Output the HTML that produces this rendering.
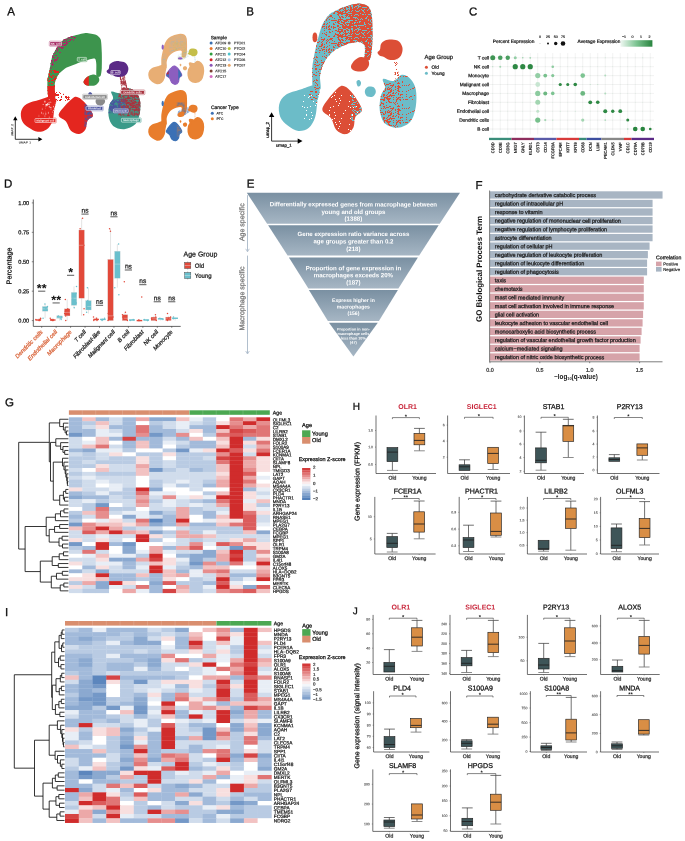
<!DOCTYPE html><html><head><meta charset="utf-8"><title>Figure</title><style>html,body{margin:0;padding:0;background:#fff;width:685px;height:841px;overflow:hidden}svg{display:block}text{font-family:"Liberation Sans",sans-serif}</style></head><body><svg width="685" height="841" viewBox="0 0 685 841" font-family='"Liberation Sans", sans-serif' style="will-change:transform"><defs><path id="u_arch" d="M34.00 86.00 C33.04 84.60 33.36 76.75 33.30 74.00 C33.24 71.25 33.07 65.94 33.50 62.40 C33.93 58.87 35.90 48.33 37.00 43.70 C38.10 39.07 41.27 26.52 42.90 22.70 C44.53 18.88 48.42 13.18 51.00 11.00 C53.58 8.82 61.73 5.22 65.00 4.00 C68.27 2.78 76.26 0.64 79.00 0.50 C81.74 0.36 86.90 1.57 88.50 2.80 C90.10 4.02 92.10 7.59 92.70 11.00 C93.29 14.41 93.60 27.64 93.60 32.00 C93.60 36.36 93.06 45.48 92.70 48.40 C92.34 51.32 91.34 56.00 90.50 57.00 C89.66 58.00 86.03 58.17 85.50 57.00 C84.97 55.83 86.06 48.82 86.00 47.00 C85.94 45.18 85.80 42.33 85.00 41.40 C84.20 40.47 81.15 39.00 79.10 39.00 C77.05 39.00 70.13 40.44 67.40 41.40 C64.67 42.36 58.01 45.57 55.70 47.20 C53.39 48.83 49.09 53.36 47.60 55.40 C46.11 57.44 43.67 62.53 42.90 64.70 C42.13 66.87 41.16 71.52 41.00 74.00 C40.84 76.48 42.32 84.60 41.50 86.00 C40.68 87.40 34.96 87.40 34.00 86.00 Z"/>
<path id="u_left" d="M21.40 86.60 C16.83 88.20 10.13 89.52 6.60 92.00 C3.07 94.48 1.08 97.83 0.20 101.50 C-0.68 105.17 -0.12 110.48 1.30 114.00 C2.72 117.52 5.70 120.27 8.70 122.60 C11.70 124.93 15.77 127.65 19.30 128.00 C22.83 128.35 27.08 127.03 29.90 124.70 C32.72 122.37 34.80 118.23 36.20 114.00 C37.60 109.77 37.58 103.87 38.30 99.30 C39.02 94.73 41.22 89.42 40.50 86.60 C39.78 83.78 37.18 82.40 34.00 82.40 C30.82 82.40 25.97 85.00 21.40 86.60 Z"/>
<path id="u_center" d="M59.50 84.50 C56.32 87.13 49.45 95.42 46.80 99.30 C44.15 103.18 42.73 105.15 43.60 107.80 C44.47 110.45 49.70 112.02 52.00 115.20 C54.30 118.38 54.92 124.25 57.40 126.90 C59.88 129.55 64.08 131.47 66.90 131.10 C69.72 130.73 72.72 127.55 74.30 124.70 C75.88 121.85 74.98 116.82 76.40 114.00 C77.82 111.18 82.27 110.25 82.80 107.80 C83.33 105.35 81.37 102.47 79.60 99.30 C77.83 96.12 74.48 91.38 72.20 88.75 C69.92 86.12 68.02 84.21 65.90 83.50 C63.78 82.79 62.68 81.87 59.50 84.50 Z"/>
<path id="u_right" d="M104.00 76.00 C105.42 74.92 111.33 78.70 114.50 78.00 C117.67 77.30 120.17 72.13 123.00 71.80 C125.83 71.47 129.20 73.53 131.50 76.00 C133.80 78.47 135.92 82.00 136.80 86.60 C137.68 91.20 137.68 98.30 136.80 103.60 C135.92 108.90 134.50 114.88 131.50 118.40 C128.50 121.92 123.05 124.35 118.80 124.70 C114.55 125.05 109.00 123.32 106.00 120.50 C103.00 117.68 101.50 112.38 100.80 107.80 C100.10 103.22 100.93 96.88 101.80 93.00 C102.67 89.12 105.63 87.33 106.00 84.50 C106.37 81.67 102.58 77.08 104.00 76.00 Z"/>
<path id="u_topr" d="M102.00 41.00 C102.83 39.50 104.17 38.25 106.00 37.50 C107.83 36.75 110.67 36.33 113.00 36.50 C115.33 36.67 118.25 37.08 120.00 38.50 C121.75 39.92 123.17 42.67 123.50 45.00 C123.83 47.33 123.08 50.58 122.00 52.50 C120.92 54.42 119.00 55.78 117.00 56.50 C115.00 57.22 112.00 57.22 110.00 56.80 C108.00 56.38 106.58 54.72 105.00 54.00 C103.42 53.28 101.58 53.25 100.50 52.50 C99.42 51.75 98.42 50.50 98.50 49.50 C98.58 48.50 100.42 47.92 101.00 46.50 C101.58 45.08 101.17 42.50 102.00 41.00 Z"/>
<path id="u_archend" d="M72.00 63.00 C72.33 61.33 74.33 58.50 76.00 57.00 C77.67 55.50 79.92 54.17 82.00 54.00 C84.08 53.83 87.17 54.67 88.50 56.00 C89.83 57.33 90.42 60.08 90.00 62.00 C89.58 63.92 87.83 66.42 86.00 67.50 C84.17 68.58 81.00 68.58 79.00 68.50 C77.00 68.42 75.17 67.92 74.00 67.00 C72.83 66.08 71.67 64.67 72.00 63.00 Z"/>
<path id="u_small1" d="M86.50 86.00 C87.17 84.92 88.58 83.75 90.00 83.50 C91.42 83.25 93.87 83.58 95.00 84.50 C96.13 85.42 96.97 87.50 96.80 89.00 C96.63 90.50 95.38 92.75 94.00 93.50 C92.62 94.25 89.83 94.08 88.50 93.50 C87.17 92.92 86.33 91.25 86.00 90.00 C85.67 88.75 85.83 87.08 86.50 86.00 Z"/>
<path id="u_small2" d="M77.50 78.50 C77.75 77.50 79.25 76.83 80.00 77.00 C80.75 77.17 81.83 78.50 82.00 79.50 C82.17 80.50 81.58 82.42 81.00 83.00 C80.42 83.58 79.08 83.75 78.50 83.00 C77.92 82.25 77.25 79.50 77.50 78.50 Z"/>
<path id="u_conn" d="M115.00 56.00 C115.42 54.50 117.33 54.17 118.00 56.00 C118.67 57.83 118.67 63.83 119.00 67.00 C119.33 70.17 120.50 73.67 120.00 75.00 C119.50 76.33 116.75 76.67 116.00 75.00 C115.25 73.33 115.67 68.17 115.50 65.00 C115.33 61.83 114.58 57.50 115.00 56.00 Z"/>
<pattern id="spR55" width="23" height="23" patternUnits="userSpaceOnUse"><path fill="#DC4E36" d="M0 0h3v1h-3zM4 0h2v1h-2zM6 0h2v1h-2zM8 0h1v1h-1zM9 0h1v1h-1zM10 0h1v1h-1zM12 0h1v1h-1zM14 0h1v1h-1zM16 0h2v1h-2zM18 0h1v1h-1zM22 0h1v1h-1zM1 1h1v1h-1zM3 1h3v1h-3zM6 1h1v1h-1zM7 1h3v1h-3zM18 1h1v1h-1zM0 2h1v1h-1zM2 2h2v1h-2zM5 2h1v1h-1zM6 2h3v1h-3zM10 2h1v1h-1zM11 2h1v1h-1zM12 2h1v1h-1zM14 2h1v1h-1zM15 2h2v1h-2zM17 2h3v1h-3zM20 2h2v1h-2zM22 2h1v1h-1zM2 3h3v1h-3zM9 3h2v1h-2zM11 3h2v1h-2zM13 3h3v1h-3zM17 3h1v1h-1zM19 3h1v1h-1zM20 3h1v1h-1zM21 3h1v1h-1zM0 4h2v1h-2zM3 4h2v1h-2zM5 4h3v1h-3zM9 4h2v1h-2zM11 4h1v1h-1zM13 4h2v1h-2zM15 4h3v1h-3zM18 4h3v1h-3zM21 4h1v1h-1zM22 4h1v1h-1zM0 5h1v1h-1zM2 5h3v1h-3zM5 5h1v1h-1zM7 5h2v1h-2zM11 5h3v1h-3zM14 5h3v1h-3zM17 5h1v1h-1zM18 5h2v1h-2zM22 5h1v1h-1zM2 6h1v1h-1zM5 6h3v1h-3zM8 6h1v1h-1zM9 6h1v1h-1zM10 6h1v1h-1zM16 6h1v1h-1zM17 6h2v1h-2zM19 6h2v1h-2zM22 6h1v1h-1zM0 7h1v1h-1zM1 7h1v1h-1zM2 7h3v1h-3zM5 7h1v1h-1zM9 7h1v1h-1zM11 7h3v1h-3zM14 7h2v1h-2zM16 7h3v1h-3zM19 7h1v1h-1zM21 7h2v1h-2zM0 8h3v1h-3zM4 8h3v1h-3zM9 8h3v1h-3zM14 8h1v1h-1zM16 8h3v1h-3zM19 8h1v1h-1zM20 8h3v1h-3zM1 9h3v1h-3zM5 9h1v1h-1zM7 9h3v1h-3zM16 9h1v1h-1zM17 9h2v1h-2zM19 9h3v1h-3zM22 9h1v1h-1zM0 10h1v1h-1zM1 10h1v1h-1zM7 10h1v1h-1zM8 10h1v1h-1zM9 10h1v1h-1zM11 10h2v1h-2zM14 10h3v1h-3zM18 10h3v1h-3zM21 10h2v1h-2zM0 11h1v1h-1zM1 11h1v1h-1zM2 11h1v1h-1zM5 11h2v1h-2zM8 11h2v1h-2zM11 11h2v1h-2zM13 11h3v1h-3zM16 11h2v1h-2zM19 11h1v1h-1zM20 11h1v1h-1zM22 11h1v1h-1zM0 12h3v1h-3zM3 12h3v1h-3zM6 12h1v1h-1zM7 12h1v1h-1zM8 12h1v1h-1zM11 12h1v1h-1zM13 12h1v1h-1zM15 12h3v1h-3zM21 12h2v1h-2zM0 13h2v1h-2zM4 13h1v1h-1zM5 13h2v1h-2zM7 13h2v1h-2zM9 13h2v1h-2zM12 13h3v1h-3zM15 13h1v1h-1zM17 13h3v1h-3zM21 13h1v1h-1zM0 14h1v1h-1zM1 14h1v1h-1zM3 14h1v1h-1zM6 14h1v1h-1zM9 14h3v1h-3zM15 14h1v1h-1zM17 14h1v1h-1zM19 14h1v1h-1zM20 14h2v1h-2zM2 15h3v1h-3zM7 15h1v1h-1zM8 15h3v1h-3zM11 15h3v1h-3zM14 15h3v1h-3zM18 15h1v1h-1zM19 15h3v1h-3zM1 16h3v1h-3zM7 16h3v1h-3zM11 16h2v1h-2zM13 16h1v1h-1zM16 16h1v1h-1zM21 16h1v1h-1zM22 16h1v1h-1zM2 17h1v1h-1zM4 17h3v1h-3zM7 17h3v1h-3zM10 17h1v1h-1zM13 17h1v1h-1zM15 17h3v1h-3zM18 17h1v1h-1zM19 17h1v1h-1zM21 17h1v1h-1zM3 18h1v1h-1zM6 18h1v1h-1zM7 18h3v1h-3zM10 18h3v1h-3zM13 18h2v1h-2zM15 18h2v1h-2zM17 18h2v1h-2zM20 18h3v1h-3zM1 19h3v1h-3zM4 19h3v1h-3zM7 19h3v1h-3zM10 19h3v1h-3zM13 19h3v1h-3zM16 19h3v1h-3zM20 19h3v1h-3zM0 20h1v1h-1zM1 20h3v1h-3zM4 20h1v1h-1zM5 20h1v1h-1zM6 20h3v1h-3zM10 20h2v1h-2zM14 20h3v1h-3zM17 20h2v1h-2zM20 20h1v1h-1zM21 20h1v1h-1zM1 21h2v1h-2zM4 21h2v1h-2zM6 21h3v1h-3zM10 21h1v1h-1zM15 21h3v1h-3zM18 21h3v1h-3zM0 22h3v1h-3zM3 22h2v1h-2zM6 22h2v1h-2zM11 22h1v1h-1zM13 22h3v1h-3zM17 22h1v1h-1zM18 22h2v1h-2zM20 22h3v1h-3z"/></pattern>
<pattern id="spR25" width="23" height="23" patternUnits="userSpaceOnUse"><path fill="#DC4E36" d="M0 0h2v1h-2zM3 0h2v1h-2zM6 0h1v1h-1zM8 0h1v1h-1zM12 0h2v1h-2zM15 0h1v1h-1zM18 0h2v1h-2zM1 1h1v1h-1zM3 1h1v1h-1zM6 1h1v1h-1zM8 1h1v1h-1zM9 1h2v1h-2zM20 1h1v1h-1zM0 2h2v1h-2zM4 2h1v1h-1zM8 2h1v1h-1zM13 2h2v1h-2zM15 2h2v1h-2zM3 3h3v1h-3zM13 3h1v1h-1zM15 3h3v1h-3zM18 3h1v1h-1zM19 3h2v1h-2zM22 3h1v1h-1zM10 4h2v1h-2zM16 4h1v1h-1zM17 4h1v1h-1zM18 4h1v1h-1zM4 5h1v1h-1zM7 5h1v1h-1zM12 5h2v1h-2zM17 5h1v1h-1zM0 6h2v1h-2zM4 6h2v1h-2zM17 6h1v1h-1zM18 6h1v1h-1zM10 7h1v1h-1zM15 7h1v1h-1zM18 7h2v1h-2zM20 7h1v1h-1zM0 8h2v1h-2zM10 8h2v1h-2zM12 8h1v1h-1zM20 8h1v1h-1zM9 9h1v1h-1zM12 9h1v1h-1zM22 9h1v1h-1zM3 10h1v1h-1zM4 10h1v1h-1zM8 10h2v1h-2zM15 10h1v1h-1zM20 10h1v1h-1zM12 11h1v1h-1zM13 11h1v1h-1zM18 11h1v1h-1zM19 11h1v1h-1zM20 11h1v1h-1zM5 12h2v1h-2zM7 12h1v1h-1zM13 12h1v1h-1zM16 12h2v1h-2zM20 12h2v1h-2zM0 13h1v1h-1zM2 13h1v1h-1zM4 13h3v1h-3zM20 13h1v1h-1zM21 13h1v1h-1zM1 14h1v1h-1zM3 14h1v1h-1zM7 14h1v1h-1zM20 14h1v1h-1zM2 15h1v1h-1zM9 15h1v1h-1zM17 15h1v1h-1zM21 15h1v1h-1zM1 16h1v1h-1zM4 16h1v1h-1zM14 16h1v1h-1zM19 16h1v1h-1zM20 16h1v1h-1zM6 17h1v1h-1zM7 17h2v1h-2zM9 17h3v1h-3zM14 17h1v1h-1zM17 17h2v1h-2zM12 18h1v1h-1zM19 18h1v1h-1zM4 19h1v1h-1zM10 19h1v1h-1zM12 19h1v1h-1zM13 19h1v1h-1zM19 19h1v1h-1zM20 19h1v1h-1zM2 20h1v1h-1zM8 20h1v1h-1zM20 20h1v1h-1zM22 20h1v1h-1zM8 21h2v1h-2zM17 21h1v1h-1zM20 21h3v1h-3zM4 22h1v1h-1zM12 22h2v1h-2zM22 22h1v1h-1z"/></pattern>
<pattern id="spR45" width="23" height="23" patternUnits="userSpaceOnUse"><path fill="#DC4E36" d="M0 0h3v1h-3zM5 0h1v1h-1zM10 0h2v1h-2zM12 0h2v1h-2zM17 0h3v1h-3zM20 0h3v1h-3zM0 1h3v1h-3zM3 1h1v1h-1zM4 1h1v1h-1zM10 1h3v1h-3zM14 1h2v1h-2zM17 1h1v1h-1zM18 1h2v1h-2zM20 1h3v1h-3zM0 2h3v1h-3zM11 2h2v1h-2zM13 2h1v1h-1zM18 2h3v1h-3zM2 3h1v1h-1zM5 3h3v1h-3zM8 3h1v1h-1zM10 3h1v1h-1zM14 3h1v1h-1zM15 3h1v1h-1zM16 3h2v1h-2zM21 3h2v1h-2zM0 4h1v1h-1zM2 4h2v1h-2zM5 4h1v1h-1zM6 4h1v1h-1zM7 4h2v1h-2zM13 4h1v1h-1zM16 4h2v1h-2zM19 4h2v1h-2zM22 4h1v1h-1zM2 5h2v1h-2zM5 5h2v1h-2zM8 5h1v1h-1zM11 5h3v1h-3zM14 5h3v1h-3zM17 5h1v1h-1zM19 5h2v1h-2zM0 6h1v1h-1zM2 6h2v1h-2zM4 6h1v1h-1zM6 6h3v1h-3zM9 6h2v1h-2zM14 6h1v1h-1zM15 6h1v1h-1zM18 6h1v1h-1zM20 6h1v1h-1zM1 7h3v1h-3zM10 7h1v1h-1zM11 7h2v1h-2zM14 7h1v1h-1zM19 7h1v1h-1zM20 7h2v1h-2zM22 7h1v1h-1zM2 8h1v1h-1zM4 8h1v1h-1zM5 8h2v1h-2zM8 8h3v1h-3zM12 8h1v1h-1zM13 8h1v1h-1zM15 8h1v1h-1zM17 8h2v1h-2zM20 8h2v1h-2zM0 9h3v1h-3zM3 9h1v1h-1zM4 9h2v1h-2zM6 9h2v1h-2zM8 9h1v1h-1zM9 9h1v1h-1zM11 9h3v1h-3zM14 9h3v1h-3zM17 9h1v1h-1zM20 9h1v1h-1zM4 10h2v1h-2zM7 10h3v1h-3zM10 10h1v1h-1zM11 10h3v1h-3zM14 10h3v1h-3zM17 10h1v1h-1zM18 10h3v1h-3zM21 10h2v1h-2zM0 11h2v1h-2zM2 11h3v1h-3zM8 11h3v1h-3zM11 11h1v1h-1zM12 11h1v1h-1zM16 11h2v1h-2zM21 11h2v1h-2zM1 12h1v1h-1zM2 12h1v1h-1zM4 12h2v1h-2zM7 12h1v1h-1zM10 12h2v1h-2zM13 12h1v1h-1zM20 12h1v1h-1zM21 12h2v1h-2zM0 13h3v1h-3zM3 13h2v1h-2zM5 13h1v1h-1zM6 13h1v1h-1zM11 13h2v1h-2zM13 13h2v1h-2zM16 13h2v1h-2zM21 13h1v1h-1zM2 14h3v1h-3zM7 14h2v1h-2zM9 14h1v1h-1zM14 14h2v1h-2zM17 14h2v1h-2zM20 14h1v1h-1zM2 15h3v1h-3zM5 15h2v1h-2zM7 15h1v1h-1zM10 15h1v1h-1zM15 15h1v1h-1zM0 16h2v1h-2zM2 16h1v1h-1zM3 16h3v1h-3zM7 16h2v1h-2zM10 16h3v1h-3zM13 16h3v1h-3zM16 16h2v1h-2zM21 16h1v1h-1zM22 16h1v1h-1zM12 17h1v1h-1zM13 17h1v1h-1zM15 17h1v1h-1zM18 17h1v1h-1zM19 17h3v1h-3zM22 17h1v1h-1zM0 18h1v1h-1zM2 18h2v1h-2zM4 18h2v1h-2zM8 18h1v1h-1zM9 18h1v1h-1zM11 18h1v1h-1zM13 18h2v1h-2zM16 18h1v1h-1zM19 18h3v1h-3zM2 19h3v1h-3zM7 19h1v1h-1zM9 19h1v1h-1zM11 19h1v1h-1zM16 19h3v1h-3zM19 19h1v1h-1zM0 20h3v1h-3zM3 20h1v1h-1zM7 20h2v1h-2zM11 20h3v1h-3zM14 20h1v1h-1zM18 20h1v1h-1zM19 20h1v1h-1zM21 20h2v1h-2zM1 21h3v1h-3zM4 21h3v1h-3zM7 21h3v1h-3zM15 21h1v1h-1zM16 21h2v1h-2zM19 21h2v1h-2zM22 21h1v1h-1zM1 22h2v1h-2zM3 22h2v1h-2zM6 22h3v1h-3zM9 22h1v1h-1zM12 22h1v1h-1zM13 22h1v1h-1zM17 22h2v1h-2zM20 22h2v1h-2z"/></pattern>
<pattern id="spR65" width="23" height="23" patternUnits="userSpaceOnUse"><path fill="#DC4E36" d="M0 0h2v1h-2zM2 0h2v1h-2zM5 0h3v1h-3zM9 0h2v1h-2zM11 0h3v1h-3zM14 0h2v1h-2zM16 0h1v1h-1zM18 0h1v1h-1zM19 0h2v1h-2zM21 0h2v1h-2zM2 1h3v1h-3zM5 1h3v1h-3zM8 1h3v1h-3zM12 1h3v1h-3zM15 1h3v1h-3zM18 1h3v1h-3zM21 1h2v1h-2zM1 2h3v1h-3zM5 2h1v1h-1zM6 2h3v1h-3zM11 2h3v1h-3zM14 2h2v1h-2zM16 2h3v1h-3zM21 2h2v1h-2zM0 3h1v1h-1zM1 3h3v1h-3zM4 3h3v1h-3zM9 3h1v1h-1zM13 3h2v1h-2zM15 3h1v1h-1zM16 3h3v1h-3zM19 3h3v1h-3zM22 3h1v1h-1zM2 4h1v1h-1zM3 4h2v1h-2zM5 4h1v1h-1zM7 4h3v1h-3zM11 4h3v1h-3zM19 4h2v1h-2zM21 4h2v1h-2zM0 5h3v1h-3zM3 5h3v1h-3zM6 5h3v1h-3zM10 5h3v1h-3zM13 5h3v1h-3zM16 5h2v1h-2zM18 5h3v1h-3zM22 5h1v1h-1zM0 6h2v1h-2zM2 6h2v1h-2zM4 6h1v1h-1zM5 6h1v1h-1zM6 6h2v1h-2zM8 6h1v1h-1zM9 6h1v1h-1zM10 6h3v1h-3zM14 6h1v1h-1zM15 6h1v1h-1zM17 6h3v1h-3zM21 6h2v1h-2zM0 7h1v1h-1zM1 7h3v1h-3zM4 7h3v1h-3zM8 7h3v1h-3zM12 7h2v1h-2zM16 7h3v1h-3zM20 7h3v1h-3zM0 8h3v1h-3zM4 8h3v1h-3zM7 8h1v1h-1zM11 8h2v1h-2zM13 8h2v1h-2zM16 8h3v1h-3zM19 8h2v1h-2zM21 8h2v1h-2zM1 9h3v1h-3zM4 9h1v1h-1zM6 9h1v1h-1zM7 9h3v1h-3zM10 9h3v1h-3zM13 9h3v1h-3zM17 9h2v1h-2zM19 9h3v1h-3zM1 10h2v1h-2zM3 10h3v1h-3zM6 10h3v1h-3zM9 10h3v1h-3zM13 10h3v1h-3zM16 10h3v1h-3zM19 10h1v1h-1zM20 10h3v1h-3zM0 11h1v1h-1zM2 11h1v1h-1zM3 11h1v1h-1zM4 11h3v1h-3zM10 11h3v1h-3zM13 11h1v1h-1zM16 11h1v1h-1zM18 11h1v1h-1zM19 11h1v1h-1zM1 12h3v1h-3zM4 12h2v1h-2zM7 12h3v1h-3zM11 12h1v1h-1zM12 12h3v1h-3zM15 12h1v1h-1zM16 12h3v1h-3zM19 12h3v1h-3zM22 12h1v1h-1zM1 13h2v1h-2zM5 13h3v1h-3zM8 13h3v1h-3zM11 13h3v1h-3zM14 13h1v1h-1zM15 13h3v1h-3zM18 13h1v1h-1zM20 13h1v1h-1zM21 13h2v1h-2zM0 14h1v1h-1zM4 14h1v1h-1zM9 14h3v1h-3zM12 14h3v1h-3zM15 14h3v1h-3zM19 14h1v1h-1zM20 14h3v1h-3zM0 15h2v1h-2zM2 15h1v1h-1zM4 15h3v1h-3zM8 15h1v1h-1zM10 15h3v1h-3zM14 15h3v1h-3zM19 15h2v1h-2zM21 15h2v1h-2zM1 16h2v1h-2zM5 16h2v1h-2zM7 16h2v1h-2zM9 16h1v1h-1zM11 16h1v1h-1zM13 16h1v1h-1zM15 16h2v1h-2zM17 16h1v1h-1zM18 16h2v1h-2zM21 16h2v1h-2zM0 17h2v1h-2zM3 17h3v1h-3zM6 17h1v1h-1zM9 17h2v1h-2zM11 17h1v1h-1zM12 17h2v1h-2zM14 17h3v1h-3zM17 17h3v1h-3zM21 17h1v1h-1zM0 18h3v1h-3zM3 18h1v1h-1zM4 18h3v1h-3zM7 18h1v1h-1zM8 18h1v1h-1zM9 18h2v1h-2zM13 18h2v1h-2zM15 18h3v1h-3zM18 18h2v1h-2zM20 18h1v1h-1zM21 18h1v1h-1zM1 19h1v1h-1zM3 19h2v1h-2zM5 19h1v1h-1zM8 19h1v1h-1zM10 19h1v1h-1zM12 19h3v1h-3zM15 19h1v1h-1zM17 19h1v1h-1zM18 19h2v1h-2zM20 19h3v1h-3zM0 20h3v1h-3zM3 20h3v1h-3zM7 20h2v1h-2zM9 20h2v1h-2zM11 20h3v1h-3zM14 20h2v1h-2zM17 20h3v1h-3zM21 20h2v1h-2zM0 21h1v1h-1zM1 21h1v1h-1zM2 21h1v1h-1zM3 21h1v1h-1zM4 21h1v1h-1zM5 21h2v1h-2zM7 21h3v1h-3zM10 21h2v1h-2zM12 21h1v1h-1zM13 21h1v1h-1zM14 21h2v1h-2zM18 21h1v1h-1zM19 21h2v1h-2zM0 22h1v1h-1zM1 22h1v1h-1zM3 22h3v1h-3zM9 22h1v1h-1zM16 22h1v1h-1zM17 22h3v1h-3zM20 22h3v1h-3z"/></pattern>
<pattern id="spR30" width="23" height="23" patternUnits="userSpaceOnUse"><path fill="#DC4E36" d="M0 0h2v1h-2zM2 0h2v1h-2zM7 0h1v1h-1zM8 0h3v1h-3zM15 0h1v1h-1zM20 0h1v1h-1zM0 1h1v1h-1zM1 1h1v1h-1zM13 1h1v1h-1zM15 1h2v1h-2zM17 1h1v1h-1zM21 1h1v1h-1zM22 1h1v1h-1zM1 2h1v1h-1zM6 2h3v1h-3zM10 2h1v1h-1zM11 2h1v1h-1zM12 2h1v1h-1zM17 2h2v1h-2zM1 3h2v1h-2zM3 3h1v1h-1zM6 3h3v1h-3zM10 3h2v1h-2zM13 3h3v1h-3zM17 3h2v1h-2zM19 3h1v1h-1zM20 3h1v1h-1zM2 4h1v1h-1zM3 4h1v1h-1zM4 4h1v1h-1zM7 4h3v1h-3zM10 4h1v1h-1zM11 4h2v1h-2zM21 4h2v1h-2zM11 5h1v1h-1zM13 5h1v1h-1zM16 5h1v1h-1zM17 5h1v1h-1zM19 5h2v1h-2zM1 6h2v1h-2zM3 6h1v1h-1zM4 6h1v1h-1zM9 6h1v1h-1zM15 6h2v1h-2zM20 6h1v1h-1zM0 7h1v1h-1zM2 7h1v1h-1zM6 7h1v1h-1zM8 7h2v1h-2zM15 7h1v1h-1zM16 7h1v1h-1zM20 7h1v1h-1zM21 7h2v1h-2zM5 8h1v1h-1zM10 8h2v1h-2zM4 9h1v1h-1zM7 9h3v1h-3zM10 9h1v1h-1zM15 9h1v1h-1zM17 9h1v1h-1zM20 9h2v1h-2zM3 10h1v1h-1zM9 10h1v1h-1zM21 10h1v1h-1zM5 11h1v1h-1zM6 11h2v1h-2zM13 11h2v1h-2zM19 11h3v1h-3zM1 12h3v1h-3zM4 12h1v1h-1zM8 12h1v1h-1zM9 12h3v1h-3zM12 12h2v1h-2zM14 12h1v1h-1zM3 13h1v1h-1zM5 13h2v1h-2zM7 13h1v1h-1zM13 13h1v1h-1zM14 13h1v1h-1zM15 13h2v1h-2zM18 13h1v1h-1zM21 13h1v1h-1zM7 14h1v1h-1zM13 14h1v1h-1zM14 14h1v1h-1zM7 15h1v1h-1zM11 15h3v1h-3zM16 15h1v1h-1zM19 15h1v1h-1zM22 15h1v1h-1zM1 16h1v1h-1zM2 16h1v1h-1zM6 16h1v1h-1zM8 16h1v1h-1zM12 16h1v1h-1zM16 16h2v1h-2zM19 16h1v1h-1zM2 17h1v1h-1zM3 17h3v1h-3zM6 17h1v1h-1zM7 17h1v1h-1zM8 17h3v1h-3zM14 17h1v1h-1zM17 17h2v1h-2zM19 17h1v1h-1zM20 17h1v1h-1zM0 18h1v1h-1zM1 18h1v1h-1zM2 18h1v1h-1zM3 18h3v1h-3zM11 18h2v1h-2zM16 18h1v1h-1zM20 18h3v1h-3zM7 19h3v1h-3zM11 19h1v1h-1zM16 19h1v1h-1zM18 19h3v1h-3zM1 20h1v1h-1zM4 20h1v1h-1zM8 20h2v1h-2zM12 20h2v1h-2zM18 20h1v1h-1zM22 20h1v1h-1zM2 21h3v1h-3zM8 21h1v1h-1zM13 21h1v1h-1zM18 21h1v1h-1zM19 21h1v1h-1zM22 21h1v1h-1zM2 22h1v1h-1zM4 22h1v1h-1zM8 22h2v1h-2zM11 22h1v1h-1zM12 22h1v1h-1zM15 22h1v1h-1zM16 22h1v1h-1zM19 22h1v1h-1zM20 22h1v1h-1zM22 22h1v1h-1z"/></pattern>
<pattern id="spR15" width="23" height="23" patternUnits="userSpaceOnUse"><path fill="#DC4E36" d="M6 0h1v1h-1zM10 0h1v1h-1zM14 0h1v1h-1zM20 0h1v1h-1zM21 0h2v1h-2zM17 1h2v1h-2zM20 1h1v1h-1zM5 2h1v1h-1zM6 2h1v1h-1zM8 2h1v1h-1zM11 2h2v1h-2zM22 2h1v1h-1zM3 3h1v1h-1zM4 3h1v1h-1zM13 3h2v1h-2zM17 3h1v1h-1zM2 4h1v1h-1zM3 4h1v1h-1zM5 4h1v1h-1zM9 4h1v1h-1zM10 4h1v1h-1zM22 4h1v1h-1zM6 5h1v1h-1zM2 6h1v1h-1zM14 7h1v1h-1zM20 7h1v1h-1zM22 7h1v1h-1zM0 8h1v1h-1zM3 8h1v1h-1zM9 8h1v1h-1zM12 8h1v1h-1zM14 8h1v1h-1zM15 8h1v1h-1zM1 9h1v1h-1zM8 9h2v1h-2zM11 9h1v1h-1zM8 10h1v1h-1zM13 10h1v1h-1zM4 11h1v1h-1zM14 11h1v1h-1zM19 11h1v1h-1zM9 12h1v1h-1zM15 12h1v1h-1zM22 12h1v1h-1zM4 13h1v1h-1zM8 13h1v1h-1zM13 13h1v1h-1zM15 13h1v1h-1zM19 13h2v1h-2zM21 13h2v1h-2zM3 14h1v1h-1zM9 14h1v1h-1zM21 14h1v1h-1zM4 15h1v1h-1zM5 15h2v1h-2zM12 15h1v1h-1zM13 15h1v1h-1zM17 15h1v1h-1zM20 15h1v1h-1zM4 16h1v1h-1zM14 16h2v1h-2zM16 16h1v1h-1zM19 16h1v1h-1zM1 17h1v1h-1zM13 17h1v1h-1zM20 17h1v1h-1zM3 18h1v1h-1zM4 18h1v1h-1zM19 18h2v1h-2zM22 18h1v1h-1zM4 19h2v1h-2zM8 19h1v1h-1zM9 19h1v1h-1zM10 19h1v1h-1zM13 19h2v1h-2zM19 19h1v1h-1zM20 19h1v1h-1zM2 20h1v1h-1zM13 20h1v1h-1zM14 20h1v1h-1zM17 20h2v1h-2zM19 20h1v1h-1zM22 20h1v1h-1zM1 21h1v1h-1zM4 21h1v1h-1zM21 21h2v1h-2zM4 22h1v1h-1zM6 22h3v1h-3zM16 22h1v1h-1zM19 22h1v1h-1z"/></pattern>
<pattern id="spC20" width="23" height="23" patternUnits="userSpaceOnUse"><path fill="#6CBCC8" d="M4 0h1v1h-1zM15 0h1v1h-1zM22 0h1v1h-1zM3 1h2v1h-2zM18 1h1v1h-1zM22 1h1v1h-1zM2 2h1v1h-1zM4 2h1v1h-1zM5 2h1v1h-1zM8 2h1v1h-1zM9 2h1v1h-1zM15 2h1v1h-1zM16 2h1v1h-1zM9 3h1v1h-1zM13 3h3v1h-3zM4 4h1v1h-1zM19 4h1v1h-1zM20 4h2v1h-2zM22 4h1v1h-1zM4 5h2v1h-2zM12 5h1v1h-1zM13 5h1v1h-1zM15 5h1v1h-1zM16 5h2v1h-2zM22 5h1v1h-1zM1 6h1v1h-1zM8 6h1v1h-1zM15 6h1v1h-1zM19 6h1v1h-1zM1 7h2v1h-2zM5 7h2v1h-2zM7 7h1v1h-1zM12 7h1v1h-1zM13 7h1v1h-1zM16 7h2v1h-2zM18 7h1v1h-1zM19 7h1v1h-1zM20 7h1v1h-1zM4 8h1v1h-1zM9 8h1v1h-1zM22 8h1v1h-1zM2 9h2v1h-2zM4 9h1v1h-1zM5 9h1v1h-1zM6 9h1v1h-1zM15 9h1v1h-1zM16 9h2v1h-2zM18 9h1v1h-1zM15 10h1v1h-1zM16 10h1v1h-1zM17 10h1v1h-1zM18 10h1v1h-1zM22 10h1v1h-1zM0 11h3v1h-3zM4 11h1v1h-1zM6 11h1v1h-1zM7 11h1v1h-1zM14 11h1v1h-1zM15 11h1v1h-1zM21 11h1v1h-1zM7 12h1v1h-1zM12 12h1v1h-1zM15 12h1v1h-1zM16 12h1v1h-1zM19 12h1v1h-1zM20 12h1v1h-1zM11 13h3v1h-3zM15 13h1v1h-1zM16 13h1v1h-1zM18 13h1v1h-1zM20 13h1v1h-1zM21 13h1v1h-1zM0 14h2v1h-2zM5 14h1v1h-1zM14 14h1v1h-1zM15 14h1v1h-1zM17 14h1v1h-1zM21 14h1v1h-1zM1 15h1v1h-1zM4 15h1v1h-1zM6 15h1v1h-1zM7 15h1v1h-1zM11 15h2v1h-2zM2 16h1v1h-1zM5 16h1v1h-1zM8 16h3v1h-3zM12 16h2v1h-2zM19 16h1v1h-1zM21 16h2v1h-2zM6 17h1v1h-1zM2 18h1v1h-1zM7 18h2v1h-2zM10 18h1v1h-1zM11 18h1v1h-1zM0 19h2v1h-2zM3 19h1v1h-1zM7 19h1v1h-1zM8 19h2v1h-2zM11 19h1v1h-1zM12 19h3v1h-3zM0 20h3v1h-3zM3 20h1v1h-1zM9 20h1v1h-1zM14 20h1v1h-1zM7 21h1v1h-1zM8 21h1v1h-1zM14 21h1v1h-1zM3 22h1v1h-1zM4 22h1v1h-1zM18 22h1v1h-1zM20 22h1v1h-1zM21 22h2v1h-2z"/></pattern>
<pattern id="spW10" width="23" height="23" patternUnits="userSpaceOnUse"><path fill="#ffffff" d="M3 0h1v1h-1zM5 0h1v1h-1zM6 0h1v1h-1zM7 0h2v1h-2zM17 0h1v1h-1zM5 1h2v1h-2zM4 2h1v1h-1zM17 2h1v1h-1zM1 3h1v1h-1zM4 3h1v1h-1zM9 3h1v1h-1zM3 4h1v1h-1zM11 4h1v1h-1zM19 4h2v1h-2zM0 5h2v1h-2zM4 5h1v1h-1zM15 5h1v1h-1zM20 5h1v1h-1zM1 6h1v1h-1zM22 6h1v1h-1zM0 7h1v1h-1zM19 7h1v1h-1zM22 8h1v1h-1zM2 10h1v1h-1zM4 10h1v1h-1zM18 11h1v1h-1zM19 11h1v1h-1zM18 12h1v1h-1zM20 12h1v1h-1zM0 13h1v1h-1zM5 13h1v1h-1zM16 13h2v1h-2zM19 13h1v1h-1zM22 13h1v1h-1zM1 14h1v1h-1zM12 14h1v1h-1zM20 14h1v1h-1zM21 14h1v1h-1zM18 15h1v1h-1zM19 15h1v1h-1zM22 15h1v1h-1zM17 16h1v1h-1zM22 16h1v1h-1zM1 17h1v1h-1zM2 17h2v1h-2zM17 17h1v1h-1zM10 18h1v1h-1zM19 18h1v1h-1zM1 19h1v1h-1zM3 19h1v1h-1zM15 19h1v1h-1zM20 19h2v1h-2zM11 20h1v1h-1zM8 21h2v1h-2zM16 21h1v1h-1zM7 22h1v1h-1z"/></pattern>
<pattern id="spW05" width="23" height="23" patternUnits="userSpaceOnUse"><path fill="#ffffff" d="M2 0h1v1h-1zM9 0h1v1h-1zM16 0h1v1h-1zM7 1h1v1h-1zM6 2h1v1h-1zM14 3h1v1h-1zM10 4h1v1h-1zM15 5h1v1h-1zM1 6h1v1h-1zM11 6h1v1h-1zM14 8h1v1h-1zM13 10h1v1h-1zM0 11h1v1h-1zM8 11h1v1h-1zM2 12h1v1h-1zM5 12h1v1h-1zM4 15h1v1h-1zM20 15h1v1h-1zM9 17h1v1h-1zM18 18h1v1h-1zM4 19h1v1h-1zM4 20h1v1h-1zM10 20h1v1h-1z"/></pattern>
<pattern id="spR08" width="23" height="23" patternUnits="userSpaceOnUse"><path fill="#DC4E36" d="M0 0h1v1h-1zM20 0h1v1h-1zM12 1h1v1h-1zM16 1h1v1h-1zM17 1h1v1h-1zM2 2h1v1h-1zM4 2h1v1h-1zM15 2h1v1h-1zM6 4h1v1h-1zM9 4h1v1h-1zM11 4h1v1h-1zM12 4h2v1h-2zM18 4h1v1h-1zM2 5h1v1h-1zM1 7h1v1h-1zM4 10h1v1h-1zM3 11h1v1h-1zM4 11h2v1h-2zM15 12h1v1h-1zM10 13h1v1h-1zM12 13h1v1h-1zM14 13h1v1h-1zM1 14h1v1h-1zM4 14h1v1h-1zM5 14h1v1h-1zM1 15h1v1h-1zM20 15h1v1h-1zM3 16h1v1h-1zM18 16h1v1h-1zM19 16h1v1h-1zM4 17h1v1h-1zM16 17h1v1h-1zM4 18h1v1h-1zM14 18h1v1h-1zM12 19h1v1h-1zM12 22h1v1h-1z"/></pattern>
<pattern id="spG20" width="23" height="23" patternUnits="userSpaceOnUse"><path fill="#3D944D" d="M0 0h1v1h-1zM1 0h1v1h-1zM2 0h2v1h-2zM4 0h1v1h-1zM8 0h1v1h-1zM9 0h3v1h-3zM15 0h1v1h-1zM17 0h1v1h-1zM3 1h2v1h-2zM6 1h1v1h-1zM13 1h1v1h-1zM14 1h1v1h-1zM19 1h2v1h-2zM22 1h1v1h-1zM3 2h3v1h-3zM11 2h1v1h-1zM12 2h1v1h-1zM14 2h1v1h-1zM16 2h1v1h-1zM18 2h1v1h-1zM19 2h1v1h-1zM1 3h3v1h-3zM9 3h3v1h-3zM16 3h1v1h-1zM17 3h1v1h-1zM18 3h1v1h-1zM22 3h1v1h-1zM2 4h1v1h-1zM5 4h2v1h-2zM8 4h1v1h-1zM14 4h2v1h-2zM16 4h1v1h-1zM19 4h1v1h-1zM21 4h1v1h-1zM2 5h2v1h-2zM6 5h1v1h-1zM11 5h1v1h-1zM0 6h1v1h-1zM18 6h1v1h-1zM21 6h1v1h-1zM10 7h1v1h-1zM22 7h1v1h-1zM2 8h1v1h-1zM6 8h1v1h-1zM10 8h1v1h-1zM0 9h1v1h-1zM2 9h1v1h-1zM6 9h2v1h-2zM8 9h1v1h-1zM9 9h2v1h-2zM22 9h1v1h-1zM2 10h1v1h-1zM3 10h1v1h-1zM20 10h1v1h-1zM3 11h1v1h-1zM7 11h1v1h-1zM8 11h1v1h-1zM13 11h1v1h-1zM14 11h2v1h-2zM16 11h1v1h-1zM20 11h1v1h-1zM21 11h1v1h-1zM5 12h2v1h-2zM12 12h2v1h-2zM16 12h2v1h-2zM21 13h2v1h-2zM1 14h1v1h-1zM3 14h1v1h-1zM6 14h3v1h-3zM9 14h1v1h-1zM15 14h1v1h-1zM20 14h1v1h-1zM21 14h1v1h-1zM5 15h2v1h-2zM14 15h3v1h-3zM18 15h1v1h-1zM1 16h1v1h-1zM3 16h1v1h-1zM11 16h1v1h-1zM21 16h1v1h-1zM0 17h3v1h-3zM4 17h1v1h-1zM9 17h2v1h-2zM15 17h1v1h-1zM1 18h1v1h-1zM9 18h1v1h-1zM12 18h1v1h-1zM13 18h1v1h-1zM17 18h1v1h-1zM12 19h2v1h-2zM22 19h1v1h-1zM0 20h1v1h-1zM13 20h1v1h-1zM17 20h3v1h-3zM2 21h1v1h-1zM3 21h1v1h-1zM9 21h2v1h-2zM12 21h1v1h-1zM13 21h2v1h-2zM0 22h3v1h-3zM7 22h1v1h-1zM8 22h1v1h-1zM17 22h1v1h-1zM20 22h1v1h-1zM21 22h2v1h-2z"/></pattern>
<pattern id="spM30" width="23" height="23" patternUnits="userSpaceOnUse"><path fill="#A52A63" d="M2 0h1v1h-1zM3 0h1v1h-1zM5 0h1v1h-1zM7 0h1v1h-1zM11 0h3v1h-3zM19 0h2v1h-2zM0 1h3v1h-3zM4 1h1v1h-1zM6 1h1v1h-1zM8 1h1v1h-1zM10 1h1v1h-1zM11 1h1v1h-1zM13 1h3v1h-3zM16 1h2v1h-2zM22 1h1v1h-1zM1 2h1v1h-1zM3 2h1v1h-1zM5 2h2v1h-2zM8 2h1v1h-1zM10 2h1v1h-1zM11 2h1v1h-1zM15 2h2v1h-2zM22 2h1v1h-1zM1 3h1v1h-1zM2 3h1v1h-1zM3 3h2v1h-2zM5 3h1v1h-1zM6 3h1v1h-1zM10 3h1v1h-1zM12 3h1v1h-1zM18 3h1v1h-1zM19 3h2v1h-2zM21 3h1v1h-1zM1 4h3v1h-3zM7 4h1v1h-1zM8 4h2v1h-2zM11 4h1v1h-1zM16 4h1v1h-1zM20 4h2v1h-2zM22 4h1v1h-1zM1 5h1v1h-1zM2 5h3v1h-3zM7 5h1v1h-1zM11 5h1v1h-1zM17 5h1v1h-1zM19 5h1v1h-1zM21 5h1v1h-1zM2 6h1v1h-1zM5 6h1v1h-1zM9 6h1v1h-1zM13 6h2v1h-2zM15 6h2v1h-2zM19 6h1v1h-1zM20 6h1v1h-1zM21 6h1v1h-1zM3 7h3v1h-3zM6 7h3v1h-3zM17 7h2v1h-2zM19 7h1v1h-1zM21 7h2v1h-2zM1 8h2v1h-2zM4 8h3v1h-3zM15 8h3v1h-3zM19 8h1v1h-1zM21 8h2v1h-2zM4 9h1v1h-1zM5 9h2v1h-2zM7 9h1v1h-1zM9 9h1v1h-1zM10 9h1v1h-1zM15 9h1v1h-1zM16 9h2v1h-2zM20 9h1v1h-1zM22 9h1v1h-1zM1 10h1v1h-1zM2 10h2v1h-2zM4 10h3v1h-3zM13 10h1v1h-1zM15 10h2v1h-2zM17 10h1v1h-1zM20 10h1v1h-1zM21 10h1v1h-1zM3 11h2v1h-2zM6 11h2v1h-2zM8 11h1v1h-1zM11 11h2v1h-2zM14 11h3v1h-3zM18 11h2v1h-2zM3 12h1v1h-1zM11 12h1v1h-1zM15 12h1v1h-1zM20 12h2v1h-2zM0 13h1v1h-1zM1 13h3v1h-3zM8 13h3v1h-3zM11 13h1v1h-1zM17 13h1v1h-1zM20 13h1v1h-1zM21 13h1v1h-1zM0 14h1v1h-1zM2 14h1v1h-1zM4 14h3v1h-3zM8 14h1v1h-1zM9 14h2v1h-2zM11 14h3v1h-3zM18 14h1v1h-1zM20 14h1v1h-1zM21 14h2v1h-2zM0 15h1v1h-1zM5 15h1v1h-1zM8 15h1v1h-1zM14 15h1v1h-1zM16 15h1v1h-1zM17 15h1v1h-1zM18 15h1v1h-1zM21 15h1v1h-1zM1 16h2v1h-2zM3 16h1v1h-1zM6 16h1v1h-1zM10 16h1v1h-1zM16 16h3v1h-3zM19 16h1v1h-1zM20 16h1v1h-1zM22 16h1v1h-1zM1 17h1v1h-1zM4 17h1v1h-1zM6 17h1v1h-1zM11 17h1v1h-1zM17 17h1v1h-1zM20 17h1v1h-1zM0 18h1v1h-1zM5 18h2v1h-2zM7 18h1v1h-1zM10 18h2v1h-2zM18 18h1v1h-1zM20 18h1v1h-1zM22 18h1v1h-1zM3 19h1v1h-1zM6 19h1v1h-1zM10 19h2v1h-2zM14 19h1v1h-1zM16 19h1v1h-1zM17 19h2v1h-2zM19 19h2v1h-2zM21 19h1v1h-1zM0 20h1v1h-1zM1 20h1v1h-1zM8 20h2v1h-2zM10 20h1v1h-1zM12 20h2v1h-2zM14 20h1v1h-1zM20 20h2v1h-2zM1 21h2v1h-2zM5 21h1v1h-1zM9 21h1v1h-1zM10 21h2v1h-2zM12 21h2v1h-2zM14 21h3v1h-3zM18 21h2v1h-2zM20 21h1v1h-1zM2 22h1v1h-1zM3 22h1v1h-1zM4 22h1v1h-1zM9 22h1v1h-1zM15 22h3v1h-3zM18 22h3v1h-3zM21 22h1v1h-1z"/></pattern>
<pattern id="spRa30" width="23" height="23" patternUnits="userSpaceOnUse"><path fill="#E4261F" d="M3 0h1v1h-1zM6 0h1v1h-1zM7 0h2v1h-2zM10 0h1v1h-1zM13 0h1v1h-1zM17 0h1v1h-1zM21 0h2v1h-2zM0 1h1v1h-1zM1 1h1v1h-1zM3 1h1v1h-1zM5 1h1v1h-1zM7 1h2v1h-2zM9 1h1v1h-1zM14 1h1v1h-1zM17 1h1v1h-1zM18 1h2v1h-2zM0 2h2v1h-2zM2 2h2v1h-2zM4 2h1v1h-1zM8 2h1v1h-1zM9 2h1v1h-1zM10 2h3v1h-3zM17 2h1v1h-1zM21 2h1v1h-1zM5 3h1v1h-1zM8 3h2v1h-2zM10 3h3v1h-3zM2 4h2v1h-2zM15 4h1v1h-1zM19 4h1v1h-1zM20 4h1v1h-1zM22 4h1v1h-1zM0 5h3v1h-3zM3 5h1v1h-1zM12 5h1v1h-1zM15 5h1v1h-1zM19 5h1v1h-1zM20 5h3v1h-3zM3 6h1v1h-1zM6 6h1v1h-1zM7 6h1v1h-1zM20 6h1v1h-1zM22 6h1v1h-1zM0 7h2v1h-2zM3 7h3v1h-3zM8 7h1v1h-1zM10 7h1v1h-1zM14 7h2v1h-2zM21 7h2v1h-2zM1 8h1v1h-1zM5 8h2v1h-2zM9 8h1v1h-1zM11 8h1v1h-1zM13 8h2v1h-2zM19 8h1v1h-1zM21 8h1v1h-1zM0 9h1v1h-1zM1 9h1v1h-1zM2 9h1v1h-1zM8 9h3v1h-3zM11 9h2v1h-2zM14 9h1v1h-1zM15 9h1v1h-1zM17 9h3v1h-3zM1 10h1v1h-1zM7 10h1v1h-1zM8 10h2v1h-2zM10 10h2v1h-2zM13 10h1v1h-1zM17 10h2v1h-2zM20 10h1v1h-1zM1 11h1v1h-1zM3 11h1v1h-1zM5 11h1v1h-1zM6 11h1v1h-1zM7 11h1v1h-1zM12 11h3v1h-3zM15 11h2v1h-2zM20 11h3v1h-3zM0 12h1v1h-1zM2 12h1v1h-1zM3 12h1v1h-1zM8 12h1v1h-1zM10 12h2v1h-2zM15 12h3v1h-3zM18 12h2v1h-2zM20 12h3v1h-3zM13 13h2v1h-2zM19 13h2v1h-2zM21 13h1v1h-1zM22 13h1v1h-1zM5 14h1v1h-1zM6 14h1v1h-1zM9 14h2v1h-2zM15 14h1v1h-1zM16 14h1v1h-1zM17 14h1v1h-1zM3 15h1v1h-1zM10 15h2v1h-2zM13 15h1v1h-1zM17 15h1v1h-1zM18 15h2v1h-2zM8 16h1v1h-1zM11 16h3v1h-3zM15 16h2v1h-2zM17 16h1v1h-1zM19 16h1v1h-1zM0 17h1v1h-1zM3 17h1v1h-1zM5 17h1v1h-1zM7 17h1v1h-1zM8 17h2v1h-2zM13 17h1v1h-1zM18 17h1v1h-1zM22 17h1v1h-1zM2 18h1v1h-1zM4 18h1v1h-1zM7 18h1v1h-1zM10 18h2v1h-2zM12 18h1v1h-1zM13 18h1v1h-1zM15 18h2v1h-2zM17 18h1v1h-1zM18 18h1v1h-1zM19 18h3v1h-3zM3 19h3v1h-3zM7 19h1v1h-1zM16 19h2v1h-2zM22 19h1v1h-1zM2 20h2v1h-2zM6 20h1v1h-1zM7 20h1v1h-1zM11 20h1v1h-1zM0 21h1v1h-1zM1 21h1v1h-1zM3 21h1v1h-1zM4 21h1v1h-1zM5 21h1v1h-1zM17 21h1v1h-1zM3 22h1v1h-1zM7 22h1v1h-1zM8 22h1v1h-1zM12 22h2v1h-2zM14 22h2v1h-2z"/></pattern>
<pattern id="spDR40" width="23" height="23" patternUnits="userSpaceOnUse"><path fill="#A8323E" d="M6 0h1v1h-1zM9 0h3v1h-3zM13 0h1v1h-1zM17 0h2v1h-2zM19 0h3v1h-3zM0 1h1v1h-1zM6 1h1v1h-1zM10 1h3v1h-3zM14 1h1v1h-1zM15 1h1v1h-1zM17 1h2v1h-2zM21 1h2v1h-2zM2 2h3v1h-3zM6 2h3v1h-3zM10 2h1v1h-1zM11 2h2v1h-2zM13 2h1v1h-1zM14 2h3v1h-3zM19 2h1v1h-1zM20 2h2v1h-2zM0 3h1v1h-1zM1 3h2v1h-2zM3 3h3v1h-3zM7 3h1v1h-1zM8 3h1v1h-1zM13 3h2v1h-2zM16 3h2v1h-2zM19 3h1v1h-1zM22 3h1v1h-1zM0 4h2v1h-2zM2 4h1v1h-1zM3 4h1v1h-1zM5 4h2v1h-2zM7 4h2v1h-2zM11 4h1v1h-1zM12 4h3v1h-3zM15 4h3v1h-3zM18 4h2v1h-2zM1 5h3v1h-3zM6 5h1v1h-1zM9 5h1v1h-1zM10 5h1v1h-1zM17 5h1v1h-1zM20 5h1v1h-1zM1 6h1v1h-1zM3 6h1v1h-1zM7 6h1v1h-1zM9 6h1v1h-1zM10 6h1v1h-1zM11 6h1v1h-1zM13 6h1v1h-1zM17 6h3v1h-3zM20 6h2v1h-2zM0 7h1v1h-1zM1 7h1v1h-1zM2 7h2v1h-2zM6 7h1v1h-1zM7 7h2v1h-2zM13 7h2v1h-2zM15 7h3v1h-3zM19 7h1v1h-1zM22 7h1v1h-1zM0 8h1v1h-1zM1 8h1v1h-1zM3 8h1v1h-1zM4 8h2v1h-2zM6 8h1v1h-1zM7 8h3v1h-3zM10 8h1v1h-1zM15 8h1v1h-1zM16 8h2v1h-2zM19 8h3v1h-3zM2 9h1v1h-1zM4 9h1v1h-1zM6 9h1v1h-1zM9 9h1v1h-1zM15 9h1v1h-1zM19 9h1v1h-1zM1 10h1v1h-1zM3 10h3v1h-3zM8 10h1v1h-1zM9 10h1v1h-1zM10 10h2v1h-2zM12 10h2v1h-2zM20 10h2v1h-2zM22 10h1v1h-1zM5 11h2v1h-2zM8 11h1v1h-1zM12 11h1v1h-1zM15 11h1v1h-1zM17 11h1v1h-1zM21 11h1v1h-1zM22 11h1v1h-1zM2 12h1v1h-1zM3 12h2v1h-2zM7 12h2v1h-2zM10 12h1v1h-1zM11 12h3v1h-3zM14 12h2v1h-2zM16 12h1v1h-1zM17 12h1v1h-1zM18 12h2v1h-2zM20 12h3v1h-3zM1 13h2v1h-2zM8 13h1v1h-1zM11 13h2v1h-2zM13 13h1v1h-1zM15 13h2v1h-2zM17 13h2v1h-2zM19 13h1v1h-1zM20 13h2v1h-2zM22 13h1v1h-1zM0 14h1v1h-1zM3 14h1v1h-1zM7 14h3v1h-3zM13 14h3v1h-3zM18 14h2v1h-2zM22 14h1v1h-1zM2 15h1v1h-1zM3 15h1v1h-1zM5 15h1v1h-1zM7 15h3v1h-3zM10 15h1v1h-1zM15 15h1v1h-1zM19 15h1v1h-1zM0 16h1v1h-1zM5 16h1v1h-1zM6 16h2v1h-2zM8 16h2v1h-2zM11 16h1v1h-1zM13 16h1v1h-1zM16 16h1v1h-1zM21 16h1v1h-1zM0 17h3v1h-3zM3 17h3v1h-3zM13 17h1v1h-1zM15 17h1v1h-1zM16 17h1v1h-1zM17 17h1v1h-1zM19 17h1v1h-1zM20 17h1v1h-1zM22 17h1v1h-1zM0 18h1v1h-1zM2 18h1v1h-1zM3 18h3v1h-3zM6 18h1v1h-1zM7 18h1v1h-1zM9 18h1v1h-1zM11 18h1v1h-1zM12 18h1v1h-1zM14 18h1v1h-1zM21 18h1v1h-1zM0 19h2v1h-2zM2 19h2v1h-2zM5 19h1v1h-1zM6 19h1v1h-1zM11 19h2v1h-2zM15 19h2v1h-2zM21 19h2v1h-2zM3 20h3v1h-3zM7 20h1v1h-1zM8 20h2v1h-2zM12 20h1v1h-1zM13 20h2v1h-2zM16 20h2v1h-2zM20 20h3v1h-3zM1 21h1v1h-1zM3 21h1v1h-1zM6 21h3v1h-3zM9 21h2v1h-2zM13 21h1v1h-1zM14 21h2v1h-2zM16 21h2v1h-2zM19 21h3v1h-3zM22 21h1v1h-1zM0 22h1v1h-1zM5 22h1v1h-1zM6 22h3v1h-3zM10 22h3v1h-3zM13 22h3v1h-3zM20 22h1v1h-1zM22 22h1v1h-1z"/></pattern>
<pattern id="spT30" width="23" height="23" patternUnits="userSpaceOnUse"><path fill="#3A9A89" d="M3 0h2v1h-2zM5 0h1v1h-1zM10 0h1v1h-1zM11 0h1v1h-1zM12 0h1v1h-1zM13 0h1v1h-1zM17 0h2v1h-2zM20 0h1v1h-1zM22 0h1v1h-1zM1 1h1v1h-1zM3 1h1v1h-1zM4 1h2v1h-2zM11 1h1v1h-1zM19 1h2v1h-2zM1 2h1v1h-1zM4 2h1v1h-1zM7 2h1v1h-1zM8 2h1v1h-1zM9 2h2v1h-2zM12 2h1v1h-1zM13 2h2v1h-2zM18 2h1v1h-1zM20 2h1v1h-1zM22 2h1v1h-1zM0 3h1v1h-1zM2 3h3v1h-3zM8 3h1v1h-1zM12 3h1v1h-1zM15 3h1v1h-1zM17 3h2v1h-2zM19 3h1v1h-1zM0 4h3v1h-3zM4 4h1v1h-1zM6 4h1v1h-1zM22 4h1v1h-1zM8 5h1v1h-1zM14 5h1v1h-1zM17 5h1v1h-1zM20 5h2v1h-2zM4 6h1v1h-1zM6 6h1v1h-1zM8 6h1v1h-1zM10 6h1v1h-1zM11 6h2v1h-2zM13 6h1v1h-1zM16 6h1v1h-1zM19 6h1v1h-1zM22 6h1v1h-1zM14 7h2v1h-2zM16 7h2v1h-2zM18 7h1v1h-1zM1 8h1v1h-1zM7 8h1v1h-1zM12 8h3v1h-3zM16 8h1v1h-1zM22 8h1v1h-1zM2 9h1v1h-1zM3 9h1v1h-1zM4 9h3v1h-3zM7 9h3v1h-3zM12 9h1v1h-1zM3 10h1v1h-1zM14 10h3v1h-3zM17 10h3v1h-3zM3 11h2v1h-2zM6 11h1v1h-1zM10 11h2v1h-2zM17 11h1v1h-1zM20 11h2v1h-2zM7 12h1v1h-1zM10 12h1v1h-1zM12 12h1v1h-1zM15 12h1v1h-1zM16 12h1v1h-1zM18 12h1v1h-1zM5 13h1v1h-1zM6 13h1v1h-1zM10 13h1v1h-1zM15 13h1v1h-1zM16 13h2v1h-2zM20 13h1v1h-1zM21 13h1v1h-1zM22 13h1v1h-1zM0 14h1v1h-1zM12 14h1v1h-1zM20 14h1v1h-1zM2 15h1v1h-1zM5 15h1v1h-1zM6 15h3v1h-3zM9 15h2v1h-2zM15 15h2v1h-2zM21 15h1v1h-1zM2 16h1v1h-1zM4 16h1v1h-1zM5 16h1v1h-1zM9 16h1v1h-1zM12 16h1v1h-1zM22 16h1v1h-1zM4 17h1v1h-1zM13 17h3v1h-3zM17 17h1v1h-1zM18 17h1v1h-1zM20 17h1v1h-1zM0 18h1v1h-1zM2 18h1v1h-1zM7 18h1v1h-1zM9 18h2v1h-2zM12 18h1v1h-1zM20 18h1v1h-1zM0 19h1v1h-1zM4 19h2v1h-2zM6 19h2v1h-2zM15 19h1v1h-1zM19 19h3v1h-3zM11 20h1v1h-1zM13 20h2v1h-2zM15 20h1v1h-1zM22 20h1v1h-1zM4 21h1v1h-1zM5 21h1v1h-1zM7 21h2v1h-2zM11 21h2v1h-2zM16 21h1v1h-1zM19 21h2v1h-2zM21 21h1v1h-1zM22 21h1v1h-1zM0 22h3v1h-3zM6 22h1v1h-1zM7 22h2v1h-2zM10 22h2v1h-2zM12 22h1v1h-1zM13 22h3v1h-3zM19 22h3v1h-3z"/></pattern>
<pattern id="spB30" width="23" height="23" patternUnits="userSpaceOnUse"><path fill="#4A52A0" d="M0 0h1v1h-1zM3 0h3v1h-3zM7 0h1v1h-1zM8 0h2v1h-2zM12 0h3v1h-3zM21 0h1v1h-1zM5 1h2v1h-2zM12 1h1v1h-1zM14 1h2v1h-2zM16 1h1v1h-1zM19 1h1v1h-1zM20 1h3v1h-3zM1 2h1v1h-1zM6 2h2v1h-2zM10 2h1v1h-1zM14 2h1v1h-1zM17 2h1v1h-1zM20 2h1v1h-1zM2 3h3v1h-3zM5 3h3v1h-3zM10 3h1v1h-1zM11 3h3v1h-3zM14 3h3v1h-3zM17 3h1v1h-1zM20 3h2v1h-2zM3 4h2v1h-2zM7 4h1v1h-1zM9 4h1v1h-1zM11 4h3v1h-3zM14 4h1v1h-1zM15 4h1v1h-1zM17 4h1v1h-1zM18 4h1v1h-1zM20 4h2v1h-2zM22 4h1v1h-1zM1 5h1v1h-1zM2 5h2v1h-2zM4 5h2v1h-2zM9 5h1v1h-1zM10 5h1v1h-1zM11 5h1v1h-1zM13 5h3v1h-3zM16 5h1v1h-1zM18 5h1v1h-1zM19 5h1v1h-1zM6 6h2v1h-2zM10 6h1v1h-1zM11 6h3v1h-3zM15 6h1v1h-1zM0 7h1v1h-1zM1 7h2v1h-2zM4 7h1v1h-1zM6 7h3v1h-3zM10 7h1v1h-1zM16 7h1v1h-1zM19 7h1v1h-1zM21 7h1v1h-1zM22 7h1v1h-1zM1 8h2v1h-2zM3 8h1v1h-1zM7 8h1v1h-1zM11 8h1v1h-1zM12 8h1v1h-1zM13 8h2v1h-2zM16 8h1v1h-1zM18 8h1v1h-1zM19 8h1v1h-1zM21 8h2v1h-2zM0 9h1v1h-1zM4 9h1v1h-1zM12 9h2v1h-2zM15 9h1v1h-1zM5 10h1v1h-1zM9 10h1v1h-1zM18 10h3v1h-3zM21 10h1v1h-1zM22 10h1v1h-1zM1 11h2v1h-2zM3 11h3v1h-3zM7 11h3v1h-3zM10 11h2v1h-2zM18 11h2v1h-2zM0 12h1v1h-1zM3 12h2v1h-2zM7 12h1v1h-1zM8 12h1v1h-1zM9 12h1v1h-1zM11 12h1v1h-1zM12 12h3v1h-3zM15 12h1v1h-1zM19 12h2v1h-2zM21 12h1v1h-1zM22 12h1v1h-1zM0 13h1v1h-1zM4 13h2v1h-2zM6 13h2v1h-2zM8 13h1v1h-1zM11 13h1v1h-1zM0 14h1v1h-1zM1 14h1v1h-1zM2 14h1v1h-1zM16 14h2v1h-2zM20 14h2v1h-2zM1 15h1v1h-1zM4 15h1v1h-1zM9 15h1v1h-1zM15 15h1v1h-1zM16 15h1v1h-1zM22 15h1v1h-1zM2 16h2v1h-2zM7 16h1v1h-1zM8 16h1v1h-1zM11 16h1v1h-1zM13 16h1v1h-1zM14 16h1v1h-1zM19 16h1v1h-1zM20 16h1v1h-1zM21 16h1v1h-1zM22 16h1v1h-1zM1 17h2v1h-2zM7 17h1v1h-1zM9 17h3v1h-3zM15 17h1v1h-1zM17 17h1v1h-1zM18 17h2v1h-2zM21 17h1v1h-1zM22 17h1v1h-1zM2 18h1v1h-1zM4 18h2v1h-2zM8 18h1v1h-1zM11 18h1v1h-1zM13 18h2v1h-2zM16 18h1v1h-1zM17 18h1v1h-1zM21 18h1v1h-1zM5 19h1v1h-1zM6 19h1v1h-1zM12 19h1v1h-1zM13 19h1v1h-1zM15 19h1v1h-1zM17 19h2v1h-2zM20 19h2v1h-2zM2 20h1v1h-1zM3 20h2v1h-2zM6 20h1v1h-1zM7 20h3v1h-3zM14 20h1v1h-1zM15 20h2v1h-2zM19 20h1v1h-1zM21 20h2v1h-2zM1 21h2v1h-2zM7 21h1v1h-1zM8 21h1v1h-1zM10 21h1v1h-1zM11 21h2v1h-2zM14 21h1v1h-1zM15 21h1v1h-1zM18 21h1v1h-1zM19 21h3v1h-3zM22 21h1v1h-1zM2 22h1v1h-1zM3 22h1v1h-1zM10 22h2v1h-2zM13 22h2v1h-2z"/></pattern>
<pattern id="spMix" width="23" height="23" patternUnits="userSpaceOnUse"><path fill="#7FB8D8" d="M0 0h1v1h-1zM11 0h1v1h-1zM1 1h1v1h-1zM9 1h1v1h-1zM12 1h1v1h-1zM19 1h1v1h-1zM20 1h1v1h-1zM21 1h1v1h-1zM22 1h1v1h-1zM1 2h1v1h-1zM8 2h1v1h-1zM12 2h1v1h-1zM15 2h1v1h-1zM5 3h1v1h-1zM12 3h1v1h-1zM19 4h1v1h-1zM20 5h1v1h-1zM2 6h1v1h-1zM5 6h1v1h-1zM11 6h1v1h-1zM16 6h1v1h-1zM2 7h1v1h-1zM12 7h1v1h-1zM21 7h1v1h-1zM6 8h1v1h-1zM16 8h1v1h-1zM18 8h1v1h-1zM8 10h1v1h-1zM9 10h1v1h-1zM1 11h1v1h-1zM6 11h1v1h-1zM10 11h1v1h-1zM14 11h1v1h-1zM4 12h1v1h-1zM5 12h1v1h-1zM8 12h1v1h-1zM11 12h1v1h-1zM21 12h1v1h-1zM22 12h1v1h-1zM0 13h1v1h-1zM2 13h1v1h-1zM2 14h1v1h-1zM8 14h1v1h-1zM18 14h1v1h-1zM1 15h1v1h-1zM13 15h1v1h-1zM20 15h1v1h-1zM2 17h1v1h-1zM11 17h1v1h-1zM17 17h1v1h-1zM19 17h1v1h-1zM0 18h2v1h-2zM2 18h1v1h-1zM10 18h1v1h-1zM11 18h1v1h-1zM12 18h2v1h-2zM15 18h1v1h-1zM16 18h1v1h-1zM17 18h1v1h-1zM11 19h1v1h-1zM21 19h1v1h-1zM2 20h3v1h-3zM9 21h1v1h-1zM13 21h1v1h-1zM17 21h1v1h-1zM7 22h1v1h-1zM9 22h1v1h-1z"/></pattern>
<pattern id="spMix2" width="23" height="23" patternUnits="userSpaceOnUse"><path fill="#B7C23A" d="M1 0h1v1h-1zM4 0h1v1h-1zM0 1h1v1h-1zM10 1h1v1h-1zM18 1h1v1h-1zM19 1h1v1h-1zM11 2h1v1h-1zM21 2h1v1h-1zM4 3h2v1h-2zM12 3h2v1h-2zM2 4h1v1h-1zM17 4h1v1h-1zM3 5h1v1h-1zM10 5h1v1h-1zM14 6h1v1h-1zM17 6h1v1h-1zM4 7h1v1h-1zM20 7h1v1h-1zM4 8h1v1h-1zM16 10h1v1h-1zM21 10h1v1h-1zM19 11h1v1h-1zM8 12h1v1h-1zM13 12h1v1h-1zM17 12h1v1h-1zM1 13h1v1h-1zM6 13h1v1h-1zM21 15h1v1h-1zM17 16h1v1h-1zM21 16h1v1h-1zM0 17h1v1h-1zM1 17h1v1h-1zM5 17h1v1h-1zM22 17h1v1h-1zM7 18h1v1h-1zM22 18h1v1h-1zM1 19h1v1h-1zM2 19h1v1h-1zM7 19h1v1h-1zM17 19h1v1h-1zM3 20h1v1h-1zM18 20h1v1h-1zM20 20h1v1h-1zM4 21h1v1h-1zM15 21h1v1h-1zM22 21h1v1h-1z"/></pattern>
<pattern id="spO20" width="23" height="23" patternUnits="userSpaceOnUse"><path fill="#E87D2C" d="M8 0h1v1h-1zM10 0h1v1h-1zM18 0h1v1h-1zM7 1h1v1h-1zM12 1h1v1h-1zM14 1h1v1h-1zM16 1h1v1h-1zM1 2h2v1h-2zM15 2h3v1h-3zM20 2h1v1h-1zM0 3h1v1h-1zM2 3h2v1h-2zM5 3h2v1h-2zM7 3h1v1h-1zM10 3h3v1h-3zM15 3h1v1h-1zM17 3h2v1h-2zM2 4h1v1h-1zM7 4h1v1h-1zM9 4h2v1h-2zM18 4h1v1h-1zM2 5h1v1h-1zM3 5h1v1h-1zM13 5h1v1h-1zM14 5h1v1h-1zM15 5h1v1h-1zM12 6h2v1h-2zM18 6h2v1h-2zM21 6h1v1h-1zM2 7h3v1h-3zM5 7h1v1h-1zM10 7h1v1h-1zM12 7h1v1h-1zM13 7h1v1h-1zM15 7h3v1h-3zM1 8h1v1h-1zM6 8h3v1h-3zM12 8h1v1h-1zM13 8h1v1h-1zM14 8h1v1h-1zM19 8h1v1h-1zM4 9h1v1h-1zM8 9h1v1h-1zM16 9h1v1h-1zM0 10h2v1h-2zM9 10h3v1h-3zM0 11h1v1h-1zM3 11h1v1h-1zM5 11h3v1h-3zM8 11h1v1h-1zM10 11h1v1h-1zM12 11h2v1h-2zM15 11h1v1h-1zM21 11h1v1h-1zM1 12h1v1h-1zM6 12h1v1h-1zM17 12h2v1h-2zM2 13h2v1h-2zM7 13h1v1h-1zM14 13h1v1h-1zM20 13h1v1h-1zM1 14h1v1h-1zM13 14h1v1h-1zM14 14h1v1h-1zM16 14h3v1h-3zM1 15h1v1h-1zM2 15h1v1h-1zM13 15h2v1h-2zM19 15h2v1h-2zM4 16h1v1h-1zM13 16h3v1h-3zM16 16h3v1h-3zM21 16h1v1h-1zM8 17h1v1h-1zM10 17h1v1h-1zM16 17h1v1h-1zM17 17h1v1h-1zM19 17h1v1h-1zM1 18h1v1h-1zM5 18h1v1h-1zM9 19h1v1h-1zM16 19h1v1h-1zM21 19h1v1h-1zM2 20h1v1h-1zM6 20h1v1h-1zM8 20h1v1h-1zM19 20h1v1h-1zM1 21h1v1h-1zM2 21h2v1h-2zM19 21h1v1h-1zM1 22h1v1h-1zM15 22h2v1h-2zM17 22h1v1h-1zM20 22h1v1h-1zM21 22h1v1h-1z"/></pattern>
<pattern id="spBl30" width="23" height="23" patternUnits="userSpaceOnUse"><path fill="#3B70B5" d="M3 0h1v1h-1zM6 0h2v1h-2zM9 0h1v1h-1zM15 0h1v1h-1zM17 0h1v1h-1zM20 0h1v1h-1zM1 1h1v1h-1zM4 1h1v1h-1zM7 1h1v1h-1zM8 1h1v1h-1zM14 1h1v1h-1zM18 1h1v1h-1zM19 1h1v1h-1zM22 1h1v1h-1zM6 2h2v1h-2zM10 2h1v1h-1zM13 2h1v1h-1zM15 2h1v1h-1zM22 2h1v1h-1zM0 3h3v1h-3zM8 3h1v1h-1zM9 3h1v1h-1zM13 3h2v1h-2zM15 3h1v1h-1zM16 3h3v1h-3zM4 4h1v1h-1zM5 4h1v1h-1zM6 4h1v1h-1zM0 5h1v1h-1zM8 5h2v1h-2zM13 5h2v1h-2zM16 5h1v1h-1zM20 5h1v1h-1zM22 5h1v1h-1zM2 6h1v1h-1zM6 6h1v1h-1zM7 6h1v1h-1zM8 6h1v1h-1zM13 6h1v1h-1zM17 6h1v1h-1zM18 6h1v1h-1zM21 6h1v1h-1zM22 6h1v1h-1zM0 7h2v1h-2zM3 7h1v1h-1zM4 7h1v1h-1zM6 7h2v1h-2zM12 7h1v1h-1zM13 7h1v1h-1zM20 7h1v1h-1zM4 8h3v1h-3zM7 8h2v1h-2zM12 8h1v1h-1zM13 8h1v1h-1zM22 8h1v1h-1zM0 9h1v1h-1zM5 9h2v1h-2zM9 9h2v1h-2zM12 9h1v1h-1zM13 9h1v1h-1zM14 9h1v1h-1zM17 9h1v1h-1zM21 9h2v1h-2zM3 10h1v1h-1zM6 10h1v1h-1zM12 10h1v1h-1zM14 10h1v1h-1zM18 10h1v1h-1zM4 11h2v1h-2zM6 11h3v1h-3zM10 11h2v1h-2zM12 11h1v1h-1zM14 11h1v1h-1zM16 11h1v1h-1zM20 11h1v1h-1zM1 12h1v1h-1zM7 12h1v1h-1zM8 12h1v1h-1zM9 12h1v1h-1zM12 12h1v1h-1zM13 12h1v1h-1zM14 12h2v1h-2zM16 12h1v1h-1zM17 12h1v1h-1zM18 12h2v1h-2zM1 13h3v1h-3zM10 13h1v1h-1zM11 13h1v1h-1zM16 13h1v1h-1zM17 13h2v1h-2zM20 13h2v1h-2zM22 13h1v1h-1zM2 14h1v1h-1zM5 14h2v1h-2zM8 14h1v1h-1zM14 14h3v1h-3zM17 14h1v1h-1zM20 14h3v1h-3zM0 15h2v1h-2zM4 15h1v1h-1zM6 15h1v1h-1zM12 15h1v1h-1zM19 15h3v1h-3zM1 16h2v1h-2zM5 16h2v1h-2zM13 16h1v1h-1zM15 16h2v1h-2zM18 16h1v1h-1zM19 16h1v1h-1zM21 16h1v1h-1zM22 16h1v1h-1zM0 17h1v1h-1zM1 17h3v1h-3zM6 17h2v1h-2zM10 17h1v1h-1zM11 17h1v1h-1zM18 17h2v1h-2zM20 17h1v1h-1zM22 17h1v1h-1zM1 18h1v1h-1zM7 18h1v1h-1zM12 18h1v1h-1zM21 18h1v1h-1zM22 18h1v1h-1zM2 19h1v1h-1zM3 19h2v1h-2zM10 19h1v1h-1zM19 19h1v1h-1zM20 19h1v1h-1zM2 20h1v1h-1zM4 20h1v1h-1zM6 20h1v1h-1zM8 20h1v1h-1zM11 20h1v1h-1zM12 20h2v1h-2zM16 20h1v1h-1zM18 20h2v1h-2zM8 21h1v1h-1zM11 21h2v1h-2zM17 21h1v1h-1zM20 21h1v1h-1zM22 21h1v1h-1zM3 22h2v1h-2zM5 22h1v1h-1zM9 22h1v1h-1zM13 22h3v1h-3zM16 22h1v1h-1zM20 22h2v1h-2z"/></pattern>
<clipPath id="cArch"><use href="#u_arch"/></clipPath>
<clipPath id="cRight"><use href="#u_right"/></clipPath>
<clipPath id="cCenter"><use href="#u_center"/></clipPath>
<clipPath id="cLeft"><use href="#u_left"/></clipPath>
<clipPath id="cAE"><use href="#u_archend"/></clipPath></defs><rect width="685" height="841" fill="#fff"/><text x="7.30" y="15.30" font-size="11.5" fill="#111" transform="rotate(0.04 7.30 15.30)" stroke="#111" stroke-width="0.3">A</text>
<text x="246.30" y="15.30" font-size="11.5" fill="#111" transform="rotate(0.04 246.30 15.30)" stroke="#111" stroke-width="0.3">B</text>
<text x="469.00" y="15.50" font-size="11.5" fill="#111" transform="rotate(0.04 469.00 15.50)" stroke="#111" stroke-width="0.3">C</text>
<text x="4.00" y="187.50" font-size="11.5" fill="#111" transform="rotate(0.04 4.00 187.50)" stroke="#111" stroke-width="0.3">D</text>
<text x="246.80" y="187.50" font-size="11.5" fill="#111" transform="rotate(0.04 246.80 187.50)" stroke="#111" stroke-width="0.3">E</text>
<text x="475.60" y="189.00" font-size="11.5" fill="#111" transform="rotate(0.04 475.60 189.00)" stroke="#111" stroke-width="0.3">F</text>
<text x="5.00" y="406.20" font-size="11.5" fill="#111" transform="rotate(0.04 5.00 406.20)" stroke="#111" stroke-width="0.3">G</text>
<text x="352.80" y="409.80" font-size="10.0" fill="#111" transform="rotate(0.04 352.80 409.80)" stroke="#111" stroke-width="0.3">H</text>
<text x="5.00" y="616.00" font-size="11.5" fill="#111" transform="rotate(0.04 5.00 616.00)" stroke="#111" stroke-width="0.3">I</text>
<text x="352.80" y="614.20" font-size="10.0" fill="#111" transform="rotate(0.04 352.80 614.20)" stroke="#111" stroke-width="0.3">J</text>
<clipPath id="cArchA"><path d="M48.60 98.00 C47.71 96.06 47.26 84.84 47.40 81.40 C47.54 77.96 49.25 71.36 49.80 68.50 C50.35 65.64 51.35 59.21 52.10 56.90 C52.85 54.59 54.91 50.67 56.20 48.70 C57.50 46.73 61.16 41.51 63.20 40.00 C65.24 38.49 71.11 36.63 73.70 35.80 C76.29 34.97 82.81 33.03 85.40 32.90 C87.99 32.77 94.12 33.93 95.90 34.70 C97.69 35.47 100.01 37.39 100.70 39.50 C101.39 41.61 101.67 49.47 101.80 52.80 C101.93 56.12 101.95 65.29 101.80 68.00 C101.65 70.71 101.12 75.07 100.50 76.00 C99.88 76.93 96.99 77.40 96.50 76.00 C96.01 74.60 96.51 66.04 96.30 64.00 C96.09 61.96 95.97 58.90 94.70 58.50 C93.43 58.10 87.58 59.97 85.40 60.60 C83.22 61.23 78.18 63.08 76.00 63.90 C73.82 64.72 68.74 66.38 66.70 67.60 C64.66 68.82 59.87 72.65 58.50 74.40 C57.13 76.15 55.43 80.55 55.00 82.60 C54.57 84.65 54.80 90.20 54.80 92.00 C54.80 93.80 55.72 97.30 55.00 98.00 C54.28 98.70 49.49 99.94 48.60 98.00 Z"/></clipPath>
<path d="M48.60 98.00 C47.71 96.06 47.26 84.84 47.40 81.40 C47.54 77.96 49.25 71.36 49.80 68.50 C50.35 65.64 51.35 59.21 52.10 56.90 C52.85 54.59 54.91 50.67 56.20 48.70 C57.50 46.73 61.16 41.51 63.20 40.00 C65.24 38.49 71.11 36.63 73.70 35.80 C76.29 34.97 82.81 33.03 85.40 32.90 C87.99 32.77 94.12 33.93 95.90 34.70 C97.69 35.47 100.01 37.39 100.70 39.50 C101.39 41.61 101.67 49.47 101.80 52.80 C101.93 56.12 101.95 65.29 101.80 68.00 C101.65 70.71 101.12 75.07 100.50 76.00 C99.88 76.93 96.99 77.40 96.50 76.00 C96.01 74.60 96.51 66.04 96.30 64.00 C96.09 61.96 95.97 58.90 94.70 58.50 C93.43 58.10 87.58 59.97 85.40 60.60 C83.22 61.23 78.18 63.08 76.00 63.90 C73.82 64.72 68.74 66.38 66.70 67.60 C64.66 68.82 59.87 72.65 58.50 74.40 C57.13 76.15 55.43 80.55 55.00 82.60 C54.57 84.65 54.80 90.20 54.80 92.00 C54.80 93.80 55.72 97.30 55.00 98.00 C54.28 98.70 49.49 99.94 48.60 98.00 Z" fill="#3D944D"/>
<g clip-path="url(#cArchA)">
<path d="M47.50 66.00 C47.08 64.17 48.67 60.50 49.50 58.00 C50.33 55.50 51.33 53.17 52.50 51.00 C53.67 48.83 54.83 46.92 56.50 45.00 C58.17 43.08 60.25 41.03 62.50 39.50 C64.75 37.97 67.75 36.55 70.00 35.80 C72.25 35.05 75.33 34.30 76.00 35.00 C76.67 35.70 75.50 38.42 74.00 40.00 C72.50 41.58 69.00 42.83 67.00 44.50 C65.00 46.17 63.42 47.92 62.00 50.00 C60.58 52.08 59.58 54.67 58.50 57.00 C57.42 59.33 56.58 62.00 55.50 64.00 C54.42 66.00 53.33 68.67 52.00 69.00 C50.67 69.33 47.92 67.83 47.50 66.00 Z" fill="url(#spM30)"/>
<path d="M47.50 66.00 C47.08 64.17 48.67 60.50 49.50 58.00 C50.33 55.50 51.33 53.17 52.50 51.00 C53.67 48.83 54.83 46.92 56.50 45.00 C58.17 43.08 60.25 41.03 62.50 39.50 C64.75 37.97 67.75 36.55 70.00 35.80 C72.25 35.05 75.33 34.30 76.00 35.00 C76.67 35.70 75.50 38.42 74.00 40.00 C72.50 41.58 69.00 42.83 67.00 44.50 C65.00 46.17 63.42 47.92 62.00 50.00 C60.58 52.08 59.58 54.67 58.50 57.00 C57.42 59.33 56.58 62.00 55.50 64.00 C54.42 66.00 53.33 68.67 52.00 69.00 C50.67 69.33 47.92 67.83 47.50 66.00 Z" fill="url(#spM30)"/>
<rect x="44" y="70" width="16" height="30" fill="url(#spRa30)"/>
<rect x="44" y="78" width="16" height="25" fill="url(#spRa30)"/>
<rect x="44" y="86" width="16" height="20" fill="#E4261F"/>
</g>
<path d="M53.00 91.00 C54.33 89.92 57.67 91.75 60.00 92.50 C62.33 93.25 65.33 94.42 67.00 95.50 C68.67 96.58 70.50 98.08 70.00 99.00 C69.50 99.92 66.17 100.75 64.00 101.00 C61.83 101.25 59.00 100.83 57.00 100.50 C55.00 100.17 52.67 100.58 52.00 99.00 C51.33 97.42 51.67 92.08 53.00 91.00 Z" fill="url(#spRa30)"/>
<path d="M53.00 91.00 C54.33 89.92 57.67 91.75 60.00 92.50 C62.33 93.25 65.33 94.42 67.00 95.50 C68.67 96.58 70.50 98.08 70.00 99.00 C69.50 99.92 66.17 100.75 64.00 101.00 C61.83 101.25 59.00 100.83 57.00 100.50 C55.00 100.17 52.67 100.58 52.00 99.00 C51.33 97.42 51.67 92.08 53.00 91.00 Z" fill="url(#spRa30)"/>
<g transform="translate(21 33) scale(0.869 0.771)">
<use href="#u_left" fill="#E4261F"/>
<g clip-path="url(#cLeft)"><rect x="20" y="86" width="22" height="28" fill="url(#spW05)"/><rect x="28" y="90" width="12" height="16" fill="url(#spW10)"/></g>
<use href="#u_center" fill="#E4261F"/>
<g clip-path="url(#cCenter)"><rect x="73" y="92" width="14" height="30" fill="url(#spB30)"/><rect x="77" y="96" width="10" height="22" fill="url(#spB30)"/></g>
<use href="#u_right" fill="#3A9A89"/>
<g clip-path="url(#cRight)"><rect x="112" y="66" width="30" height="42" fill="url(#spDR40)"/><rect x="116" y="70" width="26" height="32" fill="url(#spDR40)"/><rect x="98" y="86" width="22" height="18" fill="url(#spB30)"/><rect x="100" y="88" width="16" height="14" fill="url(#spB30)"/></g>
<path d="M114.00 55.00 C114.67 53.00 117.83 53.33 119.00 55.00 C120.17 56.67 120.42 61.67 121.00 65.00 C121.58 68.33 123.17 73.00 122.50 75.00 C121.83 77.00 118.25 78.33 117.00 77.00 C115.75 75.67 115.50 70.67 115.00 67.00 C114.50 63.33 113.33 57.00 114.00 55.00 Z" fill="url(#spDR40)"/>
<path d="M114.00 55.00 C114.67 53.00 117.83 53.33 119.00 55.00 C120.17 56.67 120.42 61.67 121.00 65.00 C121.58 68.33 123.17 73.00 122.50 75.00 C121.83 77.00 118.25 78.33 117.00 77.00 C115.75 75.67 115.50 70.67 115.00 67.00 C114.50 63.33 113.33 57.00 114.00 55.00 Z" fill="url(#spDR40)"/>
<use href="#u_topr" fill="#5B2A86"/>
<use href="#u_archend" fill="#3D944D"/>
<g clip-path="url(#cAE)"><rect x="68" y="55" width="10" height="20" fill="#E4261F"/></g>
<use href="#u_small1" fill="#8A8A8A"/>
<use href="#u_small2" fill="#4A52A0"/>
</g>
<g transform="translate(149.5 34.6) scale(0.389 0.379)">
<use href="#u_arch" fill="#E8AE74" stroke="#E8AE74" stroke-width="6" stroke-linejoin="round"/>
<g clip-path="url(#cArch)"><rect x="50" y="0" width="45" height="70" fill="url(#spMix)"/><rect x="60" y="20" width="40" height="50" fill="url(#spMix2)"/><rect x="28" y="50" width="15" height="40" fill="url(#spMix)"/></g>
<ellipse cx="34" cy="33" rx="3" ry="7" fill="#8C5EBF"/>
<path d="M73.00 55.00 C74.33 52.33 77.67 50.83 81.00 49.00 C84.33 47.17 89.33 45.17 93.00 44.00 C96.67 42.83 100.67 41.17 103.00 42.00 C105.33 42.83 107.33 46.50 107.00 49.00 C106.67 51.50 103.67 54.67 101.00 57.00 C98.33 59.33 94.33 61.33 91.00 63.00 C87.67 64.67 84.00 66.67 81.00 67.00 C78.00 67.33 74.33 67.00 73.00 65.00 C71.67 63.00 71.67 57.67 73.00 55.00 Z" fill="url(#spMix2)"/>
<path d="M73.00 55.00 C74.33 52.33 77.67 50.83 81.00 49.00 C84.33 47.17 89.33 45.17 93.00 44.00 C96.67 42.83 100.67 41.17 103.00 42.00 C105.33 42.83 107.33 46.50 107.00 49.00 C106.67 51.50 103.67 54.67 101.00 57.00 C98.33 59.33 94.33 61.33 91.00 63.00 C87.67 64.67 84.00 66.67 81.00 67.00 C78.00 67.33 74.33 67.00 73.00 65.00 C71.67 63.00 71.67 57.67 73.00 55.00 Z" fill="url(#spMix)"/>
<use href="#u_left" fill="#E8AE74" stroke="#E8AE74" stroke-width="6" stroke-linejoin="round"/>
<use href="#u_center" fill="#8C5EBF" stroke="#8C5EBF" stroke-width="3"/>
<g clip-path="url(#cCenter)"><rect x="40" y="84" width="10" height="30" fill="#3B70B5"/><rect x="74" y="90" width="12" height="30" fill="#3B70B5"/><rect x="44" y="95" width="5" height="10" fill="#D2242A"/></g>
<use href="#u_right" fill="#E8AE74" stroke="#E8AE74" stroke-width="6" stroke-linejoin="round"/>
<use href="#u_conn" fill="url(#spMix)"/>
<use href="#u_topr" fill="#C4BE4A"/>
<use href="#u_archend" fill="url(#spMix2)"/>
<ellipse cx="79" cy="63" rx="6" ry="3" fill="#8C5EBF"/>
<use href="#u_small1" fill="#E8AE74"/>
<use href="#u_small2" fill="#E8AE74"/>
</g>
<g transform="translate(149.5 91.0) scale(0.389 0.379)">
<use href="#u_arch" fill="#E87D2C" stroke="#E87D2C" stroke-width="6" stroke-linejoin="round"/>
<ellipse cx="34" cy="33" rx="3" ry="7" fill="#3B70B5"/>
<g clip-path="url(#cArch)"><rect x="70" y="30" width="20" height="40" fill="url(#spBl30)"/></g>
<path d="M73.00 55.00 C74.33 52.33 77.67 50.83 81.00 49.00 C84.33 47.17 89.33 45.17 93.00 44.00 C96.67 42.83 100.67 41.17 103.00 42.00 C105.33 42.83 107.33 46.50 107.00 49.00 C106.67 51.50 103.67 54.67 101.00 57.00 C98.33 59.33 94.33 61.33 91.00 63.00 C87.67 64.67 84.00 66.67 81.00 67.00 C78.00 67.33 74.33 67.00 73.00 65.00 C71.67 63.00 71.67 57.67 73.00 55.00 Z" fill="url(#spBl30)"/>
<use href="#u_left" fill="#E87D2C" stroke="#E87D2C" stroke-width="6" stroke-linejoin="round"/>
<use href="#u_center" fill="#3B70B5" stroke="#3B70B5" stroke-width="3"/>
<g clip-path="url(#cCenter)"><rect x="70" y="90" width="20" height="30" fill="url(#spO20)"/></g>
<use href="#u_right" fill="#E87D2C" stroke="#E87D2C" stroke-width="6" stroke-linejoin="round"/>
<use href="#u_conn" fill="url(#spO20)"/>
<use href="#u_topr" fill="#E87D2C"/>
<use href="#u_archend" fill="#E87D2C"/>
<use href="#u_small1" fill="#E87D2C"/>
<use href="#u_small2" fill="#E87D2C"/>
</g>
<g transform="translate(279 3)">
<use href="#u_arch" fill="#6CBCC8"/>
<g clip-path="url(#cArch)">
<rect x="0" y="-5" width="48" height="100" fill="url(#spR15)"/>
<rect x="47" y="-5" width="13" height="100" fill="url(#spR25)"/>
<rect x="59" y="-5" width="16" height="100" fill="url(#spR45)"/>
<rect x="74" y="-5" width="30" height="100" fill="url(#spR65)"/>
<rect x="25" y="45" width="20" height="50" fill="url(#spR15)"/>
<rect x="40" y="-5" width="20" height="20" fill="url(#spC20)"/>
</g>
<ellipse cx="35.9" cy="34.4" rx="2.4" ry="4.8" fill="#DC4E36"/>
<use href="#u_left" fill="#6CBCC8"/>
<g clip-path="url(#cLeft)"><rect x="22" y="92" width="18" height="25" fill="url(#spW05)"/><rect x="30" y="84" width="12" height="16" fill="url(#spR15)"/></g>
<use href="#u_center" fill="#DC4E36"/>
<g clip-path="url(#cCenter)"><rect x="50" y="88" width="30" height="40" fill="url(#spW05)"/><rect x="72" y="92" width="12" height="26" fill="url(#spC20)"/></g>
<use href="#u_right" fill="#6CBCC8"/>
<g clip-path="url(#cRight)"><rect x="95" y="70" width="45" height="60" fill="url(#spR08)"/><rect x="98" y="80" width="14" height="45" fill="url(#spR25)"/><rect x="108" y="76" width="16" height="50" fill="url(#spR15)"/></g>
<use href="#u_conn" fill="url(#spR25)"/>
<use href="#u_topr" fill="#DC4E36"/>
<use href="#u_archend" fill="#DC4E36"/>
<use href="#u_small1" fill="#6CBCC8"/>
<use href="#u_small2" fill="#6CBCC8"/>
</g>
<rect x="49.30" y="41.20" width="12.70" height="5.10" rx="1" fill="none" stroke="#A52A63" stroke-width="0.45"/><rect x="49.8" y="41.7" width="11.7" height="4.1" rx="0.7" fill="#A52A63" stroke="#fff" stroke-width="0.55"/><text x="55.65" y="44.80" font-size="2.7" fill="#fff" text-anchor="middle" font-weight="bold" transform="rotate(0.04 55.65 44.80)">NK_cell</text>
<rect x="76.80" y="56.90" width="10.30" height="4.80" rx="1" fill="none" stroke="#3D944D" stroke-width="0.45"/><rect x="77.3" y="57.4" width="9.3" height="3.8" rx="0.7" fill="#3D944D" stroke="#fff" stroke-width="0.55"/><text x="81.95" y="60.20" font-size="2.7" fill="#fff" text-anchor="middle" font-weight="bold" transform="rotate(0.04 81.95 60.20)">T_cell</text>
<rect x="110.40" y="70.00" width="10.30" height="4.80" rx="1" fill="none" stroke="#5B2A86" stroke-width="0.45"/><rect x="110.9" y="70.5" width="9.3" height="3.8" rx="0.7" fill="#5B2A86" stroke="#fff" stroke-width="0.55"/><text x="115.55" y="73.30" font-size="2.7" fill="#fff" text-anchor="middle" font-weight="bold" transform="rotate(0.04 115.55 73.30)">B_cell</text>
<rect x="82.50" y="94.20" width="25.00" height="5.20" rx="1" fill="none" stroke="#8A8A8A" stroke-width="0.45"/><rect x="83" y="94.7" width="24" height="4.2" rx="0.7" fill="#8A8A8A" stroke="#fff" stroke-width="0.55"/><text x="95.00" y="97.90" font-size="2.7" fill="#fff" text-anchor="middle" font-weight="bold" transform="rotate(0.04 95.00 97.90)">Endothelial cell</text>
<rect x="85.50" y="106.00" width="17.80" height="4.80" rx="1" fill="none" stroke="#4A52A0" stroke-width="0.45"/><rect x="86" y="106.5" width="16.8" height="3.8" rx="0.7" fill="#4A52A0" stroke="#fff" stroke-width="0.55"/><text x="94.40" y="109.30" font-size="2.7" fill="#fff" text-anchor="middle" font-weight="bold" transform="rotate(0.04 94.40 109.30)">Fibroblast</text>
<rect x="120.30" y="89.90" width="24.60" height="4.80" rx="1" fill="none" stroke="#A8323E" stroke-width="0.45"/><rect x="120.8" y="90.4" width="23.6" height="3.8" rx="0.7" fill="#A8323E" stroke="#fff" stroke-width="0.55"/><text x="132.60" y="93.20" font-size="2.7" fill="#fff" text-anchor="middle" font-weight="bold" transform="rotate(0.04 132.60 93.20)">Dendritic cells</text>
<rect x="112.90" y="108.50" width="15.80" height="4.80" rx="1" fill="none" stroke="#4A52A0" stroke-width="0.45"/><rect x="113.4" y="109" width="14.8" height="3.8" rx="0.7" fill="#4A52A0" stroke="#fff" stroke-width="0.55"/><text x="120.80" y="111.80" font-size="2.7" fill="#fff" text-anchor="middle" font-weight="bold" transform="rotate(0.04 120.80 111.80)">Monocyte</text>
<rect x="120.90" y="117.80" width="20.30" height="4.80" rx="1" fill="none" stroke="#3A9A89" stroke-width="0.45"/><rect x="121.4" y="118.3" width="19.3" height="3.8" rx="0.7" fill="#3A9A89" stroke="#fff" stroke-width="0.55"/><text x="131.05" y="121.10" font-size="2.7" fill="#fff" text-anchor="middle" font-weight="bold" transform="rotate(0.04 131.05 121.10)">Macrophage</text>
<rect x="34.50" y="118.00" width="21.80" height="5.00" rx="1" fill="none" stroke="#E4261F" stroke-width="0.45"/><rect x="35" y="118.5" width="20.8" height="4.0" rx="0.7" fill="#E4261F" stroke="#fff" stroke-width="0.55"/><text x="45.40" y="121.50" font-size="2.7" fill="#fff" text-anchor="middle" font-weight="bold" transform="rotate(0.04 45.40 121.50)">Malignant cell</text>
<path d="M15.3 139.3 L38.8 139.3 M15.3 139.3 L15.3 119.80000000000001" stroke="#000" stroke-width="0.8" fill="none"/>
<path d="M42.4 139.3 L38.4 137.10000000000002 L38.4 141.5 Z" fill="#000"/>
<path d="M15.3 116.20000000000002 L13.100000000000001 120.20000000000002 L17.5 120.20000000000002 Z" fill="#000"/>
<text x="18.80" y="143.50" font-size="3.0" fill="#111" font-weight="bold" transform="rotate(0.04 18.80 143.50)">UMAP_1</text>
<text x="13.30" y="136.30" font-size="3.0" fill="#111" font-weight="bold" transform="rotate(-89.96 13.30 136.30)">UMAP_2</text>
<path d="M271.6 141.1 L298.1 141.1 M271.6 141.1 L271.6 116.69999999999999" stroke="#000" stroke-width="0.8" fill="none"/>
<path d="M302.5 141.1 L297.70000000000005 138.4 L297.70000000000005 143.79999999999998 Z" fill="#000"/>
<path d="M271.6 112.29999999999998 L268.90000000000003 117.1 L274.3 117.1 Z" fill="#000"/>
<text x="275.90" y="146.70" font-size="4.4" fill="#111" transform="rotate(0.04 275.90 146.70)" stroke="#111" stroke-width="0.220">umap_1</text>
<text x="269.00" y="137.80" font-size="4.4" fill="#111" transform="rotate(-89.96 269.00 137.80)" stroke="#111" stroke-width="0.220">umap_2</text>
<text x="210.70" y="39.20" font-size="4.75" fill="#222" transform="rotate(0.04 210.70 39.20)" stroke="#222" stroke-width="0.238">Sample</text>
<circle cx="211.1" cy="42.90" r="1.5" fill="#3A6FB0"/>
<text x="215.30" y="44.20" font-size="3.6" fill="#333" transform="rotate(0.04 215.30 44.20)" stroke="#333" stroke-width="0.180">ATC09</text>
<circle cx="211.1" cy="48.50" r="1.5" fill="#E8762C"/>
<text x="215.30" y="49.80" font-size="3.6" fill="#333" transform="rotate(0.04 215.30 49.80)" stroke="#333" stroke-width="0.180">ATC10</text>
<circle cx="211.1" cy="54.10" r="1.5" fill="#2E9E3E"/>
<text x="215.30" y="55.40" font-size="3.6" fill="#333" transform="rotate(0.04 215.30 55.40)" stroke="#333" stroke-width="0.180">ATC11</text>
<circle cx="211.1" cy="59.70" r="1.5" fill="#D2242A"/>
<text x="215.30" y="61.00" font-size="3.6" fill="#333" transform="rotate(0.04 215.30 61.00)" stroke="#333" stroke-width="0.180">ATC12</text>
<circle cx="211.1" cy="65.30" r="1.5" fill="#8A55B5"/>
<text x="215.30" y="66.60" font-size="3.6" fill="#333" transform="rotate(0.04 215.30 66.60)" stroke="#333" stroke-width="0.180">ATC13</text>
<circle cx="211.1" cy="70.90" r="1.5" fill="#7A3F32"/>
<text x="215.30" y="72.20" font-size="3.6" fill="#333" transform="rotate(0.04 215.30 72.20)" stroke="#333" stroke-width="0.180">ATC15</text>
<circle cx="211.1" cy="76.50" r="1.5" fill="#D46BC0"/>
<text x="215.30" y="77.80" font-size="3.6" fill="#333" transform="rotate(0.04 215.30 77.80)" stroke="#333" stroke-width="0.180">ATC17</text>
<circle cx="229.2" cy="42.90" r="1.5" fill="#777777"/>
<text x="234.00" y="44.20" font-size="3.6" fill="#333" transform="rotate(0.04 234.00 44.20)" stroke="#333" stroke-width="0.180">PTC01</text>
<circle cx="229.2" cy="48.50" r="1.5" fill="#B5C234"/>
<text x="234.00" y="49.80" font-size="3.6" fill="#333" transform="rotate(0.04 234.00 49.80)" stroke="#333" stroke-width="0.180">PTC02</text>
<circle cx="229.2" cy="54.10" r="1.5" fill="#4BC4CE"/>
<text x="234.00" y="55.40" font-size="3.6" fill="#333" transform="rotate(0.04 234.00 55.40)" stroke="#333" stroke-width="0.180">PTC04</text>
<circle cx="229.2" cy="59.70" r="1.5" fill="#A9C4E8"/>
<text x="234.00" y="61.00" font-size="3.6" fill="#333" transform="rotate(0.04 234.00 61.00)" stroke="#333" stroke-width="0.180">PTC06</text>
<circle cx="229.2" cy="65.30" r="1.5" fill="#E8A86A"/>
<text x="234.00" y="66.60" font-size="3.6" fill="#333" transform="rotate(0.04 234.00 66.60)" stroke="#333" stroke-width="0.180">PTC07</text>
<text x="210.90" y="109.00" font-size="4.95" fill="#222" transform="rotate(0.04 210.90 109.00)" stroke="#222" stroke-width="0.248">Cancer Type</text>
<circle cx="212.3" cy="113.3" r="1.5" fill="#3B70B5"/><text x="216.60" y="114.50" font-size="3.4" fill="#333" transform="rotate(0.04 216.60 114.50)" stroke="#333" stroke-width="0.170">ATC</text>
<circle cx="212.3" cy="118.7" r="1.5" fill="#E87D2C"/><text x="216.60" y="119.90" font-size="3.4" fill="#333" transform="rotate(0.04 216.60 119.90)" stroke="#333" stroke-width="0.170">PTC</text>
<text x="424.50" y="59.00" font-size="5.9" fill="#222" transform="rotate(0.04 424.50 59.00)" stroke="#222" stroke-width="0.250">Age Group</text>
<circle cx="426.4" cy="67.2" r="1.5" fill="#DC4E36"/><text x="431.60" y="68.80" font-size="4.7" fill="#222" transform="rotate(0.04 431.60 68.80)" stroke="#222" stroke-width="0.235">Old</text>
<circle cx="426.4" cy="73.2" r="1.5" fill="#6CBCC8"/><text x="431.60" y="74.90" font-size="4.7" fill="#222" transform="rotate(0.04 431.60 74.90)" stroke="#222" stroke-width="0.235">Young</text>
<path d="M492.75 53V134.5 M500.25 53V134.5 M507.75 53V134.5 M515.25 53V134.5 M522.75 53V134.5 M530.25 53V134.5 M537.75 53V134.5 M545.25 53V134.5 M552.75 53V134.5 M560.25 53V134.5 M567.75 53V134.5 M575.25 53V134.5 M582.75 53V134.5 M590.25 53V134.5 M597.75 53V134.5 M605.25 53V134.5 M612.75 53V134.5 M620.25 53V134.5 M627.75 53V134.5 M635.25 53V134.5 M642.75 53V134.5 M650.25 53V134.5 M489 57.80H654 M489 66.70H654 M489 75.60H654 M489 84.50H654 M489 93.40H654 M489 102.30H654 M489 111.20H654 M489 120.10H654 M489 129.00H654" stroke="#e3e3e3" stroke-width="0.45" fill="none"/>
<circle cx="492.75" cy="57.80" r="2.5" fill="#3f9554"/>
<circle cx="500.25" cy="57.80" r="2.3" fill="#4a9e60"/>
<circle cx="507.75" cy="57.80" r="2.2" fill="#4a9e60"/>
<circle cx="515.25" cy="57.80" r="1.5" fill="#93cea5"/>
<circle cx="522.75" cy="57.80" r="0.8" fill="#a2d5b1"/>
<circle cx="530.25" cy="57.80" r="0.9" fill="#a2d5b1"/>
<circle cx="537.75" cy="57.80" r="0.35" fill="#cee9d7"/>
<circle cx="545.25" cy="57.80" r="0.35" fill="#cee9d7"/>
<circle cx="552.75" cy="57.80" r="0.35" fill="#cee9d7"/>
<circle cx="560.25" cy="57.80" r="0.35" fill="#cee9d7"/>
<circle cx="567.75" cy="57.80" r="0.35" fill="#cee9d7"/>
<circle cx="575.25" cy="57.80" r="0.35" fill="#cee9d7"/>
<circle cx="582.75" cy="57.80" r="0.35" fill="#cee9d7"/>
<circle cx="590.25" cy="57.80" r="0.35" fill="#cee9d7"/>
<circle cx="597.75" cy="57.80" r="0.35" fill="#cee9d7"/>
<circle cx="605.25" cy="57.80" r="0.5" fill="#c7e5d1"/>
<circle cx="612.75" cy="57.80" r="0.35" fill="#cee9d7"/>
<circle cx="620.25" cy="57.80" r="0.35" fill="#cee9d7"/>
<circle cx="627.75" cy="57.80" r="0.35" fill="#cee9d7"/>
<circle cx="635.25" cy="57.80" r="0.35" fill="#cee9d7"/>
<circle cx="642.75" cy="57.80" r="0.5" fill="#c7e5d1"/>
<circle cx="650.25" cy="57.80" r="0.35" fill="#cee9d7"/>
<circle cx="492.75" cy="66.70" r="0.6" fill="#b8dfc4"/>
<circle cx="500.25" cy="66.70" r="1.0" fill="#a2d5b1"/>
<circle cx="507.75" cy="66.70" r="0.35" fill="#cee9d7"/>
<circle cx="515.25" cy="66.70" r="2.6" fill="#2e8844"/>
<circle cx="522.75" cy="66.70" r="2.6" fill="#2e8844"/>
<circle cx="530.25" cy="66.70" r="2.6" fill="#2e8844"/>
<circle cx="537.75" cy="66.70" r="0.35" fill="#cee9d7"/>
<circle cx="545.25" cy="66.70" r="0.35" fill="#cee9d7"/>
<circle cx="552.75" cy="66.70" r="1.3" fill="#8ccb9f"/>
<circle cx="560.25" cy="66.70" r="0.35" fill="#cee9d7"/>
<circle cx="567.75" cy="66.70" r="0.35" fill="#cee9d7"/>
<circle cx="575.25" cy="66.70" r="0.35" fill="#cee9d7"/>
<circle cx="582.75" cy="66.70" r="0.35" fill="#cee9d7"/>
<circle cx="590.25" cy="66.70" r="0.35" fill="#cee9d7"/>
<circle cx="597.75" cy="66.70" r="0.35" fill="#cee9d7"/>
<circle cx="605.25" cy="66.70" r="0.35" fill="#cee9d7"/>
<circle cx="612.75" cy="66.70" r="0.35" fill="#cee9d7"/>
<circle cx="620.25" cy="66.70" r="0.35" fill="#cee9d7"/>
<circle cx="627.75" cy="66.70" r="0.35" fill="#cee9d7"/>
<circle cx="635.25" cy="66.70" r="0.35" fill="#cee9d7"/>
<circle cx="642.75" cy="66.70" r="0.35" fill="#cee9d7"/>
<circle cx="650.25" cy="66.70" r="0.35" fill="#cee9d7"/>
<circle cx="492.75" cy="75.60" r="0.35" fill="#cee9d7"/>
<circle cx="500.25" cy="75.60" r="0.35" fill="#cee9d7"/>
<circle cx="507.75" cy="75.60" r="0.35" fill="#cee9d7"/>
<circle cx="515.25" cy="75.60" r="0.35" fill="#cee9d7"/>
<circle cx="522.75" cy="75.60" r="0.35" fill="#cee9d7"/>
<circle cx="530.25" cy="75.60" r="0.35" fill="#cee9d7"/>
<circle cx="537.75" cy="75.60" r="2.6" fill="#93cea5"/>
<circle cx="545.25" cy="75.60" r="1.9" fill="#77c08c"/>
<circle cx="552.75" cy="75.60" r="1.6" fill="#84c798"/>
<circle cx="560.25" cy="75.60" r="0.35" fill="#cee9d7"/>
<circle cx="567.75" cy="75.60" r="0.35" fill="#cee9d7"/>
<circle cx="575.25" cy="75.60" r="0.35" fill="#cee9d7"/>
<circle cx="582.75" cy="75.60" r="2.3" fill="#7dc492"/>
<circle cx="590.25" cy="75.60" r="0.35" fill="#cee9d7"/>
<circle cx="597.75" cy="75.60" r="0.35" fill="#cee9d7"/>
<circle cx="605.25" cy="75.60" r="1.0" fill="#b1dbbe"/>
<circle cx="612.75" cy="75.60" r="0.35" fill="#cee9d7"/>
<circle cx="620.25" cy="75.60" r="0.35" fill="#cee9d7"/>
<circle cx="627.75" cy="75.60" r="0.35" fill="#cee9d7"/>
<circle cx="635.25" cy="75.60" r="0.35" fill="#cee9d7"/>
<circle cx="642.75" cy="75.60" r="0.35" fill="#cee9d7"/>
<circle cx="650.25" cy="75.60" r="0.35" fill="#cee9d7"/>
<circle cx="492.75" cy="84.50" r="0.35" fill="#cee9d7"/>
<circle cx="500.25" cy="84.50" r="0.35" fill="#cee9d7"/>
<circle cx="507.75" cy="84.50" r="0.35" fill="#cee9d7"/>
<circle cx="515.25" cy="84.50" r="0.35" fill="#cee9d7"/>
<circle cx="522.75" cy="84.50" r="0.35" fill="#cee9d7"/>
<circle cx="530.25" cy="84.50" r="0.35" fill="#cee9d7"/>
<circle cx="537.75" cy="84.50" r="2.4" fill="#c7e5d1"/>
<circle cx="545.25" cy="84.50" r="0.35" fill="#cee9d7"/>
<circle cx="552.75" cy="84.50" r="0.35" fill="#cee9d7"/>
<circle cx="560.25" cy="84.50" r="1.6" fill="#2e8844"/>
<circle cx="567.75" cy="84.50" r="1.5" fill="#2e8844"/>
<circle cx="575.25" cy="84.50" r="1.8" fill="#2e8844"/>
<circle cx="582.75" cy="84.50" r="0.35" fill="#cee9d7"/>
<circle cx="590.25" cy="84.50" r="0.6" fill="#c0e2ca"/>
<circle cx="597.75" cy="84.50" r="0.6" fill="#c0e2ca"/>
<circle cx="605.25" cy="84.50" r="0.35" fill="#cee9d7"/>
<circle cx="612.75" cy="84.50" r="0.35" fill="#cee9d7"/>
<circle cx="620.25" cy="84.50" r="0.35" fill="#cee9d7"/>
<circle cx="627.75" cy="84.50" r="0.35" fill="#cee9d7"/>
<circle cx="635.25" cy="84.50" r="0.35" fill="#cee9d7"/>
<circle cx="642.75" cy="84.50" r="0.35" fill="#cee9d7"/>
<circle cx="650.25" cy="84.50" r="0.35" fill="#cee9d7"/>
<circle cx="492.75" cy="93.40" r="0.35" fill="#cee9d7"/>
<circle cx="500.25" cy="93.40" r="0.35" fill="#cee9d7"/>
<circle cx="507.75" cy="93.40" r="0.35" fill="#cee9d7"/>
<circle cx="515.25" cy="93.40" r="0.35" fill="#cee9d7"/>
<circle cx="522.75" cy="93.40" r="0.35" fill="#cee9d7"/>
<circle cx="530.25" cy="93.40" r="0.35" fill="#cee9d7"/>
<circle cx="537.75" cy="93.40" r="2.6" fill="#8ccb9f"/>
<circle cx="545.25" cy="93.40" r="2.0" fill="#6cb781"/>
<circle cx="552.75" cy="93.40" r="1.8" fill="#7dc492"/>
<circle cx="560.25" cy="93.40" r="0.35" fill="#cee9d7"/>
<circle cx="567.75" cy="93.40" r="0.35" fill="#cee9d7"/>
<circle cx="575.25" cy="93.40" r="0.35" fill="#cee9d7"/>
<circle cx="582.75" cy="93.40" r="2.4" fill="#6cb781"/>
<circle cx="590.25" cy="93.40" r="0.35" fill="#cee9d7"/>
<circle cx="597.75" cy="93.40" r="0.35" fill="#cee9d7"/>
<circle cx="605.25" cy="93.40" r="1.0" fill="#b1dbbe"/>
<circle cx="612.75" cy="93.40" r="0.35" fill="#cee9d7"/>
<circle cx="620.25" cy="93.40" r="0.35" fill="#cee9d7"/>
<circle cx="627.75" cy="93.40" r="0.35" fill="#cee9d7"/>
<circle cx="635.25" cy="93.40" r="0.35" fill="#cee9d7"/>
<circle cx="642.75" cy="93.40" r="0.35" fill="#cee9d7"/>
<circle cx="650.25" cy="93.40" r="0.35" fill="#cee9d7"/>
<circle cx="492.75" cy="102.30" r="0.35" fill="#cee9d7"/>
<circle cx="500.25" cy="102.30" r="0.35" fill="#cee9d7"/>
<circle cx="507.75" cy="102.30" r="0.35" fill="#cee9d7"/>
<circle cx="515.25" cy="102.30" r="0.35" fill="#cee9d7"/>
<circle cx="522.75" cy="102.30" r="0.35" fill="#cee9d7"/>
<circle cx="530.25" cy="102.30" r="0.35" fill="#cee9d7"/>
<circle cx="537.75" cy="102.30" r="2.5" fill="#a2d5b1"/>
<circle cx="545.25" cy="102.30" r="0.35" fill="#cee9d7"/>
<circle cx="552.75" cy="102.30" r="0.35" fill="#cee9d7"/>
<circle cx="560.25" cy="102.30" r="0.35" fill="#cee9d7"/>
<circle cx="567.75" cy="102.30" r="0.35" fill="#cee9d7"/>
<circle cx="575.25" cy="102.30" r="0.35" fill="#cee9d7"/>
<circle cx="582.75" cy="102.30" r="0.35" fill="#cee9d7"/>
<circle cx="590.25" cy="102.30" r="1.9" fill="#2e8844"/>
<circle cx="597.75" cy="102.30" r="1.8" fill="#2e8844"/>
<circle cx="605.25" cy="102.30" r="0.35" fill="#cee9d7"/>
<circle cx="612.75" cy="102.30" r="0.35" fill="#cee9d7"/>
<circle cx="620.25" cy="102.30" r="0.35" fill="#cee9d7"/>
<circle cx="627.75" cy="102.30" r="0.35" fill="#cee9d7"/>
<circle cx="635.25" cy="102.30" r="0.35" fill="#cee9d7"/>
<circle cx="642.75" cy="102.30" r="0.35" fill="#cee9d7"/>
<circle cx="650.25" cy="102.30" r="0.35" fill="#cee9d7"/>
<circle cx="492.75" cy="111.20" r="0.35" fill="#cee9d7"/>
<circle cx="500.25" cy="111.20" r="0.35" fill="#cee9d7"/>
<circle cx="507.75" cy="111.20" r="0.35" fill="#cee9d7"/>
<circle cx="515.25" cy="111.20" r="0.35" fill="#cee9d7"/>
<circle cx="522.75" cy="111.20" r="0.35" fill="#cee9d7"/>
<circle cx="530.25" cy="111.20" r="0.35" fill="#cee9d7"/>
<circle cx="537.75" cy="111.20" r="1.5" fill="#c0e2ca"/>
<circle cx="545.25" cy="111.20" r="0.35" fill="#cee9d7"/>
<circle cx="552.75" cy="111.20" r="0.35" fill="#cee9d7"/>
<circle cx="560.25" cy="111.20" r="0.5" fill="#c7e5d1"/>
<circle cx="567.75" cy="111.20" r="0.35" fill="#cee9d7"/>
<circle cx="575.25" cy="111.20" r="0.5" fill="#c7e5d1"/>
<circle cx="582.75" cy="111.20" r="0.35" fill="#cee9d7"/>
<circle cx="590.25" cy="111.20" r="0.35" fill="#cee9d7"/>
<circle cx="597.75" cy="111.20" r="0.35" fill="#cee9d7"/>
<circle cx="605.25" cy="111.20" r="2.0" fill="#2e8844"/>
<circle cx="612.75" cy="111.20" r="1.7" fill="#2e8844"/>
<circle cx="620.25" cy="111.20" r="1.9" fill="#2e8844"/>
<circle cx="627.75" cy="111.20" r="0.35" fill="#cee9d7"/>
<circle cx="635.25" cy="111.20" r="0.35" fill="#cee9d7"/>
<circle cx="642.75" cy="111.20" r="0.35" fill="#cee9d7"/>
<circle cx="650.25" cy="111.20" r="0.35" fill="#cee9d7"/>
<circle cx="492.75" cy="120.10" r="0.35" fill="#cee9d7"/>
<circle cx="500.25" cy="120.10" r="0.35" fill="#cee9d7"/>
<circle cx="507.75" cy="120.10" r="0.35" fill="#cee9d7"/>
<circle cx="515.25" cy="120.10" r="0.35" fill="#cee9d7"/>
<circle cx="522.75" cy="120.10" r="0.35" fill="#cee9d7"/>
<circle cx="530.25" cy="120.10" r="0.35" fill="#cee9d7"/>
<circle cx="537.75" cy="120.10" r="2.6" fill="#77c08c"/>
<circle cx="545.25" cy="120.10" r="1.1" fill="#a2d5b1"/>
<circle cx="552.75" cy="120.10" r="0.7" fill="#b8dfc4"/>
<circle cx="560.25" cy="120.10" r="0.35" fill="#cee9d7"/>
<circle cx="567.75" cy="120.10" r="0.35" fill="#cee9d7"/>
<circle cx="575.25" cy="120.10" r="0.35" fill="#cee9d7"/>
<circle cx="582.75" cy="120.10" r="1.6" fill="#a2d5b1"/>
<circle cx="590.25" cy="120.10" r="0.35" fill="#cee9d7"/>
<circle cx="597.75" cy="120.10" r="0.35" fill="#cee9d7"/>
<circle cx="605.25" cy="120.10" r="0.9" fill="#b1dbbe"/>
<circle cx="612.75" cy="120.10" r="0.35" fill="#cee9d7"/>
<circle cx="620.25" cy="120.10" r="0.35" fill="#cee9d7"/>
<circle cx="627.75" cy="120.10" r="1.5" fill="#2e8844"/>
<circle cx="635.25" cy="120.10" r="0.35" fill="#cee9d7"/>
<circle cx="642.75" cy="120.10" r="0.35" fill="#cee9d7"/>
<circle cx="650.25" cy="120.10" r="0.35" fill="#cee9d7"/>
<circle cx="492.75" cy="129.00" r="0.35" fill="#cee9d7"/>
<circle cx="500.25" cy="129.00" r="0.35" fill="#cee9d7"/>
<circle cx="507.75" cy="129.00" r="0.35" fill="#cee9d7"/>
<circle cx="515.25" cy="129.00" r="0.35" fill="#cee9d7"/>
<circle cx="522.75" cy="129.00" r="0.35" fill="#cee9d7"/>
<circle cx="530.25" cy="129.00" r="0.35" fill="#cee9d7"/>
<circle cx="537.75" cy="129.00" r="0.35" fill="#cee9d7"/>
<circle cx="545.25" cy="129.00" r="0.35" fill="#cee9d7"/>
<circle cx="552.75" cy="129.00" r="0.35" fill="#cee9d7"/>
<circle cx="560.25" cy="129.00" r="0.35" fill="#cee9d7"/>
<circle cx="567.75" cy="129.00" r="0.35" fill="#cee9d7"/>
<circle cx="575.25" cy="129.00" r="0.35" fill="#cee9d7"/>
<circle cx="582.75" cy="129.00" r="0.35" fill="#cee9d7"/>
<circle cx="590.25" cy="129.00" r="0.35" fill="#cee9d7"/>
<circle cx="597.75" cy="129.00" r="0.35" fill="#cee9d7"/>
<circle cx="605.25" cy="129.00" r="0.35" fill="#cee9d7"/>
<circle cx="612.75" cy="129.00" r="0.35" fill="#cee9d7"/>
<circle cx="620.25" cy="129.00" r="0.35" fill="#cee9d7"/>
<circle cx="627.75" cy="129.00" r="0.7" fill="#a2d5b1"/>
<circle cx="635.25" cy="129.00" r="2.3" fill="#28843e"/>
<circle cx="642.75" cy="129.00" r="2.3" fill="#28843e"/>
<circle cx="650.25" cy="129.00" r="1.3" fill="#28843e"/>
<text x="489.00" y="59.50" font-size="4.8" fill="#222" text-anchor="end" transform="rotate(0.04 489.00 59.50)" stroke="#222" stroke-width="0.240">T cell</text>
<text x="489.00" y="68.40" font-size="4.8" fill="#222" text-anchor="end" transform="rotate(0.04 489.00 68.40)" stroke="#222" stroke-width="0.240">NK cell</text>
<text x="489.00" y="77.30" font-size="4.8" fill="#222" text-anchor="end" transform="rotate(0.04 489.00 77.30)" stroke="#222" stroke-width="0.240">Monocyte</text>
<text x="489.00" y="86.20" font-size="4.8" fill="#222" text-anchor="end" transform="rotate(0.04 489.00 86.20)" stroke="#222" stroke-width="0.240">Malignant cell</text>
<text x="489.00" y="95.10" font-size="4.8" fill="#222" text-anchor="end" transform="rotate(0.04 489.00 95.10)" stroke="#222" stroke-width="0.240">Macrophage</text>
<text x="489.00" y="104.00" font-size="4.8" fill="#222" text-anchor="end" transform="rotate(0.04 489.00 104.00)" stroke="#222" stroke-width="0.240">Fibroblast</text>
<text x="489.00" y="112.90" font-size="4.8" fill="#222" text-anchor="end" transform="rotate(0.04 489.00 112.90)" stroke="#222" stroke-width="0.240">Endothelial cell</text>
<text x="489.00" y="121.80" font-size="4.8" fill="#222" text-anchor="end" transform="rotate(0.04 489.00 121.80)" stroke="#222" stroke-width="0.240">Dendritic cells</text>
<text x="489.00" y="130.70" font-size="4.8" fill="#222" text-anchor="end" transform="rotate(0.04 489.00 130.70)" stroke="#222" stroke-width="0.240">B cell</text>
<rect x="489.00" y="137.8" width="22.50" height="2.3" fill="#3A8D7A"/>
<rect x="511.50" y="137.8" width="22.50" height="2.3" fill="#8E2E5E"/>
<rect x="534.00" y="137.8" width="22.50" height="2.3" fill="#5A5AA8"/>
<rect x="556.50" y="137.8" width="22.50" height="2.3" fill="#D83A3A"/>
<rect x="579.00" y="137.8" width="7.50" height="2.3" fill="#3A8D7A"/>
<rect x="586.50" y="137.8" width="15.00" height="2.3" fill="#3D4FA0"/>
<rect x="601.50" y="137.8" width="22.50" height="2.3" fill="#888888"/>
<rect x="624.00" y="137.8" width="7.50" height="2.3" fill="#D83A3A"/>
<rect x="631.50" y="137.8" width="22.50" height="2.3" fill="#5B2A86"/>
<text x="494.15" y="142.30" font-size="4.0" fill="#222" text-anchor="end" transform="rotate(-89.96 494.15 142.30)" stroke="#222" stroke-width="0.200">CD3D</text>
<text x="501.65" y="142.30" font-size="4.0" fill="#222" text-anchor="end" transform="rotate(-89.96 501.65 142.30)" stroke="#222" stroke-width="0.200">CD3E</text>
<text x="509.15" y="142.30" font-size="4.0" fill="#222" text-anchor="end" transform="rotate(-89.96 509.15 142.30)" stroke="#222" stroke-width="0.200">CD3G</text>
<text x="516.65" y="142.30" font-size="4.0" fill="#222" text-anchor="end" transform="rotate(-89.96 516.65 142.30)" stroke="#222" stroke-width="0.200">NKG7</text>
<text x="524.15" y="142.30" font-size="4.0" fill="#222" text-anchor="end" transform="rotate(-89.96 524.15 142.30)" stroke="#222" stroke-width="0.200">GNLY</text>
<text x="531.65" y="142.30" font-size="4.0" fill="#222" text-anchor="end" transform="rotate(-89.96 531.65 142.30)" stroke="#222" stroke-width="0.200">KLRD1</text>
<text x="539.15" y="142.30" font-size="4.0" fill="#222" text-anchor="end" transform="rotate(-89.96 539.15 142.30)" stroke="#222" stroke-width="0.200">CST3</text>
<text x="546.65" y="142.30" font-size="4.0" fill="#222" text-anchor="end" transform="rotate(-89.96 546.65 142.30)" stroke="#222" stroke-width="0.200">CD14</text>
<text x="554.15" y="142.30" font-size="4.0" fill="#222" text-anchor="end" transform="rotate(-89.96 554.15 142.30)" stroke="#222" stroke-width="0.200">FCGR3A</text>
<text x="561.65" y="142.30" font-size="4.0" fill="#222" text-anchor="end" transform="rotate(-89.96 561.65 142.30)" stroke="#222" stroke-width="0.200">EPCAM</text>
<text x="569.15" y="142.30" font-size="4.0" fill="#222" text-anchor="end" transform="rotate(-89.96 569.15 142.30)" stroke="#222" stroke-width="0.200">KRT7</text>
<text x="576.65" y="142.30" font-size="4.0" fill="#222" text-anchor="end" transform="rotate(-89.96 576.65 142.30)" stroke="#222" stroke-width="0.200">KRT8</text>
<text x="584.15" y="142.30" font-size="4.0" fill="#222" text-anchor="end" transform="rotate(-89.96 584.15 142.30)" stroke="#222" stroke-width="0.200">CD68</text>
<text x="591.65" y="142.30" font-size="4.0" fill="#222" text-anchor="end" transform="rotate(-89.96 591.65 142.30)" stroke="#222" stroke-width="0.200">DCN</text>
<text x="599.15" y="142.30" font-size="4.0" fill="#222" text-anchor="end" transform="rotate(-89.96 599.15 142.30)" stroke="#222" stroke-width="0.200">LUM</text>
<text x="606.65" y="142.30" font-size="4.0" fill="#222" text-anchor="end" transform="rotate(-89.96 606.65 142.30)" stroke="#222" stroke-width="0.200">PECAM1</text>
<text x="614.15" y="142.30" font-size="4.0" fill="#222" text-anchor="end" transform="rotate(-89.96 614.15 142.30)" stroke="#222" stroke-width="0.200">CLDN5</text>
<text x="621.65" y="142.30" font-size="4.0" fill="#222" text-anchor="end" transform="rotate(-89.96 621.65 142.30)" stroke="#222" stroke-width="0.200">VWF</text>
<text x="629.15" y="142.30" font-size="4.0" fill="#222" text-anchor="end" transform="rotate(-89.96 629.15 142.30)" stroke="#222" stroke-width="0.200">CD1C</text>
<text x="636.65" y="142.30" font-size="4.0" fill="#222" text-anchor="end" transform="rotate(-89.96 636.65 142.30)" stroke="#222" stroke-width="0.200">CD79A</text>
<text x="644.15" y="142.30" font-size="4.0" fill="#222" text-anchor="end" transform="rotate(-89.96 644.15 142.30)" stroke="#222" stroke-width="0.200">CD79B</text>
<text x="651.65" y="142.30" font-size="4.0" fill="#222" text-anchor="end" transform="rotate(-89.96 651.65 142.30)" stroke="#222" stroke-width="0.200">CD19</text>
<text x="492.80" y="43.00" font-size="4.8" fill="#222" transform="rotate(0.04 492.80 43.00)" stroke="#222" stroke-width="0.240">Percent Expression</text>
<circle cx="540" cy="43.5" r="0.3" fill="#111"/>
<text x="540.00" y="38.00" font-size="3.6" fill="#222" text-anchor="middle" transform="rotate(0.04 540.00 38.00)" stroke="#222" stroke-width="0.180">0</text>
<circle cx="548" cy="43.5" r="1.0" fill="#111"/>
<text x="548.00" y="38.00" font-size="3.6" fill="#222" text-anchor="middle" transform="rotate(0.04 548.00 38.00)" stroke="#222" stroke-width="0.180">25</text>
<circle cx="555.7" cy="43.5" r="1.7" fill="#111"/>
<text x="555.70" y="38.00" font-size="3.6" fill="#222" text-anchor="middle" transform="rotate(0.04 555.70 38.00)" stroke="#222" stroke-width="0.180">50</text>
<circle cx="563" cy="43.5" r="2.3" fill="#111"/>
<text x="563.00" y="38.00" font-size="3.6" fill="#222" text-anchor="middle" transform="rotate(0.04 563.00 38.00)" stroke="#222" stroke-width="0.180">75</text>
<text x="577.60" y="43.00" font-size="4.8" fill="#222" transform="rotate(0.04 577.60 43.00)" stroke="#222" stroke-width="0.240">Average Expression</text>
<linearGradient id="gC" x1="0" x2="1" y1="0" y2="0"><stop offset="0" stop-color="#eef7f1"/><stop offset="0.5" stop-color="#7dc492"/><stop offset="1" stop-color="#28843e"/></linearGradient>
<rect x="620.5" y="40.2" width="31.9" height="6.5" fill="url(#gC)"/>
<text x="624.00" y="38.00" font-size="3.6" fill="#222" text-anchor="middle" transform="rotate(0.04 624.00 38.00)" stroke="#222" stroke-width="0.180">−1</text>
<text x="632.50" y="38.00" font-size="3.6" fill="#222" text-anchor="middle" transform="rotate(0.04 632.50 38.00)" stroke="#222" stroke-width="0.180">0</text>
<text x="641.00" y="38.00" font-size="3.6" fill="#222" text-anchor="middle" transform="rotate(0.04 641.00 38.00)" stroke="#222" stroke-width="0.180">1</text>
<text x="649.50" y="38.00" font-size="3.6" fill="#222" text-anchor="middle" transform="rotate(0.04 649.50 38.00)" stroke="#222" stroke-width="0.180">2</text>
<path d="M33.3 199.5V326.4H180.7" stroke="#222" stroke-width="0.7" fill="none"/>
<path d="M31.8 320.60H33.3" stroke="#222" stroke-width="0.5"/>
<text x="29.20" y="322.60" font-size="5.6" fill="#222" text-anchor="end" transform="rotate(0.04 29.20 322.60)" stroke="#222" stroke-width="0.250">0.00</text>
<path d="M31.8 291.18H33.3" stroke="#222" stroke-width="0.5"/>
<text x="29.20" y="293.18" font-size="5.6" fill="#222" text-anchor="end" transform="rotate(0.04 29.20 293.18)" stroke="#222" stroke-width="0.250">0.25</text>
<path d="M31.8 261.75H33.3" stroke="#222" stroke-width="0.5"/>
<text x="29.20" y="263.75" font-size="5.6" fill="#222" text-anchor="end" transform="rotate(0.04 29.20 263.75)" stroke="#222" stroke-width="0.250">0.50</text>
<path d="M31.8 232.33H33.3" stroke="#222" stroke-width="0.5"/>
<text x="29.20" y="234.33" font-size="5.6" fill="#222" text-anchor="end" transform="rotate(0.04 29.20 234.33)" stroke="#222" stroke-width="0.250">0.75</text>
<path d="M31.8 202.90H33.3" stroke="#222" stroke-width="0.5"/>
<text x="29.20" y="204.90" font-size="5.6" fill="#222" text-anchor="end" transform="rotate(0.04 29.20 204.90)" stroke="#222" stroke-width="0.250">1.00</text>
<text x="11.60" y="266.00" font-size="7.2" fill="#111" text-anchor="middle" transform="rotate(-89.96 11.60 266.00)" stroke="#111" stroke-width="0.250">Percentage</text>
<path d="M41.70 326.4V327.9" stroke="#222" stroke-width="0.5"/>
<text x="43.10" y="332.40" font-size="5.9" fill="#D9653B" text-anchor="end" font-style="italic" transform="rotate(-45.96 43.10 332.40)" stroke="#D9653B" stroke-width="0.250">Dendritic cells</text>
<path d="M56.15 326.4V327.9" stroke="#222" stroke-width="0.5"/>
<text x="57.55" y="332.40" font-size="5.9" fill="#D9653B" text-anchor="end" font-style="italic" transform="rotate(-45.96 57.55 332.40)" stroke="#D9653B" stroke-width="0.250">Endothelial cell</text>
<path d="M70.60 326.4V327.9" stroke="#222" stroke-width="0.5"/>
<text x="72.00" y="332.40" font-size="5.9" fill="#D9653B" text-anchor="end" font-style="italic" transform="rotate(-45.96 72.00 332.40)" stroke="#D9653B" stroke-width="0.250">Macrophage</text>
<path d="M85.05 326.4V327.9" stroke="#222" stroke-width="0.5"/>
<text x="86.45" y="332.40" font-size="5.9" fill="#222" text-anchor="end" font-style="italic" transform="rotate(-45.96 86.45 332.40)" stroke="#222" stroke-width="0.250">T cell</text>
<path d="M99.50 326.4V327.9" stroke="#222" stroke-width="0.5"/>
<text x="100.90" y="332.40" font-size="5.9" fill="#222" text-anchor="end" font-style="italic" transform="rotate(-45.96 100.90 332.40)" stroke="#222" stroke-width="0.250">Fibroblast-like</text>
<path d="M113.95 326.4V327.9" stroke="#222" stroke-width="0.5"/>
<text x="115.35" y="332.40" font-size="5.9" fill="#222" text-anchor="end" font-style="italic" transform="rotate(-45.96 115.35 332.40)" stroke="#222" stroke-width="0.250">Malignant cell</text>
<path d="M128.40 326.4V327.9" stroke="#222" stroke-width="0.5"/>
<text x="129.80" y="332.40" font-size="5.9" fill="#222" text-anchor="end" font-style="italic" transform="rotate(-45.96 129.80 332.40)" stroke="#222" stroke-width="0.250">B cell</text>
<path d="M142.85 326.4V327.9" stroke="#222" stroke-width="0.5"/>
<text x="144.25" y="332.40" font-size="5.9" fill="#222" text-anchor="end" font-style="italic" transform="rotate(-45.96 144.25 332.40)" stroke="#222" stroke-width="0.250">Fibroblast</text>
<path d="M157.30 326.4V327.9" stroke="#222" stroke-width="0.5"/>
<text x="158.70" y="332.40" font-size="5.9" fill="#222" text-anchor="end" font-style="italic" transform="rotate(-45.96 158.70 332.40)" stroke="#222" stroke-width="0.250">NK cell</text>
<path d="M171.75 326.4V327.9" stroke="#222" stroke-width="0.5"/>
<text x="173.15" y="332.40" font-size="5.9" fill="#222" text-anchor="end" font-style="italic" transform="rotate(-45.96 173.15 332.40)" stroke="#222" stroke-width="0.250">Monocyte</text>
<path d="M38.30 318.25V320.60" stroke="#c9c9c9" stroke-width="0.5"/>
<rect x="35.50" y="319.31" width="5.6" height="1.4" fill="#E2493A"/>
<circle cx="38.94" cy="320.60" r="0.75" fill="#E2493A"/>
<circle cx="39.56" cy="319.42" r="0.75" fill="#E2493A"/>
<circle cx="39.84" cy="320.01" r="0.75" fill="#E2493A"/>
<circle cx="40.60" cy="318.83" r="0.75" fill="#E2493A"/>
<circle cx="39.55" cy="320.60" r="0.75" fill="#E2493A"/>
<circle cx="40.50" cy="318.25" r="0.75" fill="#E2493A"/>
<circle cx="35.85" cy="319.42" r="0.75" fill="#E2493A"/>
<path d="M45.10 304.12V318.25" stroke="#c9c9c9" stroke-width="0.5"/>
<rect x="42.30" y="306.48" width="5.6" height="4.71" fill="#6AC0CD" stroke="#d8d8d8" stroke-width="0.3"/>
<path d="M42.30 308.83h5.6" stroke="#f0f0f0" stroke-width="0.35"/>
<circle cx="44.92" cy="304.12" r="0.75" fill="#6AC0CD"/>
<circle cx="47.41" cy="306.48" r="0.75" fill="#6AC0CD"/>
<circle cx="45.87" cy="308.83" r="0.75" fill="#6AC0CD"/>
<circle cx="47.18" cy="310.01" r="0.75" fill="#6AC0CD"/>
<circle cx="43.09" cy="318.25" r="0.75" fill="#6AC0CD"/>
<path d="M52.75 318.25V320.60" stroke="#c9c9c9" stroke-width="0.5"/>
<rect x="49.95" y="319.31" width="5.6" height="1.4" fill="#E2493A"/>
<circle cx="52.59" cy="320.60" r="0.75" fill="#E2493A"/>
<circle cx="51.43" cy="320.01" r="0.75" fill="#E2493A"/>
<circle cx="52.98" cy="319.42" r="0.75" fill="#E2493A"/>
<circle cx="53.13" cy="320.60" r="0.75" fill="#E2493A"/>
<circle cx="50.22" cy="318.25" r="0.75" fill="#E2493A"/>
<circle cx="51.28" cy="319.42" r="0.75" fill="#E2493A"/>
<path d="M59.55 315.89V320.60" stroke="#c9c9c9" stroke-width="0.5"/>
<rect x="56.75" y="315.89" width="5.6" height="2.35" fill="#6AC0CD" stroke="#d8d8d8" stroke-width="0.3"/>
<path d="M56.75 317.07h5.6" stroke="#f0f0f0" stroke-width="0.35"/>
<circle cx="58.40" cy="315.89" r="0.75" fill="#6AC0CD"/>
<circle cx="61.71" cy="317.07" r="0.75" fill="#6AC0CD"/>
<circle cx="60.93" cy="318.25" r="0.75" fill="#6AC0CD"/>
<circle cx="57.78" cy="316.48" r="0.75" fill="#6AC0CD"/>
<circle cx="61.10" cy="319.42" r="0.75" fill="#6AC0CD"/>
<path d="M67.20 299.41V320.60" stroke="#c9c9c9" stroke-width="0.5"/>
<rect x="64.40" y="308.83" width="5.6" height="7.06" fill="#E2493A" stroke="#d8d8d8" stroke-width="0.3"/>
<path d="M64.40 312.36h5.6" stroke="#f0f0f0" stroke-width="0.35"/>
<circle cx="65.32" cy="299.41" r="0.75" fill="#E2493A"/>
<circle cx="67.81" cy="308.83" r="0.75" fill="#E2493A"/>
<circle cx="65.26" cy="311.18" r="0.75" fill="#E2493A"/>
<circle cx="64.61" cy="313.54" r="0.75" fill="#E2493A"/>
<circle cx="69.13" cy="314.72" r="0.75" fill="#E2493A"/>
<circle cx="65.69" cy="315.89" r="0.75" fill="#E2493A"/>
<circle cx="65.72" cy="320.60" r="0.75" fill="#E2493A"/>
<path d="M74.00 286.47V307.65" stroke="#c9c9c9" stroke-width="0.5"/>
<rect x="71.20" y="292.35" width="5.6" height="12.95" fill="#6AC0CD" stroke="#d8d8d8" stroke-width="0.3"/>
<path d="M71.20 298.24h5.6" stroke="#f0f0f0" stroke-width="0.35"/>
<circle cx="76.51" cy="286.47" r="0.75" fill="#6AC0CD"/>
<circle cx="75.94" cy="293.53" r="0.75" fill="#6AC0CD"/>
<circle cx="72.90" cy="298.24" r="0.75" fill="#6AC0CD"/>
<circle cx="76.40" cy="302.95" r="0.75" fill="#6AC0CD"/>
<circle cx="74.20" cy="307.65" r="0.75" fill="#6AC0CD"/>
<path d="M81.65 218.20V315.89" stroke="#c9c9c9" stroke-width="0.5"/>
<rect x="78.85" y="229.97" width="5.6" height="68.27" fill="#E2493A" stroke="#d8d8d8" stroke-width="0.3"/>
<path d="M78.85 245.27h5.6" stroke="#f0f0f0" stroke-width="0.35"/>
<circle cx="82.57" cy="218.20" r="0.75" fill="#E2493A"/>
<circle cx="80.11" cy="228.79" r="0.75" fill="#E2493A"/>
<circle cx="83.94" cy="245.27" r="0.75" fill="#E2493A"/>
<circle cx="82.64" cy="294.71" r="0.75" fill="#E2493A"/>
<circle cx="84.08" cy="308.83" r="0.75" fill="#E2493A"/>
<circle cx="83.70" cy="314.72" r="0.75" fill="#E2493A"/>
<path d="M88.45 287.64V313.54" stroke="#c9c9c9" stroke-width="0.5"/>
<rect x="85.65" y="300.59" width="5.6" height="9.42" fill="#6AC0CD" stroke="#d8d8d8" stroke-width="0.3"/>
<path d="M85.65 306.48h5.6" stroke="#f0f0f0" stroke-width="0.35"/>
<circle cx="87.40" cy="287.64" r="0.75" fill="#6AC0CD"/>
<circle cx="87.73" cy="300.59" r="0.75" fill="#6AC0CD"/>
<circle cx="86.71" cy="306.48" r="0.75" fill="#6AC0CD"/>
<circle cx="86.61" cy="312.36" r="0.75" fill="#6AC0CD"/>
<path d="M96.10 317.07V320.60" stroke="#c9c9c9" stroke-width="0.5"/>
<rect x="93.30" y="318.72" width="5.6" height="1.4" fill="#E2493A"/>
<circle cx="93.84" cy="320.60" r="0.75" fill="#E2493A"/>
<circle cx="95.07" cy="319.42" r="0.75" fill="#E2493A"/>
<circle cx="96.64" cy="318.25" r="0.75" fill="#E2493A"/>
<circle cx="93.52" cy="317.07" r="0.75" fill="#E2493A"/>
<circle cx="97.03" cy="320.60" r="0.75" fill="#E2493A"/>
<path d="M102.90 318.25V320.60" stroke="#c9c9c9" stroke-width="0.5"/>
<rect x="100.10" y="318.72" width="5.6" height="1.4" fill="#6AC0CD"/>
<circle cx="102.06" cy="320.60" r="0.75" fill="#6AC0CD"/>
<circle cx="101.91" cy="319.42" r="0.75" fill="#6AC0CD"/>
<circle cx="104.56" cy="318.25" r="0.75" fill="#6AC0CD"/>
<circle cx="102.80" cy="319.42" r="0.75" fill="#6AC0CD"/>
<path d="M110.55 228.79V320.60" stroke="#c9c9c9" stroke-width="0.5"/>
<rect x="107.75" y="259.40" width="5.6" height="61.20" fill="#E2493A" stroke="#d8d8d8" stroke-width="0.3"/>
<path d="M107.75 315.89h5.6" stroke="#f0f0f0" stroke-width="0.35"/>
<circle cx="109.59" cy="228.79" r="0.75" fill="#E2493A"/>
<circle cx="110.45" cy="231.15" r="0.75" fill="#E2493A"/>
<circle cx="111.61" cy="268.81" r="0.75" fill="#E2493A"/>
<circle cx="108.25" cy="313.54" r="0.75" fill="#E2493A"/>
<circle cx="113.02" cy="317.07" r="0.75" fill="#E2493A"/>
<circle cx="108.07" cy="320.60" r="0.75" fill="#E2493A"/>
<path d="M117.35 244.10V287.64" stroke="#c9c9c9" stroke-width="0.5"/>
<rect x="114.55" y="251.16" width="5.6" height="27.07" fill="#6AC0CD" stroke="#d8d8d8" stroke-width="0.3"/>
<path d="M114.55 264.10h5.6" stroke="#f0f0f0" stroke-width="0.35"/>
<circle cx="118.65" cy="244.10" r="0.75" fill="#6AC0CD"/>
<circle cx="119.14" cy="261.75" r="0.75" fill="#6AC0CD"/>
<circle cx="114.84" cy="287.64" r="0.75" fill="#6AC0CD"/>
<circle cx="118.85" cy="294.71" r="0.75" fill="#6AC0CD"/>
<path d="M125.00 312.36V320.60" stroke="#c9c9c9" stroke-width="0.5"/>
<rect x="122.20" y="314.72" width="5.6" height="5.88" fill="#E2493A" stroke="#d8d8d8" stroke-width="0.3"/>
<path d="M122.20 318.25h5.6" stroke="#f0f0f0" stroke-width="0.35"/>
<circle cx="124.30" cy="281.76" r="0.75" fill="#E2493A"/>
<circle cx="125.41" cy="312.36" r="0.75" fill="#E2493A"/>
<circle cx="122.45" cy="314.72" r="0.75" fill="#E2493A"/>
<circle cx="122.64" cy="317.07" r="0.75" fill="#E2493A"/>
<circle cx="123.34" cy="318.25" r="0.75" fill="#E2493A"/>
<circle cx="127.37" cy="320.60" r="0.75" fill="#E2493A"/>
<path d="M131.80 319.42V320.60" stroke="#c9c9c9" stroke-width="0.5"/>
<rect x="129.00" y="319.31" width="5.6" height="1.4" fill="#6AC0CD"/>
<circle cx="130.22" cy="320.60" r="0.75" fill="#6AC0CD"/>
<circle cx="133.13" cy="319.42" r="0.75" fill="#6AC0CD"/>
<circle cx="134.03" cy="320.01" r="0.75" fill="#6AC0CD"/>
<path d="M139.45 319.42V320.60" stroke="#c9c9c9" stroke-width="0.5"/>
<rect x="136.65" y="319.90" width="5.6" height="1.4" fill="#E2493A"/>
<circle cx="141.75" cy="297.06" r="0.75" fill="#E2493A"/>
<circle cx="138.64" cy="320.60" r="0.75" fill="#E2493A"/>
<circle cx="138.69" cy="320.01" r="0.75" fill="#E2493A"/>
<circle cx="139.58" cy="320.60" r="0.75" fill="#E2493A"/>
<path d="M146.25 319.42V320.60" stroke="#c9c9c9" stroke-width="0.5"/>
<rect x="143.45" y="319.31" width="5.6" height="1.4" fill="#6AC0CD"/>
<circle cx="147.68" cy="320.60" r="0.75" fill="#6AC0CD"/>
<circle cx="144.21" cy="319.42" r="0.75" fill="#6AC0CD"/>
<circle cx="147.54" cy="320.60" r="0.75" fill="#6AC0CD"/>
<path d="M153.90 315.89V320.60" stroke="#c9c9c9" stroke-width="0.5"/>
<rect x="151.10" y="317.07" width="5.6" height="3.53" fill="#E2493A" stroke="#d8d8d8" stroke-width="0.3"/>
<path d="M151.10 318.83h5.6" stroke="#f0f0f0" stroke-width="0.35"/>
<circle cx="155.45" cy="314.72" r="0.75" fill="#E2493A"/>
<circle cx="155.77" cy="317.07" r="0.75" fill="#E2493A"/>
<circle cx="151.49" cy="318.25" r="0.75" fill="#E2493A"/>
<circle cx="156.22" cy="320.60" r="0.75" fill="#E2493A"/>
<circle cx="151.77" cy="319.42" r="0.75" fill="#E2493A"/>
<path d="M160.70 318.25V320.60" stroke="#c9c9c9" stroke-width="0.5"/>
<rect x="157.90" y="318.13" width="5.6" height="1.4" fill="#6AC0CD"/>
<circle cx="159.87" cy="318.25" r="0.75" fill="#6AC0CD"/>
<circle cx="161.28" cy="318.83" r="0.75" fill="#6AC0CD"/>
<circle cx="162.87" cy="319.42" r="0.75" fill="#6AC0CD"/>
<path d="M168.35 315.89V320.60" stroke="#c9c9c9" stroke-width="0.5"/>
<rect x="165.55" y="317.07" width="5.6" height="3.53" fill="#E2493A" stroke="#d8d8d8" stroke-width="0.3"/>
<path d="M165.55 318.83h5.6" stroke="#f0f0f0" stroke-width="0.35"/>
<circle cx="167.52" cy="313.54" r="0.75" fill="#E2493A"/>
<circle cx="170.56" cy="317.07" r="0.75" fill="#E2493A"/>
<circle cx="168.58" cy="318.25" r="0.75" fill="#E2493A"/>
<circle cx="167.37" cy="320.60" r="0.75" fill="#E2493A"/>
<circle cx="167.40" cy="319.42" r="0.75" fill="#E2493A"/>
<path d="M175.15 317.66V320.60" stroke="#c9c9c9" stroke-width="0.5"/>
<rect x="172.35" y="317.55" width="5.6" height="1.4" fill="#6AC0CD"/>
<circle cx="173.47" cy="317.07" r="0.75" fill="#6AC0CD"/>
<circle cx="172.96" cy="318.25" r="0.75" fill="#6AC0CD"/>
<circle cx="173.32" cy="318.83" r="0.75" fill="#6AC0CD"/>
<text x="41.70" y="292.48" font-size="12.5" fill="#111" text-anchor="middle" font-weight="bold" transform="rotate(0.04 41.70 292.48)">**</text>
<path d="M38.10 291.18h7.2" stroke="#222" stroke-width="0.75"/>
<text x="56.15" y="304.25" font-size="12.5" fill="#111" text-anchor="middle" font-weight="bold" transform="rotate(0.04 56.15 304.25)">**</text>
<path d="M52.55 302.95h7.2" stroke="#222" stroke-width="0.75"/>
<text x="70.60" y="276.59" font-size="12.5" fill="#111" text-anchor="middle" font-weight="bold" transform="rotate(0.04 70.60 276.59)">*</text>
<path d="M67.00 275.29h7.2" stroke="#222" stroke-width="0.75"/>
<text x="85.05" y="212.48" font-size="6.6" fill="#222" text-anchor="middle" transform="rotate(0.04 85.05 212.48)" stroke="#222" stroke-width="0.250">ns</text>
<path d="M81.45 214.08h7.2" stroke="#222" stroke-width="0.75"/>
<text x="99.50" y="303.70" font-size="6.6" fill="#222" text-anchor="middle" transform="rotate(0.04 99.50 303.70)" stroke="#222" stroke-width="0.250">ns</text>
<path d="M95.90 305.30h7.2" stroke="#222" stroke-width="0.75"/>
<text x="113.95" y="215.19" font-size="6.6" fill="#222" text-anchor="middle" transform="rotate(0.04 113.95 215.19)" stroke="#222" stroke-width="0.250">ns</text>
<path d="M110.35 216.79h7.2" stroke="#222" stroke-width="0.75"/>
<text x="128.40" y="268.39" font-size="6.6" fill="#222" text-anchor="middle" transform="rotate(0.04 128.40 268.39)" stroke="#222" stroke-width="0.250">ns</text>
<path d="M124.80 269.99h7.2" stroke="#222" stroke-width="0.75"/>
<text x="142.85" y="283.10" font-size="6.6" fill="#222" text-anchor="middle" transform="rotate(0.04 142.85 283.10)" stroke="#222" stroke-width="0.250">ns</text>
<path d="M139.25 284.70h7.2" stroke="#222" stroke-width="0.75"/>
<text x="157.30" y="300.17" font-size="6.6" fill="#222" text-anchor="middle" transform="rotate(0.04 157.30 300.17)" stroke="#222" stroke-width="0.250">ns</text>
<path d="M153.70 301.77h7.2" stroke="#222" stroke-width="0.75"/>
<text x="171.75" y="300.17" font-size="6.6" fill="#222" text-anchor="middle" transform="rotate(0.04 171.75 300.17)" stroke="#222" stroke-width="0.250">ns</text>
<path d="M168.15 301.77h7.2" stroke="#222" stroke-width="0.75"/>
<text x="183.50" y="256.50" font-size="7.0" fill="#222" transform="rotate(0.04 183.50 256.50)" stroke="#222" stroke-width="0.250">Age Group</text>
<rect x="184.6" y="262.50" width="6.2" height="6.0" fill="#E2493A" stroke="#444" stroke-width="0.45"/>
<path d="M184.6 265.50h6.2" stroke="#eee" stroke-width="0.4"/><path d="M187.7 261.60v0.9 M187.7 268.50v0.9" stroke="#444" stroke-width="0.45"/>
<text x="194.80" y="267.70" font-size="6.0" fill="#222" transform="rotate(0.04 194.80 267.70)" stroke="#222" stroke-width="0.250">Old</text>
<rect x="184.6" y="272.50" width="6.2" height="6.0" fill="#6AC0CD" stroke="#444" stroke-width="0.45"/>
<path d="M184.6 275.50h6.2" stroke="#eee" stroke-width="0.4"/><path d="M187.7 271.60v0.9 M187.7 278.50v0.9" stroke="#444" stroke-width="0.45"/>
<text x="194.80" y="277.70" font-size="6.0" fill="#222" transform="rotate(0.04 194.80 277.70)" stroke="#222" stroke-width="0.250">Young</text>
<linearGradient id="gE" x1="0" x2="0" y1="0" y2="1"><stop offset="0" stop-color="#7A90A2"/><stop offset="1" stop-color="#A6B6C4"/></linearGradient>
<path d="M246.80 192.80H460.00L439.70 223.70H267.10Z" fill="url(#gE)"/>
<path d="M268.10 225.30H438.70L419.20 255.60H287.60Z" fill="url(#gE)"/>
<path d="M288.90 257.60H417.90L398.40 288.40H308.40Z" fill="url(#gE)"/>
<path d="M308.90 290.00H397.90L378.90 321.10H327.90Z" fill="url(#gE)"/>
<path d="M329.00 322.70H377.80L353.40 356.40Z" fill="url(#gE)"/>
<text x="353.40" y="206.40" font-size="6.1" fill="#fff" text-anchor="middle" font-weight="bold" transform="rotate(0.04 353.40 206.40)">Differentially expressed genes from macrophage between</text>
<text x="353.40" y="214.00" font-size="6.1" fill="#fff" text-anchor="middle" font-weight="bold" transform="rotate(0.04 353.40 214.00)">young and old groups</text>
<text x="353.40" y="220.80" font-size="6.1" fill="#fff" text-anchor="middle" font-weight="bold" transform="rotate(0.04 353.40 220.80)">(1388)</text>
<text x="353.40" y="236.00" font-size="6.1" fill="#fff" text-anchor="middle" font-weight="bold" transform="rotate(0.04 353.40 236.00)">Gene expression ratio variance across</text>
<text x="353.40" y="243.40" font-size="6.1" fill="#fff" text-anchor="middle" font-weight="bold" transform="rotate(0.04 353.40 243.40)">age groups greater than 0.2</text>
<text x="353.40" y="251.00" font-size="6.1" fill="#fff" text-anchor="middle" font-weight="bold" transform="rotate(0.04 353.40 251.00)">(218)</text>
<text x="353.40" y="270.20" font-size="6.1" fill="#fff" text-anchor="middle" font-weight="bold" transform="rotate(0.04 353.40 270.20)">Proportion of gene expression in</text>
<text x="353.40" y="277.30" font-size="6.1" fill="#fff" text-anchor="middle" font-weight="bold" transform="rotate(0.04 353.40 277.30)">macrophages exceeds 20%</text>
<text x="353.40" y="284.60" font-size="6.1" fill="#fff" text-anchor="middle" font-weight="bold" transform="rotate(0.04 353.40 284.60)">(187)</text>
<text x="353.40" y="302.00" font-size="5.1" fill="#fff" text-anchor="middle" font-weight="bold" transform="rotate(0.04 353.40 302.00)">Express higher in</text>
<text x="353.40" y="308.50" font-size="5.1" fill="#fff" text-anchor="middle" font-weight="bold" transform="rotate(0.04 353.40 308.50)">macrophages</text>
<text x="353.40" y="315.00" font-size="5.1" fill="#fff" text-anchor="middle" font-weight="bold" transform="rotate(0.04 353.40 315.00)">(156)</text>
<text x="353.40" y="330.60" font-size="3.75" fill="#fff" text-anchor="middle" font-weight="bold" transform="rotate(0.04 353.40 330.60)">Proportion in non-</text>
<text x="353.40" y="335.00" font-size="3.75" fill="#fff" text-anchor="middle" font-weight="bold" transform="rotate(0.04 353.40 335.00)">macrophage cells</text>
<text x="353.40" y="339.40" font-size="3.75" fill="#fff" text-anchor="middle" font-weight="bold" transform="rotate(0.04 353.40 339.40)">less than 10%</text>
<text x="353.40" y="343.80" font-size="3.75" fill="#fff" text-anchor="middle" font-weight="bold" transform="rotate(0.04 353.40 343.80)">(47)</text>
<path d="M247.5 195.2V250.8M247.5 255.6V353" stroke="#8FA3B8" stroke-width="0.7" fill="none"/>
<path d="M245.7 248.8L247.5 251.8L249.3 248.8M245.7 351L247.5 354L249.3 351" stroke="#8FA3B8" stroke-width="0.6" fill="none"/>
<text x="244.20" y="222.20" font-size="7.0" fill="#777777" text-anchor="middle" transform="rotate(-89.96 244.20 222.20)" stroke="#777777" stroke-width="0.250">Age specific</text>
<text x="244.20" y="298.50" font-size="7.0" fill="#777777" text-anchor="middle" transform="rotate(-89.96 244.20 298.50)" stroke="#777777" stroke-width="0.250">Macrophage specific</text>
<rect x="489.90" y="191.30" width="172.65" height="7.3" fill="#A8B5C3"/>
<text x="494.80" y="197.00" font-size="5.5" fill="#222" transform="rotate(0.04 494.80 197.00)" stroke="#222" stroke-width="0.250">carbohydrate derivative catabolic process</text>
<rect x="489.90" y="199.83" width="162.67" height="7.3" fill="#A8B5C3"/>
<text x="494.80" y="205.53" font-size="5.5" fill="#222" transform="rotate(0.04 494.80 205.53)" stroke="#222" stroke-width="0.250">regulation of intracellular pH</text>
<rect x="489.90" y="208.36" width="162.67" height="7.3" fill="#A8B5C3"/>
<text x="494.80" y="214.06" font-size="5.5" fill="#222" transform="rotate(0.04 494.80 214.06)" stroke="#222" stroke-width="0.250">response to vitamin</text>
<rect x="489.90" y="216.89" width="162.67" height="7.3" fill="#A8B5C3"/>
<text x="494.80" y="222.59" font-size="5.5" fill="#222" transform="rotate(0.04 494.80 222.59)" stroke="#222" stroke-width="0.250">negative regulation of mononuclear cell proliferation</text>
<rect x="489.90" y="225.42" width="162.67" height="7.3" fill="#A8B5C3"/>
<text x="494.80" y="231.12" font-size="5.5" fill="#222" transform="rotate(0.04 494.80 231.12)" stroke="#222" stroke-width="0.250">negative regulation of lymphocyte proliferation</text>
<rect x="489.90" y="233.95" width="162.67" height="7.3" fill="#A8B5C3"/>
<text x="494.80" y="239.65" font-size="5.5" fill="#222" transform="rotate(0.04 494.80 239.65)" stroke="#222" stroke-width="0.250">astrocyte differentiation</text>
<rect x="489.90" y="242.48" width="159.68" height="7.3" fill="#A8B5C3"/>
<text x="494.80" y="248.18" font-size="5.5" fill="#222" transform="rotate(0.04 494.80 248.18)" stroke="#222" stroke-width="0.250">regulation of cellular pH</text>
<rect x="489.90" y="251.01" width="157.98" height="7.3" fill="#A8B5C3"/>
<text x="494.80" y="256.71" font-size="5.5" fill="#222" transform="rotate(0.04 494.80 256.71)" stroke="#222" stroke-width="0.250">negative regulation of leukocyte proliferation</text>
<rect x="489.90" y="259.54" width="157.19" height="7.3" fill="#A8B5C3"/>
<text x="494.80" y="265.24" font-size="5.5" fill="#222" transform="rotate(0.04 494.80 265.24)" stroke="#222" stroke-width="0.250">regulation of leukocyte differentiation</text>
<rect x="489.90" y="268.07" width="157.19" height="7.3" fill="#A8B5C3"/>
<text x="494.80" y="273.77" font-size="5.5" fill="#222" transform="rotate(0.04 494.80 273.77)" stroke="#222" stroke-width="0.250">regulation of phagocytosis</text>
<rect x="489.90" y="276.60" width="153.89" height="7.3" fill="#D6A3A9"/>
<text x="494.80" y="282.30" font-size="5.5" fill="#222" transform="rotate(0.04 494.80 282.30)" stroke="#222" stroke-width="0.250">taxis</text>
<rect x="489.90" y="285.13" width="153.89" height="7.3" fill="#D6A3A9"/>
<text x="494.80" y="290.83" font-size="5.5" fill="#222" transform="rotate(0.04 494.80 290.83)" stroke="#222" stroke-width="0.250">chemotaxis</text>
<rect x="489.90" y="293.66" width="153.89" height="7.3" fill="#D6A3A9"/>
<text x="494.80" y="299.36" font-size="5.5" fill="#222" transform="rotate(0.04 494.80 299.36)" stroke="#222" stroke-width="0.250">mast cell mediated immunity</text>
<rect x="489.90" y="302.19" width="153.89" height="7.3" fill="#D6A3A9"/>
<text x="494.80" y="307.89" font-size="5.5" fill="#222" transform="rotate(0.04 494.80 307.89)" stroke="#222" stroke-width="0.250">mast cell activation involved in immune response</text>
<rect x="489.90" y="310.72" width="153.19" height="7.3" fill="#D6A3A9"/>
<text x="494.80" y="316.42" font-size="5.5" fill="#222" transform="rotate(0.04 494.80 316.42)" stroke="#222" stroke-width="0.250">glial cell activation</text>
<rect x="489.90" y="319.25" width="152.69" height="7.3" fill="#D6A3A9"/>
<text x="494.80" y="324.95" font-size="5.5" fill="#222" transform="rotate(0.04 494.80 324.95)" stroke="#222" stroke-width="0.250">leukocyte adhesion to vascular endothelial cell</text>
<rect x="489.90" y="327.78" width="151.70" height="7.3" fill="#D6A3A9"/>
<text x="494.80" y="333.48" font-size="5.5" fill="#222" transform="rotate(0.04 494.80 333.48)" stroke="#222" stroke-width="0.250">monocarboxylic acid biosynthetic process</text>
<rect x="489.90" y="336.31" width="150.70" height="7.3" fill="#D6A3A9"/>
<text x="494.80" y="342.01" font-size="5.5" fill="#222" transform="rotate(0.04 494.80 342.01)" stroke="#222" stroke-width="0.250">regulation of vascular endothelial growth factor production</text>
<rect x="489.90" y="344.84" width="149.70" height="7.3" fill="#D6A3A9"/>
<text x="494.80" y="350.54" font-size="5.5" fill="#222" transform="rotate(0.04 494.80 350.54)" stroke="#222" stroke-width="0.250">calcium−mediated signaling</text>
<rect x="489.90" y="353.37" width="149.70" height="7.3" fill="#D6A3A9"/>
<text x="494.80" y="359.07" font-size="5.5" fill="#222" transform="rotate(0.04 494.80 359.07)" stroke="#222" stroke-width="0.250">regulation of nitric oxide biosynthetic process</text>
<path d="M489.60 190.5V361.8H662.5" stroke="#222" stroke-width="0.6" fill="none"/>
<path d="M489.90 361.8v1.4" stroke="#222" stroke-width="0.5"/>
<text x="489.90" y="371.70" font-size="5.4" fill="#333" text-anchor="middle" transform="rotate(0.04 489.90 371.70)" stroke="#333" stroke-width="0.250">0.0</text>
<path d="M539.80 361.8v1.4" stroke="#222" stroke-width="0.5"/>
<text x="539.80" y="371.70" font-size="5.4" fill="#333" text-anchor="middle" transform="rotate(0.04 539.80 371.70)" stroke="#333" stroke-width="0.250">0.5</text>
<path d="M589.70 361.8v1.4" stroke="#222" stroke-width="0.5"/>
<text x="589.70" y="371.70" font-size="5.4" fill="#333" text-anchor="middle" transform="rotate(0.04 589.70 371.70)" stroke="#333" stroke-width="0.250">1.0</text>
<path d="M639.60 361.8v1.4" stroke="#222" stroke-width="0.5"/>
<text x="639.60" y="371.70" font-size="5.4" fill="#333" text-anchor="middle" transform="rotate(0.04 639.60 371.70)" stroke="#333" stroke-width="0.250">1.5</text>
<text x="576" y="379.0" font-size="6.3" font-weight="bold" fill="#111" text-anchor="middle">−log<tspan font-size="3.8" dy="1.2">10</tspan><tspan dy="-1.2">(q-value)</tspan></text>
<text x="481.90" y="269.00" font-size="7.9" fill="#111" text-anchor="middle" font-weight="bold" transform="rotate(-89.96 481.90 269.00)">GO Biological Process Term</text>
<text x="656.00" y="259.30" font-size="5.2" fill="#222" transform="rotate(0.04 656.00 259.30)" stroke="#222" stroke-width="0.250">Correlation</text>
<rect x="656" y="261.6" width="5.6" height="4.6" fill="#D6A3A9"/><text x="663.20" y="265.60" font-size="4.3" fill="#333" transform="rotate(0.04 663.20 265.60)" stroke="#333" stroke-width="0.215">Positive</text>
<rect x="656" y="267.0" width="5.6" height="4.6" fill="#A8B5C3"/><text x="663.20" y="271.00" font-size="4.3" fill="#333" transform="rotate(0.04 663.20 271.00)" stroke="#333" stroke-width="0.215">Negative</text>
<rect x="68.90" y="417.30" width="13.69" height="4.20" fill="#a2bada"/>
<rect x="82.29" y="417.30" width="13.69" height="4.20" fill="#f2c2c2"/>
<rect x="95.69" y="417.30" width="13.69" height="4.20" fill="#a2bada"/>
<rect x="109.08" y="417.30" width="13.69" height="4.20" fill="#d0dcec"/>
<rect x="122.47" y="417.30" width="13.69" height="4.20" fill="#a2bada"/>
<rect x="135.87" y="417.30" width="13.69" height="4.20" fill="#eca8a8"/>
<rect x="149.26" y="417.30" width="13.69" height="4.20" fill="#8ba9d0"/>
<rect x="162.65" y="417.30" width="13.69" height="4.20" fill="#8ba9d0"/>
<rect x="176.04" y="417.30" width="13.69" height="4.20" fill="#f2c2c2"/>
<rect x="189.44" y="417.30" width="13.69" height="4.20" fill="#e8eef6"/>
<rect x="202.83" y="417.30" width="13.69" height="4.20" fill="#b9cbe3"/>
<rect x="216.22" y="417.30" width="13.69" height="4.20" fill="#ffffff"/>
<rect x="229.62" y="417.30" width="13.69" height="4.20" fill="#e07575"/>
<rect x="243.01" y="417.30" width="13.69" height="4.20" fill="#eca8a8"/>
<rect x="256.40" y="417.30" width="13.69" height="4.20" fill="#d02c2c"/>
<rect x="68.90" y="421.20" width="13.69" height="4.20" fill="#a2bada"/>
<rect x="82.29" y="421.20" width="13.69" height="4.20" fill="#b9cbe3"/>
<rect x="95.69" y="421.20" width="13.69" height="4.20" fill="#f2c2c2"/>
<rect x="109.08" y="421.20" width="13.69" height="4.20" fill="#d0dcec"/>
<rect x="122.47" y="421.20" width="13.69" height="4.20" fill="#a2bada"/>
<rect x="135.87" y="421.20" width="13.69" height="4.20" fill="#ffffff"/>
<rect x="149.26" y="421.20" width="13.69" height="4.20" fill="#b9cbe3"/>
<rect x="162.65" y="421.20" width="13.69" height="4.20" fill="#d0dcec"/>
<rect x="176.04" y="421.20" width="13.69" height="4.20" fill="#e8eef6"/>
<rect x="189.44" y="421.20" width="13.69" height="4.20" fill="#d0dcec"/>
<rect x="202.83" y="421.20" width="13.69" height="4.20" fill="#b9cbe3"/>
<rect x="216.22" y="421.20" width="13.69" height="4.20" fill="#f8dfdf"/>
<rect x="229.62" y="421.20" width="13.69" height="4.20" fill="#e68e8e"/>
<rect x="243.01" y="421.20" width="13.69" height="4.20" fill="#d02c2c"/>
<rect x="256.40" y="421.20" width="13.69" height="4.20" fill="#e68e8e"/>
<rect x="68.90" y="425.10" width="13.69" height="4.20" fill="#a2bada"/>
<rect x="82.29" y="425.10" width="13.69" height="4.20" fill="#d0dcec"/>
<rect x="95.69" y="425.10" width="13.69" height="4.20" fill="#f8dfdf"/>
<rect x="109.08" y="425.10" width="13.69" height="4.20" fill="#a2bada"/>
<rect x="122.47" y="425.10" width="13.69" height="4.20" fill="#a2bada"/>
<rect x="135.87" y="425.10" width="13.69" height="4.20" fill="#e07575"/>
<rect x="149.26" y="425.10" width="13.69" height="4.20" fill="#a2bada"/>
<rect x="162.65" y="425.10" width="13.69" height="4.20" fill="#d0dcec"/>
<rect x="176.04" y="425.10" width="13.69" height="4.20" fill="#e8eef6"/>
<rect x="189.44" y="425.10" width="13.69" height="4.20" fill="#a2bada"/>
<rect x="202.83" y="425.10" width="13.69" height="4.20" fill="#a2bada"/>
<rect x="216.22" y="425.10" width="13.69" height="4.20" fill="#d02c2c"/>
<rect x="229.62" y="425.10" width="13.69" height="4.20" fill="#e07575"/>
<rect x="243.01" y="425.10" width="13.69" height="4.20" fill="#eca8a8"/>
<rect x="256.40" y="425.10" width="13.69" height="4.20" fill="#e07575"/>
<rect x="68.90" y="429.00" width="13.69" height="4.20" fill="#a2bada"/>
<rect x="82.29" y="429.00" width="13.69" height="4.20" fill="#a2bada"/>
<rect x="95.69" y="429.00" width="13.69" height="4.20" fill="#e8eef6"/>
<rect x="109.08" y="429.00" width="13.69" height="4.20" fill="#d0dcec"/>
<rect x="122.47" y="429.00" width="13.69" height="4.20" fill="#a2bada"/>
<rect x="135.87" y="429.00" width="13.69" height="4.20" fill="#e07575"/>
<rect x="149.26" y="429.00" width="13.69" height="4.20" fill="#a2bada"/>
<rect x="162.65" y="429.00" width="13.69" height="4.20" fill="#a2bada"/>
<rect x="176.04" y="429.00" width="13.69" height="4.20" fill="#d0dcec"/>
<rect x="189.44" y="429.00" width="13.69" height="4.20" fill="#f8dfdf"/>
<rect x="202.83" y="429.00" width="13.69" height="4.20" fill="#a2bada"/>
<rect x="216.22" y="429.00" width="13.69" height="4.20" fill="#f2c2c2"/>
<rect x="229.62" y="429.00" width="13.69" height="4.20" fill="#d54444"/>
<rect x="243.01" y="429.00" width="13.69" height="4.20" fill="#db5c5c"/>
<rect x="256.40" y="429.00" width="13.69" height="4.20" fill="#e07575"/>
<rect x="68.90" y="432.90" width="13.69" height="4.20" fill="#7498c7"/>
<rect x="82.29" y="432.90" width="13.69" height="4.20" fill="#a2bada"/>
<rect x="95.69" y="432.90" width="13.69" height="4.20" fill="#e8eef6"/>
<rect x="109.08" y="432.90" width="13.69" height="4.20" fill="#e8eef6"/>
<rect x="122.47" y="432.90" width="13.69" height="4.20" fill="#a2bada"/>
<rect x="135.87" y="432.90" width="13.69" height="4.20" fill="#e68e8e"/>
<rect x="149.26" y="432.90" width="13.69" height="4.20" fill="#7498c7"/>
<rect x="162.65" y="432.90" width="13.69" height="4.20" fill="#a2bada"/>
<rect x="176.04" y="432.90" width="13.69" height="4.20" fill="#e68e8e"/>
<rect x="189.44" y="432.90" width="13.69" height="4.20" fill="#ffffff"/>
<rect x="202.83" y="432.90" width="13.69" height="4.20" fill="#b9cbe3"/>
<rect x="216.22" y="432.90" width="13.69" height="4.20" fill="#e07575"/>
<rect x="229.62" y="432.90" width="13.69" height="4.20" fill="#db5c5c"/>
<rect x="243.01" y="432.90" width="13.69" height="4.20" fill="#e07575"/>
<rect x="256.40" y="432.90" width="13.69" height="4.20" fill="#e07575"/>
<rect x="68.90" y="436.80" width="13.69" height="4.20" fill="#d0dcec"/>
<rect x="82.29" y="436.80" width="13.69" height="4.20" fill="#ffffff"/>
<rect x="95.69" y="436.80" width="13.69" height="4.20" fill="#f2c2c2"/>
<rect x="109.08" y="436.80" width="13.69" height="4.20" fill="#a2bada"/>
<rect x="122.47" y="436.80" width="13.69" height="4.20" fill="#d54444"/>
<rect x="135.87" y="436.80" width="13.69" height="4.20" fill="#a2bada"/>
<rect x="149.26" y="436.80" width="13.69" height="4.20" fill="#a2bada"/>
<rect x="162.65" y="436.80" width="13.69" height="4.20" fill="#d0dcec"/>
<rect x="176.04" y="436.80" width="13.69" height="4.20" fill="#a2bada"/>
<rect x="189.44" y="436.80" width="13.69" height="4.20" fill="#f2c2c2"/>
<rect x="202.83" y="436.80" width="13.69" height="4.20" fill="#ffffff"/>
<rect x="216.22" y="436.80" width="13.69" height="4.20" fill="#f2c2c2"/>
<rect x="229.62" y="436.80" width="13.69" height="4.20" fill="#d02c2c"/>
<rect x="243.01" y="436.80" width="13.69" height="4.20" fill="#a2bada"/>
<rect x="256.40" y="436.80" width="13.69" height="4.20" fill="#f8dfdf"/>
<rect x="68.90" y="440.70" width="13.69" height="4.20" fill="#d0dcec"/>
<rect x="82.29" y="440.70" width="13.69" height="4.20" fill="#e8eef6"/>
<rect x="95.69" y="440.70" width="13.69" height="4.20" fill="#f2c2c2"/>
<rect x="109.08" y="440.70" width="13.69" height="4.20" fill="#ffffff"/>
<rect x="122.47" y="440.70" width="13.69" height="4.20" fill="#a2bada"/>
<rect x="135.87" y="440.70" width="13.69" height="4.20" fill="#f2c2c2"/>
<rect x="149.26" y="440.70" width="13.69" height="4.20" fill="#a2bada"/>
<rect x="162.65" y="440.70" width="13.69" height="4.20" fill="#e8eef6"/>
<rect x="176.04" y="440.70" width="13.69" height="4.20" fill="#d0dcec"/>
<rect x="189.44" y="440.70" width="13.69" height="4.20" fill="#a2bada"/>
<rect x="202.83" y="440.70" width="13.69" height="4.20" fill="#a2bada"/>
<rect x="216.22" y="440.70" width="13.69" height="4.20" fill="#f8dfdf"/>
<rect x="229.62" y="440.70" width="13.69" height="4.20" fill="#d02c2c"/>
<rect x="243.01" y="440.70" width="13.69" height="4.20" fill="#f8dfdf"/>
<rect x="256.40" y="440.70" width="13.69" height="4.20" fill="#e07575"/>
<rect x="68.90" y="444.60" width="13.69" height="4.20" fill="#d0dcec"/>
<rect x="82.29" y="444.60" width="13.69" height="4.20" fill="#f2c2c2"/>
<rect x="95.69" y="444.60" width="13.69" height="4.20" fill="#e07575"/>
<rect x="109.08" y="444.60" width="13.69" height="4.20" fill="#d0dcec"/>
<rect x="122.47" y="444.60" width="13.69" height="4.20" fill="#a2bada"/>
<rect x="135.87" y="444.60" width="13.69" height="4.20" fill="#f2c2c2"/>
<rect x="149.26" y="444.60" width="13.69" height="4.20" fill="#a2bada"/>
<rect x="162.65" y="444.60" width="13.69" height="4.20" fill="#ffffff"/>
<rect x="176.04" y="444.60" width="13.69" height="4.20" fill="#b9cbe3"/>
<rect x="189.44" y="444.60" width="13.69" height="4.20" fill="#a2bada"/>
<rect x="202.83" y="444.60" width="13.69" height="4.20" fill="#a2bada"/>
<rect x="216.22" y="444.60" width="13.69" height="4.20" fill="#f2c2c2"/>
<rect x="229.62" y="444.60" width="13.69" height="4.20" fill="#d02c2c"/>
<rect x="243.01" y="444.60" width="13.69" height="4.20" fill="#d0dcec"/>
<rect x="256.40" y="444.60" width="13.69" height="4.20" fill="#eca8a8"/>
<rect x="68.90" y="448.50" width="13.69" height="4.20" fill="#a2bada"/>
<rect x="82.29" y="448.50" width="13.69" height="4.20" fill="#8ba9d0"/>
<rect x="95.69" y="448.50" width="13.69" height="4.20" fill="#e8eef6"/>
<rect x="109.08" y="448.50" width="13.69" height="4.20" fill="#e8eef6"/>
<rect x="122.47" y="448.50" width="13.69" height="4.20" fill="#b9cbe3"/>
<rect x="135.87" y="448.50" width="13.69" height="4.20" fill="#ffffff"/>
<rect x="149.26" y="448.50" width="13.69" height="4.20" fill="#ffffff"/>
<rect x="162.65" y="448.50" width="13.69" height="4.20" fill="#b9cbe3"/>
<rect x="176.04" y="448.50" width="13.69" height="4.20" fill="#7498c7"/>
<rect x="189.44" y="448.50" width="13.69" height="4.20" fill="#e8eef6"/>
<rect x="202.83" y="448.50" width="13.69" height="4.20" fill="#f8dfdf"/>
<rect x="216.22" y="448.50" width="13.69" height="4.20" fill="#d02c2c"/>
<rect x="229.62" y="448.50" width="13.69" height="4.20" fill="#db5c5c"/>
<rect x="243.01" y="448.50" width="13.69" height="4.20" fill="#f8dfdf"/>
<rect x="256.40" y="448.50" width="13.69" height="4.20" fill="#e07575"/>
<rect x="68.90" y="452.40" width="13.69" height="4.20" fill="#d0dcec"/>
<rect x="82.29" y="452.40" width="13.69" height="4.20" fill="#b9cbe3"/>
<rect x="95.69" y="452.40" width="13.69" height="4.20" fill="#d0dcec"/>
<rect x="109.08" y="452.40" width="13.69" height="4.20" fill="#f8dfdf"/>
<rect x="122.47" y="452.40" width="13.69" height="4.20" fill="#ffffff"/>
<rect x="135.87" y="452.40" width="13.69" height="4.20" fill="#b9cbe3"/>
<rect x="149.26" y="452.40" width="13.69" height="4.20" fill="#b9cbe3"/>
<rect x="162.65" y="452.40" width="13.69" height="4.20" fill="#f8dfdf"/>
<rect x="176.04" y="452.40" width="13.69" height="4.20" fill="#b9cbe3"/>
<rect x="189.44" y="452.40" width="13.69" height="4.20" fill="#b9cbe3"/>
<rect x="202.83" y="452.40" width="13.69" height="4.20" fill="#b9cbe3"/>
<rect x="216.22" y="452.40" width="13.69" height="4.20" fill="#e68e8e"/>
<rect x="229.62" y="452.40" width="13.69" height="4.20" fill="#d02c2c"/>
<rect x="243.01" y="452.40" width="13.69" height="4.20" fill="#d0dcec"/>
<rect x="256.40" y="452.40" width="13.69" height="4.20" fill="#d02c2c"/>
<rect x="68.90" y="456.30" width="13.69" height="4.20" fill="#b9cbe3"/>
<rect x="82.29" y="456.30" width="13.69" height="4.20" fill="#b9cbe3"/>
<rect x="95.69" y="456.30" width="13.69" height="4.20" fill="#d0dcec"/>
<rect x="109.08" y="456.30" width="13.69" height="4.20" fill="#b9cbe3"/>
<rect x="122.47" y="456.30" width="13.69" height="4.20" fill="#b9cbe3"/>
<rect x="135.87" y="456.30" width="13.69" height="4.20" fill="#f8dfdf"/>
<rect x="149.26" y="456.30" width="13.69" height="4.20" fill="#b9cbe3"/>
<rect x="162.65" y="456.30" width="13.69" height="4.20" fill="#ffffff"/>
<rect x="176.04" y="456.30" width="13.69" height="4.20" fill="#b9cbe3"/>
<rect x="189.44" y="456.30" width="13.69" height="4.20" fill="#b9cbe3"/>
<rect x="202.83" y="456.30" width="13.69" height="4.20" fill="#d0dcec"/>
<rect x="216.22" y="456.30" width="13.69" height="4.20" fill="#d54444"/>
<rect x="229.62" y="456.30" width="13.69" height="4.20" fill="#d02c2c"/>
<rect x="243.01" y="456.30" width="13.69" height="4.20" fill="#e68e8e"/>
<rect x="256.40" y="456.30" width="13.69" height="4.20" fill="#f8dfdf"/>
<rect x="68.90" y="460.20" width="13.69" height="4.20" fill="#b9cbe3"/>
<rect x="82.29" y="460.20" width="13.69" height="4.20" fill="#d0dcec"/>
<rect x="95.69" y="460.20" width="13.69" height="4.20" fill="#b9cbe3"/>
<rect x="109.08" y="460.20" width="13.69" height="4.20" fill="#b9cbe3"/>
<rect x="122.47" y="460.20" width="13.69" height="4.20" fill="#b9cbe3"/>
<rect x="135.87" y="460.20" width="13.69" height="4.20" fill="#f8dfdf"/>
<rect x="149.26" y="460.20" width="13.69" height="4.20" fill="#b9cbe3"/>
<rect x="162.65" y="460.20" width="13.69" height="4.20" fill="#d0dcec"/>
<rect x="176.04" y="460.20" width="13.69" height="4.20" fill="#b9cbe3"/>
<rect x="189.44" y="460.20" width="13.69" height="4.20" fill="#b9cbe3"/>
<rect x="202.83" y="460.20" width="13.69" height="4.20" fill="#b9cbe3"/>
<rect x="216.22" y="460.20" width="13.69" height="4.20" fill="#e07575"/>
<rect x="229.62" y="460.20" width="13.69" height="4.20" fill="#d02c2c"/>
<rect x="243.01" y="460.20" width="13.69" height="4.20" fill="#eca8a8"/>
<rect x="256.40" y="460.20" width="13.69" height="4.20" fill="#f8dfdf"/>
<rect x="68.90" y="464.10" width="13.69" height="4.20" fill="#b9cbe3"/>
<rect x="82.29" y="464.10" width="13.69" height="4.20" fill="#b9cbe3"/>
<rect x="95.69" y="464.10" width="13.69" height="4.20" fill="#f8dfdf"/>
<rect x="109.08" y="464.10" width="13.69" height="4.20" fill="#d0dcec"/>
<rect x="122.47" y="464.10" width="13.69" height="4.20" fill="#d0dcec"/>
<rect x="135.87" y="464.10" width="13.69" height="4.20" fill="#eca8a8"/>
<rect x="149.26" y="464.10" width="13.69" height="4.20" fill="#b9cbe3"/>
<rect x="162.65" y="464.10" width="13.69" height="4.20" fill="#d0dcec"/>
<rect x="176.04" y="464.10" width="13.69" height="4.20" fill="#b9cbe3"/>
<rect x="189.44" y="464.10" width="13.69" height="4.20" fill="#b9cbe3"/>
<rect x="202.83" y="464.10" width="13.69" height="4.20" fill="#b9cbe3"/>
<rect x="216.22" y="464.10" width="13.69" height="4.20" fill="#f2c2c2"/>
<rect x="229.62" y="464.10" width="13.69" height="4.20" fill="#d02c2c"/>
<rect x="243.01" y="464.10" width="13.69" height="4.20" fill="#eca8a8"/>
<rect x="256.40" y="464.10" width="13.69" height="4.20" fill="#f8dfdf"/>
<rect x="68.90" y="468.00" width="13.69" height="4.20" fill="#d0dcec"/>
<rect x="82.29" y="468.00" width="13.69" height="4.20" fill="#ffffff"/>
<rect x="95.69" y="468.00" width="13.69" height="4.20" fill="#f2c2c2"/>
<rect x="109.08" y="468.00" width="13.69" height="4.20" fill="#d0dcec"/>
<rect x="122.47" y="468.00" width="13.69" height="4.20" fill="#d0dcec"/>
<rect x="135.87" y="468.00" width="13.69" height="4.20" fill="#f2c2c2"/>
<rect x="149.26" y="468.00" width="13.69" height="4.20" fill="#7498c7"/>
<rect x="162.65" y="468.00" width="13.69" height="4.20" fill="#b9cbe3"/>
<rect x="176.04" y="468.00" width="13.69" height="4.20" fill="#d0dcec"/>
<rect x="189.44" y="468.00" width="13.69" height="4.20" fill="#a2bada"/>
<rect x="202.83" y="468.00" width="13.69" height="4.20" fill="#b9cbe3"/>
<rect x="216.22" y="468.00" width="13.69" height="4.20" fill="#f2c2c2"/>
<rect x="229.62" y="468.00" width="13.69" height="4.20" fill="#d02c2c"/>
<rect x="243.01" y="468.00" width="13.69" height="4.20" fill="#e68e8e"/>
<rect x="256.40" y="468.00" width="13.69" height="4.20" fill="#f8dfdf"/>
<rect x="68.90" y="471.90" width="13.69" height="4.20" fill="#b9cbe3"/>
<rect x="82.29" y="471.90" width="13.69" height="4.20" fill="#d0dcec"/>
<rect x="95.69" y="471.90" width="13.69" height="4.20" fill="#b9cbe3"/>
<rect x="109.08" y="471.90" width="13.69" height="4.20" fill="#b9cbe3"/>
<rect x="122.47" y="471.90" width="13.69" height="4.20" fill="#b9cbe3"/>
<rect x="135.87" y="471.90" width="13.69" height="4.20" fill="#f2c2c2"/>
<rect x="149.26" y="471.90" width="13.69" height="4.20" fill="#d0dcec"/>
<rect x="162.65" y="471.90" width="13.69" height="4.20" fill="#d0dcec"/>
<rect x="176.04" y="471.90" width="13.69" height="4.20" fill="#d0dcec"/>
<rect x="189.44" y="471.90" width="13.69" height="4.20" fill="#d0dcec"/>
<rect x="202.83" y="471.90" width="13.69" height="4.20" fill="#d0dcec"/>
<rect x="216.22" y="471.90" width="13.69" height="4.20" fill="#f8dfdf"/>
<rect x="229.62" y="471.90" width="13.69" height="4.20" fill="#d02c2c"/>
<rect x="243.01" y="471.90" width="13.69" height="4.20" fill="#db5c5c"/>
<rect x="256.40" y="471.90" width="13.69" height="4.20" fill="#ffffff"/>
<rect x="68.90" y="475.80" width="13.69" height="4.20" fill="#d0dcec"/>
<rect x="82.29" y="475.80" width="13.69" height="4.20" fill="#e8eef6"/>
<rect x="95.69" y="475.80" width="13.69" height="4.20" fill="#d0dcec"/>
<rect x="109.08" y="475.80" width="13.69" height="4.20" fill="#d0dcec"/>
<rect x="122.47" y="475.80" width="13.69" height="4.20" fill="#d0dcec"/>
<rect x="135.87" y="475.80" width="13.69" height="4.20" fill="#ffffff"/>
<rect x="149.26" y="475.80" width="13.69" height="4.20" fill="#d0dcec"/>
<rect x="162.65" y="475.80" width="13.69" height="4.20" fill="#d0dcec"/>
<rect x="176.04" y="475.80" width="13.69" height="4.20" fill="#d0dcec"/>
<rect x="189.44" y="475.80" width="13.69" height="4.20" fill="#d0dcec"/>
<rect x="202.83" y="475.80" width="13.69" height="4.20" fill="#d0dcec"/>
<rect x="216.22" y="475.80" width="13.69" height="4.20" fill="#f2c2c2"/>
<rect x="229.62" y="475.80" width="13.69" height="4.20" fill="#d02c2c"/>
<rect x="243.01" y="475.80" width="13.69" height="4.20" fill="#eca8a8"/>
<rect x="256.40" y="475.80" width="13.69" height="4.20" fill="#e8eef6"/>
<rect x="68.90" y="479.70" width="13.69" height="4.20" fill="#b9cbe3"/>
<rect x="82.29" y="479.70" width="13.69" height="4.20" fill="#d0dcec"/>
<rect x="95.69" y="479.70" width="13.69" height="4.20" fill="#e8eef6"/>
<rect x="109.08" y="479.70" width="13.69" height="4.20" fill="#d0dcec"/>
<rect x="122.47" y="479.70" width="13.69" height="4.20" fill="#d0dcec"/>
<rect x="135.87" y="479.70" width="13.69" height="4.20" fill="#ffffff"/>
<rect x="149.26" y="479.70" width="13.69" height="4.20" fill="#b9cbe3"/>
<rect x="162.65" y="479.70" width="13.69" height="4.20" fill="#d0dcec"/>
<rect x="176.04" y="479.70" width="13.69" height="4.20" fill="#e8eef6"/>
<rect x="189.44" y="479.70" width="13.69" height="4.20" fill="#d0dcec"/>
<rect x="202.83" y="479.70" width="13.69" height="4.20" fill="#b9cbe3"/>
<rect x="216.22" y="479.70" width="13.69" height="4.20" fill="#eca8a8"/>
<rect x="229.62" y="479.70" width="13.69" height="4.20" fill="#d02c2c"/>
<rect x="243.01" y="479.70" width="13.69" height="4.20" fill="#e07575"/>
<rect x="256.40" y="479.70" width="13.69" height="4.20" fill="#ffffff"/>
<rect x="68.90" y="483.60" width="13.69" height="4.20" fill="#b9cbe3"/>
<rect x="82.29" y="483.60" width="13.69" height="4.20" fill="#d0dcec"/>
<rect x="95.69" y="483.60" width="13.69" height="4.20" fill="#ffffff"/>
<rect x="109.08" y="483.60" width="13.69" height="4.20" fill="#e8eef6"/>
<rect x="122.47" y="483.60" width="13.69" height="4.20" fill="#d0dcec"/>
<rect x="135.87" y="483.60" width="13.69" height="4.20" fill="#ffffff"/>
<rect x="149.26" y="483.60" width="13.69" height="4.20" fill="#b9cbe3"/>
<rect x="162.65" y="483.60" width="13.69" height="4.20" fill="#e8eef6"/>
<rect x="176.04" y="483.60" width="13.69" height="4.20" fill="#b9cbe3"/>
<rect x="189.44" y="483.60" width="13.69" height="4.20" fill="#d0dcec"/>
<rect x="202.83" y="483.60" width="13.69" height="4.20" fill="#a2bada"/>
<rect x="216.22" y="483.60" width="13.69" height="4.20" fill="#eca8a8"/>
<rect x="229.62" y="483.60" width="13.69" height="4.20" fill="#d02c2c"/>
<rect x="243.01" y="483.60" width="13.69" height="4.20" fill="#eca8a8"/>
<rect x="256.40" y="483.60" width="13.69" height="4.20" fill="#f8dfdf"/>
<rect x="68.90" y="487.50" width="13.69" height="4.20" fill="#f8dfdf"/>
<rect x="82.29" y="487.50" width="13.69" height="4.20" fill="#d0dcec"/>
<rect x="95.69" y="487.50" width="13.69" height="4.20" fill="#d0dcec"/>
<rect x="109.08" y="487.50" width="13.69" height="4.20" fill="#e8eef6"/>
<rect x="122.47" y="487.50" width="13.69" height="4.20" fill="#b9cbe3"/>
<rect x="135.87" y="487.50" width="13.69" height="4.20" fill="#d02c2c"/>
<rect x="149.26" y="487.50" width="13.69" height="4.20" fill="#8ba9d0"/>
<rect x="162.65" y="487.50" width="13.69" height="4.20" fill="#ffffff"/>
<rect x="176.04" y="487.50" width="13.69" height="4.20" fill="#ffffff"/>
<rect x="189.44" y="487.50" width="13.69" height="4.20" fill="#d0dcec"/>
<rect x="202.83" y="487.50" width="13.69" height="4.20" fill="#ffffff"/>
<rect x="216.22" y="487.50" width="13.69" height="4.20" fill="#ffffff"/>
<rect x="229.62" y="487.50" width="13.69" height="4.20" fill="#d02c2c"/>
<rect x="243.01" y="487.50" width="13.69" height="4.20" fill="#a2bada"/>
<rect x="256.40" y="487.50" width="13.69" height="4.20" fill="#e8eef6"/>
<rect x="68.90" y="491.40" width="13.69" height="4.20" fill="#a2bada"/>
<rect x="82.29" y="491.40" width="13.69" height="4.20" fill="#b9cbe3"/>
<rect x="95.69" y="491.40" width="13.69" height="4.20" fill="#e8eef6"/>
<rect x="109.08" y="491.40" width="13.69" height="4.20" fill="#b9cbe3"/>
<rect x="122.47" y="491.40" width="13.69" height="4.20" fill="#b9cbe3"/>
<rect x="135.87" y="491.40" width="13.69" height="4.20" fill="#e07575"/>
<rect x="149.26" y="491.40" width="13.69" height="4.20" fill="#e8eef6"/>
<rect x="162.65" y="491.40" width="13.69" height="4.20" fill="#e8eef6"/>
<rect x="176.04" y="491.40" width="13.69" height="4.20" fill="#ffffff"/>
<rect x="189.44" y="491.40" width="13.69" height="4.20" fill="#ffffff"/>
<rect x="202.83" y="491.40" width="13.69" height="4.20" fill="#b9cbe3"/>
<rect x="216.22" y="491.40" width="13.69" height="4.20" fill="#f2c2c2"/>
<rect x="229.62" y="491.40" width="13.69" height="4.20" fill="#d02c2c"/>
<rect x="243.01" y="491.40" width="13.69" height="4.20" fill="#f8dfdf"/>
<rect x="256.40" y="491.40" width="13.69" height="4.20" fill="#d0dcec"/>
<rect x="68.90" y="495.30" width="13.69" height="4.20" fill="#8ba9d0"/>
<rect x="82.29" y="495.30" width="13.69" height="4.20" fill="#a2bada"/>
<rect x="95.69" y="495.30" width="13.69" height="4.20" fill="#a2bada"/>
<rect x="109.08" y="495.30" width="13.69" height="4.20" fill="#d0dcec"/>
<rect x="122.47" y="495.30" width="13.69" height="4.20" fill="#b9cbe3"/>
<rect x="135.87" y="495.30" width="13.69" height="4.20" fill="#eca8a8"/>
<rect x="149.26" y="495.30" width="13.69" height="4.20" fill="#d0dcec"/>
<rect x="162.65" y="495.30" width="13.69" height="4.20" fill="#e68e8e"/>
<rect x="176.04" y="495.30" width="13.69" height="4.20" fill="#e8eef6"/>
<rect x="189.44" y="495.30" width="13.69" height="4.20" fill="#f8dfdf"/>
<rect x="202.83" y="495.30" width="13.69" height="4.20" fill="#e8eef6"/>
<rect x="216.22" y="495.30" width="13.69" height="4.20" fill="#d02c2c"/>
<rect x="229.62" y="495.30" width="13.69" height="4.20" fill="#d02c2c"/>
<rect x="243.01" y="495.30" width="13.69" height="4.20" fill="#f8dfdf"/>
<rect x="256.40" y="495.30" width="13.69" height="4.20" fill="#e8eef6"/>
<rect x="68.90" y="499.20" width="13.69" height="4.20" fill="#d0dcec"/>
<rect x="82.29" y="499.20" width="13.69" height="4.20" fill="#e8eef6"/>
<rect x="95.69" y="499.20" width="13.69" height="4.20" fill="#b9cbe3"/>
<rect x="109.08" y="499.20" width="13.69" height="4.20" fill="#d0dcec"/>
<rect x="122.47" y="499.20" width="13.69" height="4.20" fill="#d0dcec"/>
<rect x="135.87" y="499.20" width="13.69" height="4.20" fill="#e68e8e"/>
<rect x="149.26" y="499.20" width="13.69" height="4.20" fill="#b9cbe3"/>
<rect x="162.65" y="499.20" width="13.69" height="4.20" fill="#e8eef6"/>
<rect x="176.04" y="499.20" width="13.69" height="4.20" fill="#d0dcec"/>
<rect x="189.44" y="499.20" width="13.69" height="4.20" fill="#b9cbe3"/>
<rect x="202.83" y="499.20" width="13.69" height="4.20" fill="#a2bada"/>
<rect x="216.22" y="499.20" width="13.69" height="4.20" fill="#e07575"/>
<rect x="229.62" y="499.20" width="13.69" height="4.20" fill="#d02c2c"/>
<rect x="243.01" y="499.20" width="13.69" height="4.20" fill="#e8eef6"/>
<rect x="256.40" y="499.20" width="13.69" height="4.20" fill="#f2c2c2"/>
<rect x="68.90" y="503.10" width="13.69" height="4.20" fill="#d0dcec"/>
<rect x="82.29" y="503.10" width="13.69" height="4.20" fill="#b9cbe3"/>
<rect x="95.69" y="503.10" width="13.69" height="4.20" fill="#7498c7"/>
<rect x="109.08" y="503.10" width="13.69" height="4.20" fill="#ffffff"/>
<rect x="122.47" y="503.10" width="13.69" height="4.20" fill="#d0dcec"/>
<rect x="135.87" y="503.10" width="13.69" height="4.20" fill="#eca8a8"/>
<rect x="149.26" y="503.10" width="13.69" height="4.20" fill="#d0dcec"/>
<rect x="162.65" y="503.10" width="13.69" height="4.20" fill="#e8eef6"/>
<rect x="176.04" y="503.10" width="13.69" height="4.20" fill="#d0dcec"/>
<rect x="189.44" y="503.10" width="13.69" height="4.20" fill="#e8eef6"/>
<rect x="202.83" y="503.10" width="13.69" height="4.20" fill="#d0dcec"/>
<rect x="216.22" y="503.10" width="13.69" height="4.20" fill="#eca8a8"/>
<rect x="229.62" y="503.10" width="13.69" height="4.20" fill="#d02c2c"/>
<rect x="243.01" y="503.10" width="13.69" height="4.20" fill="#f8dfdf"/>
<rect x="256.40" y="503.10" width="13.69" height="4.20" fill="#b9cbe3"/>
<rect x="68.90" y="507.00" width="13.69" height="4.20" fill="#ffffff"/>
<rect x="82.29" y="507.00" width="13.69" height="4.20" fill="#b9cbe3"/>
<rect x="95.69" y="507.00" width="13.69" height="4.20" fill="#e07575"/>
<rect x="109.08" y="507.00" width="13.69" height="4.20" fill="#b9cbe3"/>
<rect x="122.47" y="507.00" width="13.69" height="4.20" fill="#b9cbe3"/>
<rect x="135.87" y="507.00" width="13.69" height="4.20" fill="#ffffff"/>
<rect x="149.26" y="507.00" width="13.69" height="4.20" fill="#d0dcec"/>
<rect x="162.65" y="507.00" width="13.69" height="4.20" fill="#d0dcec"/>
<rect x="176.04" y="507.00" width="13.69" height="4.20" fill="#eca8a8"/>
<rect x="189.44" y="507.00" width="13.69" height="4.20" fill="#b9cbe3"/>
<rect x="202.83" y="507.00" width="13.69" height="4.20" fill="#d0dcec"/>
<rect x="216.22" y="507.00" width="13.69" height="4.20" fill="#d0dcec"/>
<rect x="229.62" y="507.00" width="13.69" height="4.20" fill="#d02c2c"/>
<rect x="243.01" y="507.00" width="13.69" height="4.20" fill="#f8dfdf"/>
<rect x="256.40" y="507.00" width="13.69" height="4.20" fill="#e8eef6"/>
<rect x="68.90" y="510.90" width="13.69" height="4.20" fill="#b9cbe3"/>
<rect x="82.29" y="510.90" width="13.69" height="4.20" fill="#f2c2c2"/>
<rect x="95.69" y="510.90" width="13.69" height="4.20" fill="#e68e8e"/>
<rect x="109.08" y="510.90" width="13.69" height="4.20" fill="#d0dcec"/>
<rect x="122.47" y="510.90" width="13.69" height="4.20" fill="#e8eef6"/>
<rect x="135.87" y="510.90" width="13.69" height="4.20" fill="#e8eef6"/>
<rect x="149.26" y="510.90" width="13.69" height="4.20" fill="#8ba9d0"/>
<rect x="162.65" y="510.90" width="13.69" height="4.20" fill="#b9cbe3"/>
<rect x="176.04" y="510.90" width="13.69" height="4.20" fill="#eca8a8"/>
<rect x="189.44" y="510.90" width="13.69" height="4.20" fill="#b9cbe3"/>
<rect x="202.83" y="510.90" width="13.69" height="4.20" fill="#a2bada"/>
<rect x="216.22" y="510.90" width="13.69" height="4.20" fill="#e8eef6"/>
<rect x="229.62" y="510.90" width="13.69" height="4.20" fill="#d02c2c"/>
<rect x="243.01" y="510.90" width="13.69" height="4.20" fill="#e07575"/>
<rect x="256.40" y="510.90" width="13.69" height="4.20" fill="#f8dfdf"/>
<rect x="68.90" y="514.80" width="13.69" height="4.20" fill="#a2bada"/>
<rect x="82.29" y="514.80" width="13.69" height="4.20" fill="#d0dcec"/>
<rect x="95.69" y="514.80" width="13.69" height="4.20" fill="#e68e8e"/>
<rect x="109.08" y="514.80" width="13.69" height="4.20" fill="#ffffff"/>
<rect x="122.47" y="514.80" width="13.69" height="4.20" fill="#8ba9d0"/>
<rect x="135.87" y="514.80" width="13.69" height="4.20" fill="#e8eef6"/>
<rect x="149.26" y="514.80" width="13.69" height="4.20" fill="#d0dcec"/>
<rect x="162.65" y="514.80" width="13.69" height="4.20" fill="#a2bada"/>
<rect x="176.04" y="514.80" width="13.69" height="4.20" fill="#eca8a8"/>
<rect x="189.44" y="514.80" width="13.69" height="4.20" fill="#ffffff"/>
<rect x="202.83" y="514.80" width="13.69" height="4.20" fill="#a2bada"/>
<rect x="216.22" y="514.80" width="13.69" height="4.20" fill="#f2c2c2"/>
<rect x="229.62" y="514.80" width="13.69" height="4.20" fill="#d02c2c"/>
<rect x="243.01" y="514.80" width="13.69" height="4.20" fill="#db5c5c"/>
<rect x="256.40" y="514.80" width="13.69" height="4.20" fill="#d0dcec"/>
<rect x="68.90" y="518.70" width="13.69" height="4.20" fill="#b9cbe3"/>
<rect x="82.29" y="518.70" width="13.69" height="4.20" fill="#ffffff"/>
<rect x="95.69" y="518.70" width="13.69" height="4.20" fill="#e8eef6"/>
<rect x="109.08" y="518.70" width="13.69" height="4.20" fill="#f8dfdf"/>
<rect x="122.47" y="518.70" width="13.69" height="4.20" fill="#d0dcec"/>
<rect x="135.87" y="518.70" width="13.69" height="4.20" fill="#e07575"/>
<rect x="149.26" y="518.70" width="13.69" height="4.20" fill="#5c86bd"/>
<rect x="162.65" y="518.70" width="13.69" height="4.20" fill="#a2bada"/>
<rect x="176.04" y="518.70" width="13.69" height="4.20" fill="#d02c2c"/>
<rect x="189.44" y="518.70" width="13.69" height="4.20" fill="#ffffff"/>
<rect x="202.83" y="518.70" width="13.69" height="4.20" fill="#e8eef6"/>
<rect x="216.22" y="518.70" width="13.69" height="4.20" fill="#f8dfdf"/>
<rect x="229.62" y="518.70" width="13.69" height="4.20" fill="#f8dfdf"/>
<rect x="243.01" y="518.70" width="13.69" height="4.20" fill="#db5c5c"/>
<rect x="256.40" y="518.70" width="13.69" height="4.20" fill="#d0dcec"/>
<rect x="68.90" y="522.60" width="13.69" height="4.20" fill="#7498c7"/>
<rect x="82.29" y="522.60" width="13.69" height="4.20" fill="#e68e8e"/>
<rect x="95.69" y="522.60" width="13.69" height="4.20" fill="#f2c2c2"/>
<rect x="109.08" y="522.60" width="13.69" height="4.20" fill="#f2c2c2"/>
<rect x="122.47" y="522.60" width="13.69" height="4.20" fill="#f8dfdf"/>
<rect x="135.87" y="522.60" width="13.69" height="4.20" fill="#eca8a8"/>
<rect x="149.26" y="522.60" width="13.69" height="4.20" fill="#8ba9d0"/>
<rect x="162.65" y="522.60" width="13.69" height="4.20" fill="#a2bada"/>
<rect x="176.04" y="522.60" width="13.69" height="4.20" fill="#eca8a8"/>
<rect x="189.44" y="522.60" width="13.69" height="4.20" fill="#a2bada"/>
<rect x="202.83" y="522.60" width="13.69" height="4.20" fill="#a2bada"/>
<rect x="216.22" y="522.60" width="13.69" height="4.20" fill="#f2c2c2"/>
<rect x="229.62" y="522.60" width="13.69" height="4.20" fill="#e07575"/>
<rect x="243.01" y="522.60" width="13.69" height="4.20" fill="#db5c5c"/>
<rect x="256.40" y="522.60" width="13.69" height="4.20" fill="#e8eef6"/>
<rect x="68.90" y="526.50" width="13.69" height="4.20" fill="#f2c2c2"/>
<rect x="82.29" y="526.50" width="13.69" height="4.20" fill="#e68e8e"/>
<rect x="95.69" y="526.50" width="13.69" height="4.20" fill="#d02c2c"/>
<rect x="109.08" y="526.50" width="13.69" height="4.20" fill="#eca8a8"/>
<rect x="122.47" y="526.50" width="13.69" height="4.20" fill="#b9cbe3"/>
<rect x="135.87" y="526.50" width="13.69" height="4.20" fill="#d0dcec"/>
<rect x="149.26" y="526.50" width="13.69" height="4.20" fill="#d0dcec"/>
<rect x="162.65" y="526.50" width="13.69" height="4.20" fill="#ffffff"/>
<rect x="176.04" y="526.50" width="13.69" height="4.20" fill="#d0dcec"/>
<rect x="189.44" y="526.50" width="13.69" height="4.20" fill="#b9cbe3"/>
<rect x="202.83" y="526.50" width="13.69" height="4.20" fill="#b9cbe3"/>
<rect x="216.22" y="526.50" width="13.69" height="4.20" fill="#b9cbe3"/>
<rect x="229.62" y="526.50" width="13.69" height="4.20" fill="#b9cbe3"/>
<rect x="243.01" y="526.50" width="13.69" height="4.20" fill="#db5c5c"/>
<rect x="256.40" y="526.50" width="13.69" height="4.20" fill="#ffffff"/>
<rect x="68.90" y="530.40" width="13.69" height="4.20" fill="#d0dcec"/>
<rect x="82.29" y="530.40" width="13.69" height="4.20" fill="#db5c5c"/>
<rect x="95.69" y="530.40" width="13.69" height="4.20" fill="#eca8a8"/>
<rect x="109.08" y="530.40" width="13.69" height="4.20" fill="#d02c2c"/>
<rect x="122.47" y="530.40" width="13.69" height="4.20" fill="#eca8a8"/>
<rect x="135.87" y="530.40" width="13.69" height="4.20" fill="#f2c2c2"/>
<rect x="149.26" y="530.40" width="13.69" height="4.20" fill="#8ba9d0"/>
<rect x="162.65" y="530.40" width="13.69" height="4.20" fill="#b9cbe3"/>
<rect x="176.04" y="530.40" width="13.69" height="4.20" fill="#eca8a8"/>
<rect x="189.44" y="530.40" width="13.69" height="4.20" fill="#b9cbe3"/>
<rect x="202.83" y="530.40" width="13.69" height="4.20" fill="#e8eef6"/>
<rect x="216.22" y="530.40" width="13.69" height="4.20" fill="#b9cbe3"/>
<rect x="229.62" y="530.40" width="13.69" height="4.20" fill="#b9cbe3"/>
<rect x="243.01" y="530.40" width="13.69" height="4.20" fill="#f2c2c2"/>
<rect x="256.40" y="530.40" width="13.69" height="4.20" fill="#8ba9d0"/>
<rect x="68.90" y="534.30" width="13.69" height="4.20" fill="#d0dcec"/>
<rect x="82.29" y="534.30" width="13.69" height="4.20" fill="#d0dcec"/>
<rect x="95.69" y="534.30" width="13.69" height="4.20" fill="#e8eef6"/>
<rect x="109.08" y="534.30" width="13.69" height="4.20" fill="#d0dcec"/>
<rect x="122.47" y="534.30" width="13.69" height="4.20" fill="#d0dcec"/>
<rect x="135.87" y="534.30" width="13.69" height="4.20" fill="#d02c2c"/>
<rect x="149.26" y="534.30" width="13.69" height="4.20" fill="#f8dfdf"/>
<rect x="162.65" y="534.30" width="13.69" height="4.20" fill="#d0dcec"/>
<rect x="176.04" y="534.30" width="13.69" height="4.20" fill="#eca8a8"/>
<rect x="189.44" y="534.30" width="13.69" height="4.20" fill="#eca8a8"/>
<rect x="202.83" y="534.30" width="13.69" height="4.20" fill="#f2c2c2"/>
<rect x="216.22" y="534.30" width="13.69" height="4.20" fill="#d0dcec"/>
<rect x="229.62" y="534.30" width="13.69" height="4.20" fill="#d0dcec"/>
<rect x="243.01" y="534.30" width="13.69" height="4.20" fill="#d0dcec"/>
<rect x="256.40" y="534.30" width="13.69" height="4.20" fill="#d0dcec"/>
<rect x="68.90" y="538.20" width="13.69" height="4.20" fill="#f8dfdf"/>
<rect x="82.29" y="538.20" width="13.69" height="4.20" fill="#d0dcec"/>
<rect x="95.69" y="538.20" width="13.69" height="4.20" fill="#f8dfdf"/>
<rect x="109.08" y="538.20" width="13.69" height="4.20" fill="#d0dcec"/>
<rect x="122.47" y="538.20" width="13.69" height="4.20" fill="#ffffff"/>
<rect x="135.87" y="538.20" width="13.69" height="4.20" fill="#d02c2c"/>
<rect x="149.26" y="538.20" width="13.69" height="4.20" fill="#b9cbe3"/>
<rect x="162.65" y="538.20" width="13.69" height="4.20" fill="#ffffff"/>
<rect x="176.04" y="538.20" width="13.69" height="4.20" fill="#d0dcec"/>
<rect x="189.44" y="538.20" width="13.69" height="4.20" fill="#b9cbe3"/>
<rect x="202.83" y="538.20" width="13.69" height="4.20" fill="#d0dcec"/>
<rect x="216.22" y="538.20" width="13.69" height="4.20" fill="#d0dcec"/>
<rect x="229.62" y="538.20" width="13.69" height="4.20" fill="#f8dfdf"/>
<rect x="243.01" y="538.20" width="13.69" height="4.20" fill="#eca8a8"/>
<rect x="256.40" y="538.20" width="13.69" height="4.20" fill="#d0dcec"/>
<rect x="68.90" y="542.10" width="13.69" height="4.20" fill="#7498c7"/>
<rect x="82.29" y="542.10" width="13.69" height="4.20" fill="#ffffff"/>
<rect x="95.69" y="542.10" width="13.69" height="4.20" fill="#d02c2c"/>
<rect x="109.08" y="542.10" width="13.69" height="4.20" fill="#a2bada"/>
<rect x="122.47" y="542.10" width="13.69" height="4.20" fill="#7498c7"/>
<rect x="135.87" y="542.10" width="13.69" height="4.20" fill="#ffffff"/>
<rect x="149.26" y="542.10" width="13.69" height="4.20" fill="#ffffff"/>
<rect x="162.65" y="542.10" width="13.69" height="4.20" fill="#e8eef6"/>
<rect x="176.04" y="542.10" width="13.69" height="4.20" fill="#d0dcec"/>
<rect x="189.44" y="542.10" width="13.69" height="4.20" fill="#e68e8e"/>
<rect x="202.83" y="542.10" width="13.69" height="4.20" fill="#e8eef6"/>
<rect x="216.22" y="542.10" width="13.69" height="4.20" fill="#db5c5c"/>
<rect x="229.62" y="542.10" width="13.69" height="4.20" fill="#e68e8e"/>
<rect x="243.01" y="542.10" width="13.69" height="4.20" fill="#f8dfdf"/>
<rect x="256.40" y="542.10" width="13.69" height="4.20" fill="#f8dfdf"/>
<rect x="68.90" y="546.00" width="13.69" height="4.20" fill="#b9cbe3"/>
<rect x="82.29" y="546.00" width="13.69" height="4.20" fill="#a2bada"/>
<rect x="95.69" y="546.00" width="13.69" height="4.20" fill="#d02c2c"/>
<rect x="109.08" y="546.00" width="13.69" height="4.20" fill="#ffffff"/>
<rect x="122.47" y="546.00" width="13.69" height="4.20" fill="#8ba9d0"/>
<rect x="135.87" y="546.00" width="13.69" height="4.20" fill="#ffffff"/>
<rect x="149.26" y="546.00" width="13.69" height="4.20" fill="#eca8a8"/>
<rect x="162.65" y="546.00" width="13.69" height="4.20" fill="#a2bada"/>
<rect x="176.04" y="546.00" width="13.69" height="4.20" fill="#eca8a8"/>
<rect x="189.44" y="546.00" width="13.69" height="4.20" fill="#db5c5c"/>
<rect x="202.83" y="546.00" width="13.69" height="4.20" fill="#ffffff"/>
<rect x="216.22" y="546.00" width="13.69" height="4.20" fill="#d0dcec"/>
<rect x="229.62" y="546.00" width="13.69" height="4.20" fill="#7498c7"/>
<rect x="243.01" y="546.00" width="13.69" height="4.20" fill="#e07575"/>
<rect x="256.40" y="546.00" width="13.69" height="4.20" fill="#f8dfdf"/>
<rect x="68.90" y="549.90" width="13.69" height="4.20" fill="#d0dcec"/>
<rect x="82.29" y="549.90" width="13.69" height="4.20" fill="#e07575"/>
<rect x="95.69" y="549.90" width="13.69" height="4.20" fill="#d0dcec"/>
<rect x="109.08" y="549.90" width="13.69" height="4.20" fill="#ffffff"/>
<rect x="122.47" y="549.90" width="13.69" height="4.20" fill="#8ba9d0"/>
<rect x="135.87" y="549.90" width="13.69" height="4.20" fill="#e8eef6"/>
<rect x="149.26" y="549.90" width="13.69" height="4.20" fill="#eca8a8"/>
<rect x="162.65" y="549.90" width="13.69" height="4.20" fill="#e8eef6"/>
<rect x="176.04" y="549.90" width="13.69" height="4.20" fill="#d0dcec"/>
<rect x="189.44" y="549.90" width="13.69" height="4.20" fill="#d0dcec"/>
<rect x="202.83" y="549.90" width="13.69" height="4.20" fill="#8ba9d0"/>
<rect x="216.22" y="549.90" width="13.69" height="4.20" fill="#f2c2c2"/>
<rect x="229.62" y="549.90" width="13.69" height="4.20" fill="#d02c2c"/>
<rect x="243.01" y="549.90" width="13.69" height="4.20" fill="#b9cbe3"/>
<rect x="256.40" y="549.90" width="13.69" height="4.20" fill="#e68e8e"/>
<rect x="68.90" y="553.80" width="13.69" height="4.20" fill="#ffffff"/>
<rect x="82.29" y="553.80" width="13.69" height="4.20" fill="#e8eef6"/>
<rect x="95.69" y="553.80" width="13.69" height="4.20" fill="#f2c2c2"/>
<rect x="109.08" y="553.80" width="13.69" height="4.20" fill="#e8eef6"/>
<rect x="122.47" y="553.80" width="13.69" height="4.20" fill="#e8eef6"/>
<rect x="135.87" y="553.80" width="13.69" height="4.20" fill="#b9cbe3"/>
<rect x="149.26" y="553.80" width="13.69" height="4.20" fill="#d02c2c"/>
<rect x="162.65" y="553.80" width="13.69" height="4.20" fill="#ffffff"/>
<rect x="176.04" y="553.80" width="13.69" height="4.20" fill="#a2bada"/>
<rect x="189.44" y="553.80" width="13.69" height="4.20" fill="#8ba9d0"/>
<rect x="202.83" y="553.80" width="13.69" height="4.20" fill="#8ba9d0"/>
<rect x="216.22" y="553.80" width="13.69" height="4.20" fill="#eca8a8"/>
<rect x="229.62" y="553.80" width="13.69" height="4.20" fill="#d54444"/>
<rect x="243.01" y="553.80" width="13.69" height="4.20" fill="#b9cbe3"/>
<rect x="256.40" y="553.80" width="13.69" height="4.20" fill="#f8dfdf"/>
<rect x="68.90" y="557.70" width="13.69" height="4.20" fill="#d0dcec"/>
<rect x="82.29" y="557.70" width="13.69" height="4.20" fill="#d0dcec"/>
<rect x="95.69" y="557.70" width="13.69" height="4.20" fill="#f8dfdf"/>
<rect x="109.08" y="557.70" width="13.69" height="4.20" fill="#8ba9d0"/>
<rect x="122.47" y="557.70" width="13.69" height="4.20" fill="#8ba9d0"/>
<rect x="135.87" y="557.70" width="13.69" height="4.20" fill="#eca8a8"/>
<rect x="149.26" y="557.70" width="13.69" height="4.20" fill="#d54444"/>
<rect x="162.65" y="557.70" width="13.69" height="4.20" fill="#f8dfdf"/>
<rect x="176.04" y="557.70" width="13.69" height="4.20" fill="#e8eef6"/>
<rect x="189.44" y="557.70" width="13.69" height="4.20" fill="#8ba9d0"/>
<rect x="202.83" y="557.70" width="13.69" height="4.20" fill="#b9cbe3"/>
<rect x="216.22" y="557.70" width="13.69" height="4.20" fill="#eca8a8"/>
<rect x="229.62" y="557.70" width="13.69" height="4.20" fill="#d02c2c"/>
<rect x="243.01" y="557.70" width="13.69" height="4.20" fill="#b9cbe3"/>
<rect x="256.40" y="557.70" width="13.69" height="4.20" fill="#eca8a8"/>
<rect x="68.90" y="561.60" width="13.69" height="4.20" fill="#f8dfdf"/>
<rect x="82.29" y="561.60" width="13.69" height="4.20" fill="#d0dcec"/>
<rect x="95.69" y="561.60" width="13.69" height="4.20" fill="#e8eef6"/>
<rect x="109.08" y="561.60" width="13.69" height="4.20" fill="#e8eef6"/>
<rect x="122.47" y="561.60" width="13.69" height="4.20" fill="#a2bada"/>
<rect x="135.87" y="561.60" width="13.69" height="4.20" fill="#d0dcec"/>
<rect x="149.26" y="561.60" width="13.69" height="4.20" fill="#f2c2c2"/>
<rect x="162.65" y="561.60" width="13.69" height="4.20" fill="#f8dfdf"/>
<rect x="176.04" y="561.60" width="13.69" height="4.20" fill="#d0dcec"/>
<rect x="189.44" y="561.60" width="13.69" height="4.20" fill="#7498c7"/>
<rect x="202.83" y="561.60" width="13.69" height="4.20" fill="#e68e8e"/>
<rect x="216.22" y="561.60" width="13.69" height="4.20" fill="#a2bada"/>
<rect x="229.62" y="561.60" width="13.69" height="4.20" fill="#e07575"/>
<rect x="243.01" y="561.60" width="13.69" height="4.20" fill="#e8eef6"/>
<rect x="256.40" y="561.60" width="13.69" height="4.20" fill="#d02c2c"/>
<rect x="68.90" y="565.50" width="13.69" height="4.20" fill="#ffffff"/>
<rect x="82.29" y="565.50" width="13.69" height="4.20" fill="#a2bada"/>
<rect x="95.69" y="565.50" width="13.69" height="4.20" fill="#f8dfdf"/>
<rect x="109.08" y="565.50" width="13.69" height="4.20" fill="#d0dcec"/>
<rect x="122.47" y="565.50" width="13.69" height="4.20" fill="#a2bada"/>
<rect x="135.87" y="565.50" width="13.69" height="4.20" fill="#e8eef6"/>
<rect x="149.26" y="565.50" width="13.69" height="4.20" fill="#d02c2c"/>
<rect x="162.65" y="565.50" width="13.69" height="4.20" fill="#e8eef6"/>
<rect x="176.04" y="565.50" width="13.69" height="4.20" fill="#b9cbe3"/>
<rect x="189.44" y="565.50" width="13.69" height="4.20" fill="#a2bada"/>
<rect x="202.83" y="565.50" width="13.69" height="4.20" fill="#f2c2c2"/>
<rect x="216.22" y="565.50" width="13.69" height="4.20" fill="#f2c2c2"/>
<rect x="229.62" y="565.50" width="13.69" height="4.20" fill="#ffffff"/>
<rect x="243.01" y="565.50" width="13.69" height="4.20" fill="#ffffff"/>
<rect x="256.40" y="565.50" width="13.69" height="4.20" fill="#f2c2c2"/>
<rect x="68.90" y="569.40" width="13.69" height="4.20" fill="#a2bada"/>
<rect x="82.29" y="569.40" width="13.69" height="4.20" fill="#d0dcec"/>
<rect x="95.69" y="569.40" width="13.69" height="4.20" fill="#8ba9d0"/>
<rect x="109.08" y="569.40" width="13.69" height="4.20" fill="#d0dcec"/>
<rect x="122.47" y="569.40" width="13.69" height="4.20" fill="#d0dcec"/>
<rect x="135.87" y="569.40" width="13.69" height="4.20" fill="#d0dcec"/>
<rect x="149.26" y="569.40" width="13.69" height="4.20" fill="#d02c2c"/>
<rect x="162.65" y="569.40" width="13.69" height="4.20" fill="#f2c2c2"/>
<rect x="176.04" y="569.40" width="13.69" height="4.20" fill="#a2bada"/>
<rect x="189.44" y="569.40" width="13.69" height="4.20" fill="#e8eef6"/>
<rect x="202.83" y="569.40" width="13.69" height="4.20" fill="#e68e8e"/>
<rect x="216.22" y="569.40" width="13.69" height="4.20" fill="#e07575"/>
<rect x="229.62" y="569.40" width="13.69" height="4.20" fill="#d0dcec"/>
<rect x="243.01" y="569.40" width="13.69" height="4.20" fill="#d0dcec"/>
<rect x="256.40" y="569.40" width="13.69" height="4.20" fill="#eca8a8"/>
<rect x="68.90" y="573.30" width="13.69" height="4.20" fill="#ffffff"/>
<rect x="82.29" y="573.30" width="13.69" height="4.20" fill="#f8dfdf"/>
<rect x="95.69" y="573.30" width="13.69" height="4.20" fill="#d02c2c"/>
<rect x="109.08" y="573.30" width="13.69" height="4.20" fill="#a2bada"/>
<rect x="122.47" y="573.30" width="13.69" height="4.20" fill="#a2bada"/>
<rect x="135.87" y="573.30" width="13.69" height="4.20" fill="#f2c2c2"/>
<rect x="149.26" y="573.30" width="13.69" height="4.20" fill="#a2bada"/>
<rect x="162.65" y="573.30" width="13.69" height="4.20" fill="#f2c2c2"/>
<rect x="176.04" y="573.30" width="13.69" height="4.20" fill="#eca8a8"/>
<rect x="189.44" y="573.30" width="13.69" height="4.20" fill="#e8eef6"/>
<rect x="202.83" y="573.30" width="13.69" height="4.20" fill="#d0dcec"/>
<rect x="216.22" y="573.30" width="13.69" height="4.20" fill="#eca8a8"/>
<rect x="229.62" y="573.30" width="13.69" height="4.20" fill="#a2bada"/>
<rect x="243.01" y="573.30" width="13.69" height="4.20" fill="#a2bada"/>
<rect x="256.40" y="573.30" width="13.69" height="4.20" fill="#e68e8e"/>
<rect x="68.90" y="577.20" width="13.69" height="4.20" fill="#f8dfdf"/>
<rect x="82.29" y="577.20" width="13.69" height="4.20" fill="#f8dfdf"/>
<rect x="95.69" y="577.20" width="13.69" height="4.20" fill="#f2c2c2"/>
<rect x="109.08" y="577.20" width="13.69" height="4.20" fill="#a2bada"/>
<rect x="122.47" y="577.20" width="13.69" height="4.20" fill="#a2bada"/>
<rect x="135.87" y="577.20" width="13.69" height="4.20" fill="#b9cbe3"/>
<rect x="149.26" y="577.20" width="13.69" height="4.20" fill="#a2bada"/>
<rect x="162.65" y="577.20" width="13.69" height="4.20" fill="#f8dfdf"/>
<rect x="176.04" y="577.20" width="13.69" height="4.20" fill="#ffffff"/>
<rect x="189.44" y="577.20" width="13.69" height="4.20" fill="#b9cbe3"/>
<rect x="202.83" y="577.20" width="13.69" height="4.20" fill="#d0dcec"/>
<rect x="216.22" y="577.20" width="13.69" height="4.20" fill="#d02c2c"/>
<rect x="229.62" y="577.20" width="13.69" height="4.20" fill="#b9cbe3"/>
<rect x="243.01" y="577.20" width="13.69" height="4.20" fill="#e8eef6"/>
<rect x="256.40" y="577.20" width="13.69" height="4.20" fill="#d02c2c"/>
<rect x="68.90" y="581.10" width="13.69" height="4.20" fill="#b9cbe3"/>
<rect x="82.29" y="581.10" width="13.69" height="4.20" fill="#eca8a8"/>
<rect x="95.69" y="581.10" width="13.69" height="4.20" fill="#8ba9d0"/>
<rect x="109.08" y="581.10" width="13.69" height="4.20" fill="#d02c2c"/>
<rect x="122.47" y="581.10" width="13.69" height="4.20" fill="#f8dfdf"/>
<rect x="135.87" y="581.10" width="13.69" height="4.20" fill="#ffffff"/>
<rect x="149.26" y="581.10" width="13.69" height="4.20" fill="#8ba9d0"/>
<rect x="162.65" y="581.10" width="13.69" height="4.20" fill="#db5c5c"/>
<rect x="176.04" y="581.10" width="13.69" height="4.20" fill="#b9cbe3"/>
<rect x="189.44" y="581.10" width="13.69" height="4.20" fill="#b9cbe3"/>
<rect x="202.83" y="581.10" width="13.69" height="4.20" fill="#a2bada"/>
<rect x="216.22" y="581.10" width="13.69" height="4.20" fill="#db5c5c"/>
<rect x="229.62" y="581.10" width="13.69" height="4.20" fill="#e8eef6"/>
<rect x="243.01" y="581.10" width="13.69" height="4.20" fill="#ffffff"/>
<rect x="256.40" y="581.10" width="13.69" height="4.20" fill="#ffffff"/>
<rect x="68.90" y="585.00" width="13.69" height="4.20" fill="#f8dfdf"/>
<rect x="82.29" y="585.00" width="13.69" height="4.20" fill="#d0dcec"/>
<rect x="95.69" y="585.00" width="13.69" height="4.20" fill="#8ba9d0"/>
<rect x="109.08" y="585.00" width="13.69" height="4.20" fill="#e8eef6"/>
<rect x="122.47" y="585.00" width="13.69" height="4.20" fill="#d0dcec"/>
<rect x="135.87" y="585.00" width="13.69" height="4.20" fill="#e07575"/>
<rect x="149.26" y="585.00" width="13.69" height="4.20" fill="#a2bada"/>
<rect x="162.65" y="585.00" width="13.69" height="4.20" fill="#ffffff"/>
<rect x="176.04" y="585.00" width="13.69" height="4.20" fill="#eca8a8"/>
<rect x="189.44" y="585.00" width="13.69" height="4.20" fill="#b9cbe3"/>
<rect x="202.83" y="585.00" width="13.69" height="4.20" fill="#e8eef6"/>
<rect x="216.22" y="585.00" width="13.69" height="4.20" fill="#d02c2c"/>
<rect x="229.62" y="585.00" width="13.69" height="4.20" fill="#f8dfdf"/>
<rect x="243.01" y="585.00" width="13.69" height="4.20" fill="#8ba9d0"/>
<rect x="256.40" y="585.00" width="13.69" height="4.20" fill="#db5c5c"/>
<rect x="68.90" y="588.90" width="13.69" height="4.20" fill="#d0dcec"/>
<rect x="82.29" y="588.90" width="13.69" height="4.20" fill="#b9cbe3"/>
<rect x="95.69" y="588.90" width="13.69" height="4.20" fill="#b9cbe3"/>
<rect x="109.08" y="588.90" width="13.69" height="4.20" fill="#ffffff"/>
<rect x="122.47" y="588.90" width="13.69" height="4.20" fill="#eca8a8"/>
<rect x="135.87" y="588.90" width="13.69" height="4.20" fill="#e8eef6"/>
<rect x="149.26" y="588.90" width="13.69" height="4.20" fill="#a2bada"/>
<rect x="162.65" y="588.90" width="13.69" height="4.20" fill="#d54444"/>
<rect x="176.04" y="588.90" width="13.69" height="4.20" fill="#f2c2c2"/>
<rect x="189.44" y="588.90" width="13.69" height="4.20" fill="#b9cbe3"/>
<rect x="202.83" y="588.90" width="13.69" height="4.20" fill="#d0dcec"/>
<rect x="216.22" y="588.90" width="13.69" height="4.20" fill="#e68e8e"/>
<rect x="229.62" y="588.90" width="13.69" height="4.20" fill="#e07575"/>
<rect x="243.01" y="588.90" width="13.69" height="4.20" fill="#db5c5c"/>
<rect x="256.40" y="588.90" width="13.69" height="4.20" fill="#f2c2c2"/>
<rect x="68.90" y="410.30" width="120.54" height="4.5" fill="#D98E6E"/>
<rect x="189.44" y="410.30" width="80.36" height="4.5" fill="#4CA852"/>
<path d="M82.29 410.30v4.5" stroke="#fff" stroke-width="0.25" stroke-opacity="0.6"/>
<path d="M95.69 410.30v4.5" stroke="#fff" stroke-width="0.25" stroke-opacity="0.6"/>
<path d="M109.08 410.30v4.5" stroke="#fff" stroke-width="0.25" stroke-opacity="0.6"/>
<path d="M122.47 410.30v4.5" stroke="#fff" stroke-width="0.25" stroke-opacity="0.6"/>
<path d="M135.87 410.30v4.5" stroke="#fff" stroke-width="0.25" stroke-opacity="0.6"/>
<path d="M149.26 410.30v4.5" stroke="#fff" stroke-width="0.25" stroke-opacity="0.6"/>
<path d="M162.65 410.30v4.5" stroke="#fff" stroke-width="0.25" stroke-opacity="0.6"/>
<path d="M176.04 410.30v4.5" stroke="#fff" stroke-width="0.25" stroke-opacity="0.6"/>
<path d="M189.44 410.30v4.5" stroke="#fff" stroke-width="0.25" stroke-opacity="0.6"/>
<path d="M202.83 410.30v4.5" stroke="#fff" stroke-width="0.25" stroke-opacity="0.6"/>
<path d="M216.22 410.30v4.5" stroke="#fff" stroke-width="0.25" stroke-opacity="0.6"/>
<path d="M229.62 410.30v4.5" stroke="#fff" stroke-width="0.25" stroke-opacity="0.6"/>
<path d="M243.01 410.30v4.5" stroke="#fff" stroke-width="0.25" stroke-opacity="0.6"/>
<path d="M256.40 410.30v4.5" stroke="#fff" stroke-width="0.25" stroke-opacity="0.6"/>
<text x="272.80" y="414.50" font-size="5.2" fill="#222" transform="rotate(0.04 272.80 414.50)" stroke="#222" stroke-width="0.250">Age</text>
<text x="272.80" y="421.47" font-size="4.5" fill="#222" transform="rotate(0.04 272.80 421.47)" stroke="#222" stroke-width="0.225">OLFML3</text>
<text x="272.80" y="425.37" font-size="4.5" fill="#222" transform="rotate(0.04 272.80 425.37)" stroke="#222" stroke-width="0.225">SIGLEC1</text>
<text x="272.80" y="429.27" font-size="4.5" fill="#222" transform="rotate(0.04 272.80 429.27)" stroke="#222" stroke-width="0.225">C2</text>
<text x="272.80" y="433.17" font-size="4.5" fill="#222" transform="rotate(0.04 272.80 433.17)" stroke="#222" stroke-width="0.225">LILRB2</text>
<text x="272.80" y="437.07" font-size="4.5" fill="#222" transform="rotate(0.04 272.80 437.07)" stroke="#222" stroke-width="0.225">STAB1</text>
<text x="272.80" y="440.97" font-size="4.5" fill="#222" transform="rotate(0.04 272.80 440.97)" stroke="#222" stroke-width="0.225">DMXL2</text>
<text x="272.80" y="444.87" font-size="4.5" fill="#222" transform="rotate(0.04 272.80 444.87)" stroke="#222" stroke-width="0.225">FOLR2</text>
<text x="272.80" y="448.77" font-size="4.5" fill="#222" transform="rotate(0.04 272.80 448.77)" stroke="#222" stroke-width="0.225">S100A9</text>
<text x="272.80" y="452.67" font-size="4.5" fill="#222" transform="rotate(0.04 272.80 452.67)" stroke="#222" stroke-width="0.225">FCER1A</text>
<text x="272.80" y="456.57" font-size="4.5" fill="#222" transform="rotate(0.04 272.80 456.57)" stroke="#222" stroke-width="0.225">KCNMA1</text>
<text x="272.80" y="460.47" font-size="4.5" fill="#222" transform="rotate(0.04 272.80 460.47)" stroke="#222" stroke-width="0.225">CIITA</text>
<text x="272.80" y="464.37" font-size="4.5" fill="#222" transform="rotate(0.04 272.80 464.37)" stroke="#222" stroke-width="0.225">SLAMF8</text>
<text x="272.80" y="468.27" font-size="4.5" fill="#222" transform="rotate(0.04 272.80 468.27)" stroke="#222" stroke-width="0.225">NPL</text>
<text x="272.80" y="472.17" font-size="4.5" fill="#222" transform="rotate(0.04 272.80 472.17)" stroke="#222" stroke-width="0.225">TMIGD3</text>
<text x="272.80" y="476.07" font-size="4.5" fill="#222" transform="rotate(0.04 272.80 476.07)" stroke="#222" stroke-width="0.225">LAT2</text>
<text x="272.80" y="479.97" font-size="4.5" fill="#222" transform="rotate(0.04 272.80 479.97)" stroke="#222" stroke-width="0.225">GAPT</text>
<text x="272.80" y="483.87" font-size="4.5" fill="#222" transform="rotate(0.04 272.80 483.87)" stroke="#222" stroke-width="0.225">AOAH</text>
<text x="272.80" y="487.77" font-size="4.5" fill="#222" transform="rotate(0.04 272.80 487.77)" stroke="#222" stroke-width="0.225">MS4A4A</text>
<text x="272.80" y="491.67" font-size="4.5" fill="#222" transform="rotate(0.04 272.80 491.67)" stroke="#222" stroke-width="0.225">CX3CR1</text>
<text x="272.80" y="495.57" font-size="4.5" fill="#222" transform="rotate(0.04 272.80 495.57)" stroke="#222" stroke-width="0.225">PLD4</text>
<text x="272.80" y="499.47" font-size="4.5" fill="#222" transform="rotate(0.04 272.80 499.47)" stroke="#222" stroke-width="0.225">PHACTR1</text>
<text x="272.80" y="503.37" font-size="4.5" fill="#222" transform="rotate(0.04 272.80 503.37)" stroke="#222" stroke-width="0.225">MNDA</text>
<text x="272.80" y="507.27" font-size="4.5" fill="#222" transform="rotate(0.04 272.80 507.27)" stroke="#222" stroke-width="0.225">P2RY13</text>
<text x="272.80" y="511.17" font-size="4.5" fill="#222" transform="rotate(0.04 272.80 511.17)" stroke="#222" stroke-width="0.225">IL1B</text>
<text x="272.80" y="515.07" font-size="4.5" fill="#222" transform="rotate(0.04 272.80 515.07)" stroke="#222" stroke-width="0.225">ARHGAP24</text>
<text x="272.80" y="518.97" font-size="4.5" fill="#222" transform="rotate(0.04 272.80 518.97)" stroke="#222" stroke-width="0.225">RNASE1</text>
<text x="272.80" y="522.87" font-size="4.5" fill="#222" transform="rotate(0.04 272.80 522.87)" stroke="#222" stroke-width="0.225">MPEG1</text>
<text x="272.80" y="526.77" font-size="4.5" fill="#222" transform="rotate(0.04 272.80 526.77)" stroke="#222" stroke-width="0.225">PLA2G7</text>
<text x="272.80" y="530.67" font-size="4.5" fill="#222" transform="rotate(0.04 272.80 530.67)" stroke="#222" stroke-width="0.225">CEBPA</text>
<text x="272.80" y="534.57" font-size="4.5" fill="#222" transform="rotate(0.04 272.80 534.57)" stroke="#222" stroke-width="0.225">FCGBP</text>
<text x="272.80" y="538.47" font-size="4.5" fill="#222" transform="rotate(0.04 272.80 538.47)" stroke="#222" stroke-width="0.225">MPEG1</text>
<text x="272.80" y="542.37" font-size="4.5" fill="#222" transform="rotate(0.04 272.80 542.37)" stroke="#222" stroke-width="0.225">SPP1</text>
<text x="272.80" y="546.27" font-size="4.5" fill="#222" transform="rotate(0.04 272.80 546.27)" stroke="#222" stroke-width="0.225">OLR1</text>
<text x="272.80" y="550.17" font-size="4.5" fill="#222" transform="rotate(0.04 272.80 550.17)" stroke="#222" stroke-width="0.225">TRPM4</text>
<text x="272.80" y="554.07" font-size="4.5" fill="#222" transform="rotate(0.04 272.80 554.07)" stroke="#222" stroke-width="0.225">S100A8</text>
<text x="272.80" y="557.97" font-size="4.5" fill="#222" transform="rotate(0.04 272.80 557.97)" stroke="#222" stroke-width="0.225">GM2A</text>
<text x="272.80" y="561.87" font-size="4.5" fill="#222" transform="rotate(0.04 272.80 561.87)" stroke="#222" stroke-width="0.225">IL4I1</text>
<text x="272.80" y="565.77" font-size="4.5" fill="#222" transform="rotate(0.04 272.80 565.77)" stroke="#222" stroke-width="0.225">C15orf48</text>
<text x="272.80" y="569.67" font-size="4.5" fill="#222" transform="rotate(0.04 272.80 569.67)" stroke="#222" stroke-width="0.225">ALOX5</text>
<text x="272.80" y="573.57" font-size="4.5" fill="#222" transform="rotate(0.04 272.80 573.57)" stroke="#222" stroke-width="0.225">HLA−DQB2</text>
<text x="272.80" y="577.47" font-size="4.5" fill="#222" transform="rotate(0.04 272.80 577.47)" stroke="#222" stroke-width="0.225">B3GNT5</text>
<text x="272.80" y="581.37" font-size="4.5" fill="#222" transform="rotate(0.04 272.80 581.37)" stroke="#222" stroke-width="0.225">FPR3</text>
<text x="272.80" y="585.27" font-size="4.5" fill="#222" transform="rotate(0.04 272.80 585.27)" stroke="#222" stroke-width="0.225">MERTK</text>
<text x="272.80" y="589.17" font-size="4.5" fill="#222" transform="rotate(0.04 272.80 589.17)" stroke="#222" stroke-width="0.225">CLEC5A</text>
<text x="272.80" y="593.07" font-size="4.5" fill="#222" transform="rotate(0.04 272.80 593.07)" stroke="#222" stroke-width="0.225">HPGDS</text>
<path d="M68.40 430.95H66.43V434.85H68.40 M68.40 427.05H65.13V432.90H66.43 M68.40 423.15H63.40V429.98H65.13 M68.40 419.25H59.70V426.56H63.40 M68.40 450.45H64.70V454.35H68.40 M68.40 446.55H62.94V452.40H64.70 M68.40 442.65H60.64V449.48H62.94 M68.40 438.75H55.80V446.06H60.64 M68.40 481.65H67.42V485.55H68.40 M68.40 477.75H67.22V483.60H67.42 M68.40 473.85H66.78V480.68H67.22 M68.40 469.95H65.86V477.26H66.78 M68.40 466.05H65.17V473.61H65.86 M68.40 462.15H63.94V469.83H65.17 M68.40 458.25H62.50V465.99H63.94 M68.40 489.45H65.74V493.35H68.40 M68.40 497.25H64.54V501.15H68.40 M65.74 491.40H63.41V499.20H64.54 M63.41 495.30H59.70V505.05H68.40 M62.50 462.12H53.30V500.17H59.70 M55.80 442.41H50.50V481.15H53.30 M59.70 422.91H49.30V461.78H50.50 M68.40 508.95H64.00V512.85H68.40 M64.00 510.90H60.50V516.75H68.40 M60.50 513.83H55.40V520.65H68.40 M68.40 524.55H59.66V528.45H68.40 M59.66 526.50H54.55V532.35H68.40 M68.40 536.25H62.12V540.15H68.40 M68.40 544.05H62.50V547.95H68.40 M62.12 538.20H59.03V546.00H62.50 M54.55 529.42H49.20V542.10H59.03 M55.40 517.24H46.20V535.76H49.20 M68.40 551.85H63.47V555.75H68.40 M63.47 553.80H59.21V559.65H68.40 M68.40 563.55H58.30V567.45H68.40 M59.21 556.73H52.20V565.50H58.30 M68.40 571.35H62.34V575.25H68.40 M62.34 573.30H56.46V579.15H68.40 M68.40 583.05H63.85V586.95H68.40 M63.85 585.00H60.22V590.85H68.40 M56.46 576.23H51.30V587.92H60.22 M52.20 561.11H40.30V582.08H51.30 M46.20 526.50H25.10V571.59H40.30 M49.30 442.34H18.70V549.05H25.10" stroke="#111" stroke-width="0.85" fill="none"/>
<text x="302.10" y="427.00" font-size="5.6" fill="#111" transform="rotate(0.04 302.10 427.00)" stroke="#111" stroke-width="0.250">Age</text>
<rect x="302.1" y="430.30" width="8.3" height="6.80" fill="#4CA852"/>
<text x="312.10" y="435.60" font-size="5.6" fill="#111" transform="rotate(0.04 312.10 435.60)" stroke="#111" stroke-width="0.250">Young</text>
<rect x="302.1" y="437.00" width="8.3" height="6.70" fill="#D98E6E"/>
<text x="312.10" y="441.90" font-size="5.6" fill="#111" transform="rotate(0.04 312.10 441.90)" stroke="#111" stroke-width="0.250">Old</text>
<text x="298.70" y="461.00" font-size="5.45" fill="#111" transform="rotate(0.04 298.70 461.00)" stroke="#111" stroke-width="0.250">Expression Z-score</text>
<rect x="302.1" y="468.00" width="8.3" height="2.47" fill="#d33a3a"/>
<rect x="302.1" y="470.27" width="8.3" height="2.47" fill="#d95555"/>
<rect x="302.1" y="472.54" width="8.3" height="2.47" fill="#df7171"/>
<rect x="302.1" y="474.81" width="8.3" height="2.47" fill="#e68e8e"/>
<rect x="302.1" y="477.09" width="8.3" height="2.47" fill="#ecabab"/>
<rect x="302.1" y="479.36" width="8.3" height="2.47" fill="#f3caca"/>
<rect x="302.1" y="481.63" width="8.3" height="2.47" fill="#fbebeb"/>
<rect x="302.1" y="483.90" width="8.3" height="2.47" fill="#f2f5fa"/>
<rect x="302.1" y="486.17" width="8.3" height="2.47" fill="#d7e1ef"/>
<rect x="302.1" y="488.44" width="8.3" height="2.47" fill="#bdcee4"/>
<rect x="302.1" y="490.71" width="8.3" height="2.47" fill="#a2bada"/>
<rect x="302.1" y="492.99" width="8.3" height="2.47" fill="#87a6cf"/>
<rect x="302.1" y="495.26" width="8.3" height="2.47" fill="#6d93c4"/>
<rect x="302.1" y="497.53" width="8.3" height="2.47" fill="#527fb9"/>
<text x="312.90" y="468.80" font-size="4.4" fill="#333" transform="rotate(0.04 312.90 468.80)" stroke="#333" stroke-width="0.220">2</text>
<text x="312.90" y="476.80" font-size="4.4" fill="#333" transform="rotate(0.04 312.90 476.80)" stroke="#333" stroke-width="0.220">1</text>
<text x="312.90" y="484.90" font-size="4.4" fill="#333" transform="rotate(0.04 312.90 484.90)" stroke="#333" stroke-width="0.220">0</text>
<text x="312.90" y="492.60" font-size="4.4" fill="#333" transform="rotate(0.04 312.90 492.60)" stroke="#333" stroke-width="0.220">−1</text>
<text x="312.90" y="500.30" font-size="4.4" fill="#333" transform="rotate(0.04 312.90 500.30)" stroke="#333" stroke-width="0.220">−2</text>
<rect x="65.00" y="627.80" width="14.06" height="4.63" fill="#b9cbe3"/>
<rect x="78.76" y="627.80" width="14.06" height="4.63" fill="#a2bada"/>
<rect x="92.52" y="627.80" width="14.06" height="4.63" fill="#e8eef6"/>
<rect x="106.28" y="627.80" width="14.06" height="4.63" fill="#a2bada"/>
<rect x="120.04" y="627.80" width="14.06" height="4.63" fill="#a2bada"/>
<rect x="133.80" y="627.80" width="14.06" height="4.63" fill="#a2bada"/>
<rect x="147.56" y="627.80" width="14.06" height="4.63" fill="#d0dcec"/>
<rect x="161.32" y="627.80" width="14.06" height="4.63" fill="#b9cbe3"/>
<rect x="175.08" y="627.80" width="14.06" height="4.63" fill="#8ba9d0"/>
<rect x="188.84" y="627.80" width="14.06" height="4.63" fill="#ffffff"/>
<rect x="202.60" y="627.80" width="14.06" height="4.63" fill="#f2c2c2"/>
<rect x="216.36" y="627.80" width="14.06" height="4.63" fill="#e68e8e"/>
<rect x="230.12" y="627.80" width="14.06" height="4.63" fill="#a2bada"/>
<rect x="243.88" y="627.80" width="14.06" height="4.63" fill="#d02c2c"/>
<rect x="257.64" y="627.80" width="14.06" height="4.63" fill="#f2c2c2"/>
<rect x="65.00" y="632.13" width="14.06" height="4.63" fill="#a2bada"/>
<rect x="78.76" y="632.13" width="14.06" height="4.63" fill="#a2bada"/>
<rect x="92.52" y="632.13" width="14.06" height="4.63" fill="#a2bada"/>
<rect x="106.28" y="632.13" width="14.06" height="4.63" fill="#a2bada"/>
<rect x="120.04" y="632.13" width="14.06" height="4.63" fill="#b9cbe3"/>
<rect x="133.80" y="632.13" width="14.06" height="4.63" fill="#a2bada"/>
<rect x="147.56" y="632.13" width="14.06" height="4.63" fill="#b9cbe3"/>
<rect x="161.32" y="632.13" width="14.06" height="4.63" fill="#d0dcec"/>
<rect x="175.08" y="632.13" width="14.06" height="4.63" fill="#b9cbe3"/>
<rect x="188.84" y="632.13" width="14.06" height="4.63" fill="#f2c2c2"/>
<rect x="202.60" y="632.13" width="14.06" height="4.63" fill="#ffffff"/>
<rect x="216.36" y="632.13" width="14.06" height="4.63" fill="#eca8a8"/>
<rect x="230.12" y="632.13" width="14.06" height="4.63" fill="#f8dfdf"/>
<rect x="243.88" y="632.13" width="14.06" height="4.63" fill="#d02c2c"/>
<rect x="257.64" y="632.13" width="14.06" height="4.63" fill="#ffffff"/>
<rect x="65.00" y="636.46" width="14.06" height="4.63" fill="#a2bada"/>
<rect x="78.76" y="636.46" width="14.06" height="4.63" fill="#8ba9d0"/>
<rect x="92.52" y="636.46" width="14.06" height="4.63" fill="#a2bada"/>
<rect x="106.28" y="636.46" width="14.06" height="4.63" fill="#b9cbe3"/>
<rect x="120.04" y="636.46" width="14.06" height="4.63" fill="#b9cbe3"/>
<rect x="133.80" y="636.46" width="14.06" height="4.63" fill="#8ba9d0"/>
<rect x="147.56" y="636.46" width="14.06" height="4.63" fill="#d0dcec"/>
<rect x="161.32" y="636.46" width="14.06" height="4.63" fill="#f8dfdf"/>
<rect x="175.08" y="636.46" width="14.06" height="4.63" fill="#a2bada"/>
<rect x="188.84" y="636.46" width="14.06" height="4.63" fill="#eca8a8"/>
<rect x="202.60" y="636.46" width="14.06" height="4.63" fill="#ffffff"/>
<rect x="216.36" y="636.46" width="14.06" height="4.63" fill="#d54444"/>
<rect x="230.12" y="636.46" width="14.06" height="4.63" fill="#e8eef6"/>
<rect x="243.88" y="636.46" width="14.06" height="4.63" fill="#d02c2c"/>
<rect x="257.64" y="636.46" width="14.06" height="4.63" fill="#ffffff"/>
<rect x="65.00" y="640.79" width="14.06" height="4.63" fill="#a2bada"/>
<rect x="78.76" y="640.79" width="14.06" height="4.63" fill="#a2bada"/>
<rect x="92.52" y="640.79" width="14.06" height="4.63" fill="#b9cbe3"/>
<rect x="106.28" y="640.79" width="14.06" height="4.63" fill="#e8eef6"/>
<rect x="120.04" y="640.79" width="14.06" height="4.63" fill="#a2bada"/>
<rect x="133.80" y="640.79" width="14.06" height="4.63" fill="#8ba9d0"/>
<rect x="147.56" y="640.79" width="14.06" height="4.63" fill="#8ba9d0"/>
<rect x="161.32" y="640.79" width="14.06" height="4.63" fill="#ffffff"/>
<rect x="175.08" y="640.79" width="14.06" height="4.63" fill="#a2bada"/>
<rect x="188.84" y="640.79" width="14.06" height="4.63" fill="#d02c2c"/>
<rect x="202.60" y="640.79" width="14.06" height="4.63" fill="#d0dcec"/>
<rect x="216.36" y="640.79" width="14.06" height="4.63" fill="#f2c2c2"/>
<rect x="230.12" y="640.79" width="14.06" height="4.63" fill="#e8eef6"/>
<rect x="243.88" y="640.79" width="14.06" height="4.63" fill="#d02c2c"/>
<rect x="257.64" y="640.79" width="14.06" height="4.63" fill="#f2c2c2"/>
<rect x="65.00" y="645.12" width="14.06" height="4.63" fill="#d0dcec"/>
<rect x="78.76" y="645.12" width="14.06" height="4.63" fill="#b9cbe3"/>
<rect x="92.52" y="645.12" width="14.06" height="4.63" fill="#b9cbe3"/>
<rect x="106.28" y="645.12" width="14.06" height="4.63" fill="#b9cbe3"/>
<rect x="120.04" y="645.12" width="14.06" height="4.63" fill="#b9cbe3"/>
<rect x="133.80" y="645.12" width="14.06" height="4.63" fill="#b9cbe3"/>
<rect x="147.56" y="645.12" width="14.06" height="4.63" fill="#b9cbe3"/>
<rect x="161.32" y="645.12" width="14.06" height="4.63" fill="#e8eef6"/>
<rect x="175.08" y="645.12" width="14.06" height="4.63" fill="#a2bada"/>
<rect x="188.84" y="645.12" width="14.06" height="4.63" fill="#e07575"/>
<rect x="202.60" y="645.12" width="14.06" height="4.63" fill="#d0dcec"/>
<rect x="216.36" y="645.12" width="14.06" height="4.63" fill="#e8eef6"/>
<rect x="230.12" y="645.12" width="14.06" height="4.63" fill="#b9cbe3"/>
<rect x="243.88" y="645.12" width="14.06" height="4.63" fill="#d02c2c"/>
<rect x="257.64" y="645.12" width="14.06" height="4.63" fill="#d0dcec"/>
<rect x="65.00" y="649.45" width="14.06" height="4.63" fill="#b9cbe3"/>
<rect x="78.76" y="649.45" width="14.06" height="4.63" fill="#b9cbe3"/>
<rect x="92.52" y="649.45" width="14.06" height="4.63" fill="#b9cbe3"/>
<rect x="106.28" y="649.45" width="14.06" height="4.63" fill="#b9cbe3"/>
<rect x="120.04" y="649.45" width="14.06" height="4.63" fill="#b9cbe3"/>
<rect x="133.80" y="649.45" width="14.06" height="4.63" fill="#d0dcec"/>
<rect x="147.56" y="649.45" width="14.06" height="4.63" fill="#b9cbe3"/>
<rect x="161.32" y="649.45" width="14.06" height="4.63" fill="#d0dcec"/>
<rect x="175.08" y="649.45" width="14.06" height="4.63" fill="#d0dcec"/>
<rect x="188.84" y="649.45" width="14.06" height="4.63" fill="#f8dfdf"/>
<rect x="202.60" y="649.45" width="14.06" height="4.63" fill="#d0dcec"/>
<rect x="216.36" y="649.45" width="14.06" height="4.63" fill="#f8dfdf"/>
<rect x="230.12" y="649.45" width="14.06" height="4.63" fill="#b9cbe3"/>
<rect x="243.88" y="649.45" width="14.06" height="4.63" fill="#d02c2c"/>
<rect x="257.64" y="649.45" width="14.06" height="4.63" fill="#e8eef6"/>
<rect x="65.00" y="653.78" width="14.06" height="4.63" fill="#a2bada"/>
<rect x="78.76" y="653.78" width="14.06" height="4.63" fill="#a2bada"/>
<rect x="92.52" y="653.78" width="14.06" height="4.63" fill="#b9cbe3"/>
<rect x="106.28" y="653.78" width="14.06" height="4.63" fill="#e8eef6"/>
<rect x="120.04" y="653.78" width="14.06" height="4.63" fill="#a2bada"/>
<rect x="133.80" y="653.78" width="14.06" height="4.63" fill="#a2bada"/>
<rect x="147.56" y="653.78" width="14.06" height="4.63" fill="#a2bada"/>
<rect x="161.32" y="653.78" width="14.06" height="4.63" fill="#e68e8e"/>
<rect x="175.08" y="653.78" width="14.06" height="4.63" fill="#ffffff"/>
<rect x="188.84" y="653.78" width="14.06" height="4.63" fill="#ffffff"/>
<rect x="202.60" y="653.78" width="14.06" height="4.63" fill="#eca8a8"/>
<rect x="216.36" y="653.78" width="14.06" height="4.63" fill="#e8eef6"/>
<rect x="230.12" y="653.78" width="14.06" height="4.63" fill="#d0dcec"/>
<rect x="243.88" y="653.78" width="14.06" height="4.63" fill="#d02c2c"/>
<rect x="257.64" y="653.78" width="14.06" height="4.63" fill="#d0dcec"/>
<rect x="65.00" y="658.11" width="14.06" height="4.63" fill="#a2bada"/>
<rect x="78.76" y="658.11" width="14.06" height="4.63" fill="#8ba9d0"/>
<rect x="92.52" y="658.11" width="14.06" height="4.63" fill="#b9cbe3"/>
<rect x="106.28" y="658.11" width="14.06" height="4.63" fill="#b9cbe3"/>
<rect x="120.04" y="658.11" width="14.06" height="4.63" fill="#b9cbe3"/>
<rect x="133.80" y="658.11" width="14.06" height="4.63" fill="#a2bada"/>
<rect x="147.56" y="658.11" width="14.06" height="4.63" fill="#8ba9d0"/>
<rect x="161.32" y="658.11" width="14.06" height="4.63" fill="#f8dfdf"/>
<rect x="175.08" y="658.11" width="14.06" height="4.63" fill="#e07575"/>
<rect x="188.84" y="658.11" width="14.06" height="4.63" fill="#b9cbe3"/>
<rect x="202.60" y="658.11" width="14.06" height="4.63" fill="#d0dcec"/>
<rect x="216.36" y="658.11" width="14.06" height="4.63" fill="#e8eef6"/>
<rect x="230.12" y="658.11" width="14.06" height="4.63" fill="#eca8a8"/>
<rect x="243.88" y="658.11" width="14.06" height="4.63" fill="#d02c2c"/>
<rect x="257.64" y="658.11" width="14.06" height="4.63" fill="#eca8a8"/>
<rect x="65.00" y="662.44" width="14.06" height="4.63" fill="#a2bada"/>
<rect x="78.76" y="662.44" width="14.06" height="4.63" fill="#8ba9d0"/>
<rect x="92.52" y="662.44" width="14.06" height="4.63" fill="#b9cbe3"/>
<rect x="106.28" y="662.44" width="14.06" height="4.63" fill="#a2bada"/>
<rect x="120.04" y="662.44" width="14.06" height="4.63" fill="#a2bada"/>
<rect x="133.80" y="662.44" width="14.06" height="4.63" fill="#b9cbe3"/>
<rect x="147.56" y="662.44" width="14.06" height="4.63" fill="#8ba9d0"/>
<rect x="161.32" y="662.44" width="14.06" height="4.63" fill="#d0dcec"/>
<rect x="175.08" y="662.44" width="14.06" height="4.63" fill="#d0dcec"/>
<rect x="188.84" y="662.44" width="14.06" height="4.63" fill="#f8dfdf"/>
<rect x="202.60" y="662.44" width="14.06" height="4.63" fill="#d02c2c"/>
<rect x="216.36" y="662.44" width="14.06" height="4.63" fill="#ffffff"/>
<rect x="230.12" y="662.44" width="14.06" height="4.63" fill="#e07575"/>
<rect x="243.88" y="662.44" width="14.06" height="4.63" fill="#d54444"/>
<rect x="257.64" y="662.44" width="14.06" height="4.63" fill="#f2c2c2"/>
<rect x="65.00" y="666.77" width="14.06" height="4.63" fill="#a2bada"/>
<rect x="78.76" y="666.77" width="14.06" height="4.63" fill="#a2bada"/>
<rect x="92.52" y="666.77" width="14.06" height="4.63" fill="#b9cbe3"/>
<rect x="106.28" y="666.77" width="14.06" height="4.63" fill="#a2bada"/>
<rect x="120.04" y="666.77" width="14.06" height="4.63" fill="#a2bada"/>
<rect x="133.80" y="666.77" width="14.06" height="4.63" fill="#e8eef6"/>
<rect x="147.56" y="666.77" width="14.06" height="4.63" fill="#a2bada"/>
<rect x="161.32" y="666.77" width="14.06" height="4.63" fill="#d0dcec"/>
<rect x="175.08" y="666.77" width="14.06" height="4.63" fill="#ffffff"/>
<rect x="188.84" y="666.77" width="14.06" height="4.63" fill="#d0dcec"/>
<rect x="202.60" y="666.77" width="14.06" height="4.63" fill="#e8eef6"/>
<rect x="216.36" y="666.77" width="14.06" height="4.63" fill="#e07575"/>
<rect x="230.12" y="666.77" width="14.06" height="4.63" fill="#eca8a8"/>
<rect x="243.88" y="666.77" width="14.06" height="4.63" fill="#d02c2c"/>
<rect x="257.64" y="666.77" width="14.06" height="4.63" fill="#d0dcec"/>
<rect x="65.00" y="671.10" width="14.06" height="4.63" fill="#b9cbe3"/>
<rect x="78.76" y="671.10" width="14.06" height="4.63" fill="#a2bada"/>
<rect x="92.52" y="671.10" width="14.06" height="4.63" fill="#b9cbe3"/>
<rect x="106.28" y="671.10" width="14.06" height="4.63" fill="#d0dcec"/>
<rect x="120.04" y="671.10" width="14.06" height="4.63" fill="#b9cbe3"/>
<rect x="133.80" y="671.10" width="14.06" height="4.63" fill="#b9cbe3"/>
<rect x="147.56" y="671.10" width="14.06" height="4.63" fill="#b9cbe3"/>
<rect x="161.32" y="671.10" width="14.06" height="4.63" fill="#b9cbe3"/>
<rect x="175.08" y="671.10" width="14.06" height="4.63" fill="#b9cbe3"/>
<rect x="188.84" y="671.10" width="14.06" height="4.63" fill="#d0dcec"/>
<rect x="202.60" y="671.10" width="14.06" height="4.63" fill="#e8eef6"/>
<rect x="216.36" y="671.10" width="14.06" height="4.63" fill="#ffffff"/>
<rect x="230.12" y="671.10" width="14.06" height="4.63" fill="#e68e8e"/>
<rect x="243.88" y="671.10" width="14.06" height="4.63" fill="#d02c2c"/>
<rect x="257.64" y="671.10" width="14.06" height="4.63" fill="#e8eef6"/>
<rect x="65.00" y="675.43" width="14.06" height="4.63" fill="#f2c2c2"/>
<rect x="78.76" y="675.43" width="14.06" height="4.63" fill="#a2bada"/>
<rect x="92.52" y="675.43" width="14.06" height="4.63" fill="#5c86bd"/>
<rect x="106.28" y="675.43" width="14.06" height="4.63" fill="#d54444"/>
<rect x="120.04" y="675.43" width="14.06" height="4.63" fill="#a2bada"/>
<rect x="133.80" y="675.43" width="14.06" height="4.63" fill="#a2bada"/>
<rect x="147.56" y="675.43" width="14.06" height="4.63" fill="#a2bada"/>
<rect x="161.32" y="675.43" width="14.06" height="4.63" fill="#a2bada"/>
<rect x="175.08" y="675.43" width="14.06" height="4.63" fill="#b9cbe3"/>
<rect x="188.84" y="675.43" width="14.06" height="4.63" fill="#ffffff"/>
<rect x="202.60" y="675.43" width="14.06" height="4.63" fill="#eca8a8"/>
<rect x="216.36" y="675.43" width="14.06" height="4.63" fill="#eca8a8"/>
<rect x="230.12" y="675.43" width="14.06" height="4.63" fill="#a2bada"/>
<rect x="243.88" y="675.43" width="14.06" height="4.63" fill="#db5c5c"/>
<rect x="257.64" y="675.43" width="14.06" height="4.63" fill="#e68e8e"/>
<rect x="65.00" y="679.76" width="14.06" height="4.63" fill="#d0dcec"/>
<rect x="78.76" y="679.76" width="14.06" height="4.63" fill="#8ba9d0"/>
<rect x="92.52" y="679.76" width="14.06" height="4.63" fill="#5c86bd"/>
<rect x="106.28" y="679.76" width="14.06" height="4.63" fill="#f8dfdf"/>
<rect x="120.04" y="679.76" width="14.06" height="4.63" fill="#b9cbe3"/>
<rect x="133.80" y="679.76" width="14.06" height="4.63" fill="#7498c7"/>
<rect x="147.56" y="679.76" width="14.06" height="4.63" fill="#d0dcec"/>
<rect x="161.32" y="679.76" width="14.06" height="4.63" fill="#f8dfdf"/>
<rect x="175.08" y="679.76" width="14.06" height="4.63" fill="#f8dfdf"/>
<rect x="188.84" y="679.76" width="14.06" height="4.63" fill="#f8dfdf"/>
<rect x="202.60" y="679.76" width="14.06" height="4.63" fill="#d0dcec"/>
<rect x="216.36" y="679.76" width="14.06" height="4.63" fill="#d02c2c"/>
<rect x="230.12" y="679.76" width="14.06" height="4.63" fill="#d0dcec"/>
<rect x="243.88" y="679.76" width="14.06" height="4.63" fill="#d02c2c"/>
<rect x="257.64" y="679.76" width="14.06" height="4.63" fill="#e8eef6"/>
<rect x="65.00" y="684.09" width="14.06" height="4.63" fill="#a2bada"/>
<rect x="78.76" y="684.09" width="14.06" height="4.63" fill="#8ba9d0"/>
<rect x="92.52" y="684.09" width="14.06" height="4.63" fill="#7498c7"/>
<rect x="106.28" y="684.09" width="14.06" height="4.63" fill="#ffffff"/>
<rect x="120.04" y="684.09" width="14.06" height="4.63" fill="#b9cbe3"/>
<rect x="133.80" y="684.09" width="14.06" height="4.63" fill="#d0dcec"/>
<rect x="147.56" y="684.09" width="14.06" height="4.63" fill="#d0dcec"/>
<rect x="161.32" y="684.09" width="14.06" height="4.63" fill="#e8eef6"/>
<rect x="175.08" y="684.09" width="14.06" height="4.63" fill="#a2bada"/>
<rect x="188.84" y="684.09" width="14.06" height="4.63" fill="#f8dfdf"/>
<rect x="202.60" y="684.09" width="14.06" height="4.63" fill="#b9cbe3"/>
<rect x="216.36" y="684.09" width="14.06" height="4.63" fill="#db5c5c"/>
<rect x="230.12" y="684.09" width="14.06" height="4.63" fill="#f8dfdf"/>
<rect x="243.88" y="684.09" width="14.06" height="4.63" fill="#d02c2c"/>
<rect x="257.64" y="684.09" width="14.06" height="4.63" fill="#e8eef6"/>
<rect x="65.00" y="688.42" width="14.06" height="4.63" fill="#a2bada"/>
<rect x="78.76" y="688.42" width="14.06" height="4.63" fill="#8ba9d0"/>
<rect x="92.52" y="688.42" width="14.06" height="4.63" fill="#a2bada"/>
<rect x="106.28" y="688.42" width="14.06" height="4.63" fill="#ffffff"/>
<rect x="120.04" y="688.42" width="14.06" height="4.63" fill="#b9cbe3"/>
<rect x="133.80" y="688.42" width="14.06" height="4.63" fill="#d0dcec"/>
<rect x="147.56" y="688.42" width="14.06" height="4.63" fill="#e8eef6"/>
<rect x="161.32" y="688.42" width="14.06" height="4.63" fill="#d0dcec"/>
<rect x="175.08" y="688.42" width="14.06" height="4.63" fill="#b9cbe3"/>
<rect x="188.84" y="688.42" width="14.06" height="4.63" fill="#e8eef6"/>
<rect x="202.60" y="688.42" width="14.06" height="4.63" fill="#d0dcec"/>
<rect x="216.36" y="688.42" width="14.06" height="4.63" fill="#d02c2c"/>
<rect x="230.12" y="688.42" width="14.06" height="4.63" fill="#d0dcec"/>
<rect x="243.88" y="688.42" width="14.06" height="4.63" fill="#d02c2c"/>
<rect x="257.64" y="688.42" width="14.06" height="4.63" fill="#e8eef6"/>
<rect x="65.00" y="692.75" width="14.06" height="4.63" fill="#b9cbe3"/>
<rect x="78.76" y="692.75" width="14.06" height="4.63" fill="#8ba9d0"/>
<rect x="92.52" y="692.75" width="14.06" height="4.63" fill="#7498c7"/>
<rect x="106.28" y="692.75" width="14.06" height="4.63" fill="#ffffff"/>
<rect x="120.04" y="692.75" width="14.06" height="4.63" fill="#b9cbe3"/>
<rect x="133.80" y="692.75" width="14.06" height="4.63" fill="#a2bada"/>
<rect x="147.56" y="692.75" width="14.06" height="4.63" fill="#f8dfdf"/>
<rect x="161.32" y="692.75" width="14.06" height="4.63" fill="#a2bada"/>
<rect x="175.08" y="692.75" width="14.06" height="4.63" fill="#e68e8e"/>
<rect x="188.84" y="692.75" width="14.06" height="4.63" fill="#d0dcec"/>
<rect x="202.60" y="692.75" width="14.06" height="4.63" fill="#d0dcec"/>
<rect x="216.36" y="692.75" width="14.06" height="4.63" fill="#d02c2c"/>
<rect x="230.12" y="692.75" width="14.06" height="4.63" fill="#d0dcec"/>
<rect x="243.88" y="692.75" width="14.06" height="4.63" fill="#db5c5c"/>
<rect x="257.64" y="692.75" width="14.06" height="4.63" fill="#d0dcec"/>
<rect x="65.00" y="697.08" width="14.06" height="4.63" fill="#a2bada"/>
<rect x="78.76" y="697.08" width="14.06" height="4.63" fill="#7498c7"/>
<rect x="92.52" y="697.08" width="14.06" height="4.63" fill="#7498c7"/>
<rect x="106.28" y="697.08" width="14.06" height="4.63" fill="#b9cbe3"/>
<rect x="120.04" y="697.08" width="14.06" height="4.63" fill="#b9cbe3"/>
<rect x="133.80" y="697.08" width="14.06" height="4.63" fill="#8ba9d0"/>
<rect x="147.56" y="697.08" width="14.06" height="4.63" fill="#e8eef6"/>
<rect x="161.32" y="697.08" width="14.06" height="4.63" fill="#a2bada"/>
<rect x="175.08" y="697.08" width="14.06" height="4.63" fill="#e07575"/>
<rect x="188.84" y="697.08" width="14.06" height="4.63" fill="#f8dfdf"/>
<rect x="202.60" y="697.08" width="14.06" height="4.63" fill="#eca8a8"/>
<rect x="216.36" y="697.08" width="14.06" height="4.63" fill="#db5c5c"/>
<rect x="230.12" y="697.08" width="14.06" height="4.63" fill="#b9cbe3"/>
<rect x="243.88" y="697.08" width="14.06" height="4.63" fill="#db5c5c"/>
<rect x="257.64" y="697.08" width="14.06" height="4.63" fill="#eca8a8"/>
<rect x="65.00" y="701.41" width="14.06" height="4.63" fill="#a2bada"/>
<rect x="78.76" y="701.41" width="14.06" height="4.63" fill="#8ba9d0"/>
<rect x="92.52" y="701.41" width="14.06" height="4.63" fill="#7498c7"/>
<rect x="106.28" y="701.41" width="14.06" height="4.63" fill="#b9cbe3"/>
<rect x="120.04" y="701.41" width="14.06" height="4.63" fill="#a2bada"/>
<rect x="133.80" y="701.41" width="14.06" height="4.63" fill="#8ba9d0"/>
<rect x="147.56" y="701.41" width="14.06" height="4.63" fill="#ffffff"/>
<rect x="161.32" y="701.41" width="14.06" height="4.63" fill="#d02c2c"/>
<rect x="175.08" y="701.41" width="14.06" height="4.63" fill="#ffffff"/>
<rect x="188.84" y="701.41" width="14.06" height="4.63" fill="#eca8a8"/>
<rect x="202.60" y="701.41" width="14.06" height="4.63" fill="#e8eef6"/>
<rect x="216.36" y="701.41" width="14.06" height="4.63" fill="#a2bada"/>
<rect x="230.12" y="701.41" width="14.06" height="4.63" fill="#f2c2c2"/>
<rect x="243.88" y="701.41" width="14.06" height="4.63" fill="#f2c2c2"/>
<rect x="257.64" y="701.41" width="14.06" height="4.63" fill="#f2c2c2"/>
<rect x="65.00" y="705.74" width="14.06" height="4.63" fill="#8ba9d0"/>
<rect x="78.76" y="705.74" width="14.06" height="4.63" fill="#8ba9d0"/>
<rect x="92.52" y="705.74" width="14.06" height="4.63" fill="#b9cbe3"/>
<rect x="106.28" y="705.74" width="14.06" height="4.63" fill="#7498c7"/>
<rect x="120.04" y="705.74" width="14.06" height="4.63" fill="#e8eef6"/>
<rect x="133.80" y="705.74" width="14.06" height="4.63" fill="#7498c7"/>
<rect x="147.56" y="705.74" width="14.06" height="4.63" fill="#d0dcec"/>
<rect x="161.32" y="705.74" width="14.06" height="4.63" fill="#e68e8e"/>
<rect x="175.08" y="705.74" width="14.06" height="4.63" fill="#d0dcec"/>
<rect x="188.84" y="705.74" width="14.06" height="4.63" fill="#eca8a8"/>
<rect x="202.60" y="705.74" width="14.06" height="4.63" fill="#e68e8e"/>
<rect x="216.36" y="705.74" width="14.06" height="4.63" fill="#f2c2c2"/>
<rect x="230.12" y="705.74" width="14.06" height="4.63" fill="#a2bada"/>
<rect x="243.88" y="705.74" width="14.06" height="4.63" fill="#d54444"/>
<rect x="257.64" y="705.74" width="14.06" height="4.63" fill="#e07575"/>
<rect x="65.00" y="710.07" width="14.06" height="4.63" fill="#e8eef6"/>
<rect x="78.76" y="710.07" width="14.06" height="4.63" fill="#a2bada"/>
<rect x="92.52" y="710.07" width="14.06" height="4.63" fill="#a2bada"/>
<rect x="106.28" y="710.07" width="14.06" height="4.63" fill="#ffffff"/>
<rect x="120.04" y="710.07" width="14.06" height="4.63" fill="#f2c2c2"/>
<rect x="133.80" y="710.07" width="14.06" height="4.63" fill="#7498c7"/>
<rect x="147.56" y="710.07" width="14.06" height="4.63" fill="#e8eef6"/>
<rect x="161.32" y="710.07" width="14.06" height="4.63" fill="#d02c2c"/>
<rect x="175.08" y="710.07" width="14.06" height="4.63" fill="#a2bada"/>
<rect x="188.84" y="710.07" width="14.06" height="4.63" fill="#e8eef6"/>
<rect x="202.60" y="710.07" width="14.06" height="4.63" fill="#d0dcec"/>
<rect x="216.36" y="710.07" width="14.06" height="4.63" fill="#d02c2c"/>
<rect x="230.12" y="710.07" width="14.06" height="4.63" fill="#8ba9d0"/>
<rect x="243.88" y="710.07" width="14.06" height="4.63" fill="#eca8a8"/>
<rect x="257.64" y="710.07" width="14.06" height="4.63" fill="#a2bada"/>
<rect x="65.00" y="714.40" width="14.06" height="4.63" fill="#d0dcec"/>
<rect x="78.76" y="714.40" width="14.06" height="4.63" fill="#a2bada"/>
<rect x="92.52" y="714.40" width="14.06" height="4.63" fill="#a2bada"/>
<rect x="106.28" y="714.40" width="14.06" height="4.63" fill="#b9cbe3"/>
<rect x="120.04" y="714.40" width="14.06" height="4.63" fill="#d0dcec"/>
<rect x="133.80" y="714.40" width="14.06" height="4.63" fill="#a2bada"/>
<rect x="147.56" y="714.40" width="14.06" height="4.63" fill="#d0dcec"/>
<rect x="161.32" y="714.40" width="14.06" height="4.63" fill="#f2c2c2"/>
<rect x="175.08" y="714.40" width="14.06" height="4.63" fill="#a2bada"/>
<rect x="188.84" y="714.40" width="14.06" height="4.63" fill="#d02c2c"/>
<rect x="202.60" y="714.40" width="14.06" height="4.63" fill="#d0dcec"/>
<rect x="216.36" y="714.40" width="14.06" height="4.63" fill="#d02c2c"/>
<rect x="230.12" y="714.40" width="14.06" height="4.63" fill="#a2bada"/>
<rect x="243.88" y="714.40" width="14.06" height="4.63" fill="#eca8a8"/>
<rect x="257.64" y="714.40" width="14.06" height="4.63" fill="#a2bada"/>
<rect x="65.00" y="718.73" width="14.06" height="4.63" fill="#a2bada"/>
<rect x="78.76" y="718.73" width="14.06" height="4.63" fill="#a2bada"/>
<rect x="92.52" y="718.73" width="14.06" height="4.63" fill="#b9cbe3"/>
<rect x="106.28" y="718.73" width="14.06" height="4.63" fill="#a2bada"/>
<rect x="120.04" y="718.73" width="14.06" height="4.63" fill="#d0dcec"/>
<rect x="133.80" y="718.73" width="14.06" height="4.63" fill="#e8eef6"/>
<rect x="147.56" y="718.73" width="14.06" height="4.63" fill="#b9cbe3"/>
<rect x="161.32" y="718.73" width="14.06" height="4.63" fill="#ffffff"/>
<rect x="175.08" y="718.73" width="14.06" height="4.63" fill="#e8eef6"/>
<rect x="188.84" y="718.73" width="14.06" height="4.63" fill="#d0dcec"/>
<rect x="202.60" y="718.73" width="14.06" height="4.63" fill="#e8eef6"/>
<rect x="216.36" y="718.73" width="14.06" height="4.63" fill="#d02c2c"/>
<rect x="230.12" y="718.73" width="14.06" height="4.63" fill="#d0dcec"/>
<rect x="243.88" y="718.73" width="14.06" height="4.63" fill="#f8dfdf"/>
<rect x="257.64" y="718.73" width="14.06" height="4.63" fill="#e8eef6"/>
<rect x="65.00" y="723.06" width="14.06" height="4.63" fill="#a2bada"/>
<rect x="78.76" y="723.06" width="14.06" height="4.63" fill="#d02c2c"/>
<rect x="92.52" y="723.06" width="14.06" height="4.63" fill="#d0dcec"/>
<rect x="106.28" y="723.06" width="14.06" height="4.63" fill="#d0dcec"/>
<rect x="120.04" y="723.06" width="14.06" height="4.63" fill="#b9cbe3"/>
<rect x="133.80" y="723.06" width="14.06" height="4.63" fill="#e8eef6"/>
<rect x="147.56" y="723.06" width="14.06" height="4.63" fill="#b9cbe3"/>
<rect x="161.32" y="723.06" width="14.06" height="4.63" fill="#db5c5c"/>
<rect x="175.08" y="723.06" width="14.06" height="4.63" fill="#d0dcec"/>
<rect x="188.84" y="723.06" width="14.06" height="4.63" fill="#a2bada"/>
<rect x="202.60" y="723.06" width="14.06" height="4.63" fill="#a2bada"/>
<rect x="216.36" y="723.06" width="14.06" height="4.63" fill="#ffffff"/>
<rect x="230.12" y="723.06" width="14.06" height="4.63" fill="#8ba9d0"/>
<rect x="243.88" y="723.06" width="14.06" height="4.63" fill="#f2c2c2"/>
<rect x="257.64" y="723.06" width="14.06" height="4.63" fill="#8ba9d0"/>
<rect x="65.00" y="727.39" width="14.06" height="4.63" fill="#f8dfdf"/>
<rect x="78.76" y="727.39" width="14.06" height="4.63" fill="#b9cbe3"/>
<rect x="92.52" y="727.39" width="14.06" height="4.63" fill="#f8dfdf"/>
<rect x="106.28" y="727.39" width="14.06" height="4.63" fill="#f2c2c2"/>
<rect x="120.04" y="727.39" width="14.06" height="4.63" fill="#8ba9d0"/>
<rect x="133.80" y="727.39" width="14.06" height="4.63" fill="#b9cbe3"/>
<rect x="147.56" y="727.39" width="14.06" height="4.63" fill="#e8eef6"/>
<rect x="161.32" y="727.39" width="14.06" height="4.63" fill="#d02c2c"/>
<rect x="175.08" y="727.39" width="14.06" height="4.63" fill="#d0dcec"/>
<rect x="188.84" y="727.39" width="14.06" height="4.63" fill="#b9cbe3"/>
<rect x="202.60" y="727.39" width="14.06" height="4.63" fill="#7498c7"/>
<rect x="216.36" y="727.39" width="14.06" height="4.63" fill="#f2c2c2"/>
<rect x="230.12" y="727.39" width="14.06" height="4.63" fill="#8ba9d0"/>
<rect x="243.88" y="727.39" width="14.06" height="4.63" fill="#eca8a8"/>
<rect x="257.64" y="727.39" width="14.06" height="4.63" fill="#8ba9d0"/>
<rect x="65.00" y="731.72" width="14.06" height="4.63" fill="#e8eef6"/>
<rect x="78.76" y="731.72" width="14.06" height="4.63" fill="#a2bada"/>
<rect x="92.52" y="731.72" width="14.06" height="4.63" fill="#f8dfdf"/>
<rect x="106.28" y="731.72" width="14.06" height="4.63" fill="#f2c2c2"/>
<rect x="120.04" y="731.72" width="14.06" height="4.63" fill="#a2bada"/>
<rect x="133.80" y="731.72" width="14.06" height="4.63" fill="#d0dcec"/>
<rect x="147.56" y="731.72" width="14.06" height="4.63" fill="#a2bada"/>
<rect x="161.32" y="731.72" width="14.06" height="4.63" fill="#d02c2c"/>
<rect x="175.08" y="731.72" width="14.06" height="4.63" fill="#d0dcec"/>
<rect x="188.84" y="731.72" width="14.06" height="4.63" fill="#d0dcec"/>
<rect x="202.60" y="731.72" width="14.06" height="4.63" fill="#7498c7"/>
<rect x="216.36" y="731.72" width="14.06" height="4.63" fill="#e07575"/>
<rect x="230.12" y="731.72" width="14.06" height="4.63" fill="#b9cbe3"/>
<rect x="243.88" y="731.72" width="14.06" height="4.63" fill="#f8dfdf"/>
<rect x="257.64" y="731.72" width="14.06" height="4.63" fill="#8ba9d0"/>
<rect x="65.00" y="736.05" width="14.06" height="4.63" fill="#e8eef6"/>
<rect x="78.76" y="736.05" width="14.06" height="4.63" fill="#a2bada"/>
<rect x="92.52" y="736.05" width="14.06" height="4.63" fill="#ffffff"/>
<rect x="106.28" y="736.05" width="14.06" height="4.63" fill="#b9cbe3"/>
<rect x="120.04" y="736.05" width="14.06" height="4.63" fill="#8ba9d0"/>
<rect x="133.80" y="736.05" width="14.06" height="4.63" fill="#f8dfdf"/>
<rect x="147.56" y="736.05" width="14.06" height="4.63" fill="#a2bada"/>
<rect x="161.32" y="736.05" width="14.06" height="4.63" fill="#d02c2c"/>
<rect x="175.08" y="736.05" width="14.06" height="4.63" fill="#a2bada"/>
<rect x="188.84" y="736.05" width="14.06" height="4.63" fill="#eca8a8"/>
<rect x="202.60" y="736.05" width="14.06" height="4.63" fill="#7498c7"/>
<rect x="216.36" y="736.05" width="14.06" height="4.63" fill="#eca8a8"/>
<rect x="230.12" y="736.05" width="14.06" height="4.63" fill="#b9cbe3"/>
<rect x="243.88" y="736.05" width="14.06" height="4.63" fill="#e07575"/>
<rect x="257.64" y="736.05" width="14.06" height="4.63" fill="#a2bada"/>
<rect x="65.00" y="740.38" width="14.06" height="4.63" fill="#b9cbe3"/>
<rect x="78.76" y="740.38" width="14.06" height="4.63" fill="#d0dcec"/>
<rect x="92.52" y="740.38" width="14.06" height="4.63" fill="#ffffff"/>
<rect x="106.28" y="740.38" width="14.06" height="4.63" fill="#b9cbe3"/>
<rect x="120.04" y="740.38" width="14.06" height="4.63" fill="#8ba9d0"/>
<rect x="133.80" y="740.38" width="14.06" height="4.63" fill="#e8eef6"/>
<rect x="147.56" y="740.38" width="14.06" height="4.63" fill="#a2bada"/>
<rect x="161.32" y="740.38" width="14.06" height="4.63" fill="#d02c2c"/>
<rect x="175.08" y="740.38" width="14.06" height="4.63" fill="#d0dcec"/>
<rect x="188.84" y="740.38" width="14.06" height="4.63" fill="#d0dcec"/>
<rect x="202.60" y="740.38" width="14.06" height="4.63" fill="#d0dcec"/>
<rect x="216.36" y="740.38" width="14.06" height="4.63" fill="#d0dcec"/>
<rect x="230.12" y="740.38" width="14.06" height="4.63" fill="#b9cbe3"/>
<rect x="243.88" y="740.38" width="14.06" height="4.63" fill="#e07575"/>
<rect x="257.64" y="740.38" width="14.06" height="4.63" fill="#d0dcec"/>
<rect x="65.00" y="744.71" width="14.06" height="4.63" fill="#f2c2c2"/>
<rect x="78.76" y="744.71" width="14.06" height="4.63" fill="#e8eef6"/>
<rect x="92.52" y="744.71" width="14.06" height="4.63" fill="#d0dcec"/>
<rect x="106.28" y="744.71" width="14.06" height="4.63" fill="#b9cbe3"/>
<rect x="120.04" y="744.71" width="14.06" height="4.63" fill="#7498c7"/>
<rect x="133.80" y="744.71" width="14.06" height="4.63" fill="#e68e8e"/>
<rect x="147.56" y="744.71" width="14.06" height="4.63" fill="#a2bada"/>
<rect x="161.32" y="744.71" width="14.06" height="4.63" fill="#d02c2c"/>
<rect x="175.08" y="744.71" width="14.06" height="4.63" fill="#d0dcec"/>
<rect x="188.84" y="744.71" width="14.06" height="4.63" fill="#a2bada"/>
<rect x="202.60" y="744.71" width="14.06" height="4.63" fill="#d0dcec"/>
<rect x="216.36" y="744.71" width="14.06" height="4.63" fill="#e8eef6"/>
<rect x="230.12" y="744.71" width="14.06" height="4.63" fill="#b9cbe3"/>
<rect x="243.88" y="744.71" width="14.06" height="4.63" fill="#ffffff"/>
<rect x="257.64" y="744.71" width="14.06" height="4.63" fill="#d0dcec"/>
<rect x="65.00" y="749.04" width="14.06" height="4.63" fill="#a2bada"/>
<rect x="78.76" y="749.04" width="14.06" height="4.63" fill="#a2bada"/>
<rect x="92.52" y="749.04" width="14.06" height="4.63" fill="#f2c2c2"/>
<rect x="106.28" y="749.04" width="14.06" height="4.63" fill="#b9cbe3"/>
<rect x="120.04" y="749.04" width="14.06" height="4.63" fill="#a2bada"/>
<rect x="133.80" y="749.04" width="14.06" height="4.63" fill="#d02c2c"/>
<rect x="147.56" y="749.04" width="14.06" height="4.63" fill="#a2bada"/>
<rect x="161.32" y="749.04" width="14.06" height="4.63" fill="#b9cbe3"/>
<rect x="175.08" y="749.04" width="14.06" height="4.63" fill="#b9cbe3"/>
<rect x="188.84" y="749.04" width="14.06" height="4.63" fill="#a2bada"/>
<rect x="202.60" y="749.04" width="14.06" height="4.63" fill="#e68e8e"/>
<rect x="216.36" y="749.04" width="14.06" height="4.63" fill="#e07575"/>
<rect x="230.12" y="749.04" width="14.06" height="4.63" fill="#b9cbe3"/>
<rect x="243.88" y="749.04" width="14.06" height="4.63" fill="#f8dfdf"/>
<rect x="257.64" y="749.04" width="14.06" height="4.63" fill="#d0dcec"/>
<rect x="65.00" y="753.37" width="14.06" height="4.63" fill="#a2bada"/>
<rect x="78.76" y="753.37" width="14.06" height="4.63" fill="#a2bada"/>
<rect x="92.52" y="753.37" width="14.06" height="4.63" fill="#a2bada"/>
<rect x="106.28" y="753.37" width="14.06" height="4.63" fill="#d0dcec"/>
<rect x="120.04" y="753.37" width="14.06" height="4.63" fill="#a2bada"/>
<rect x="133.80" y="753.37" width="14.06" height="4.63" fill="#f2c2c2"/>
<rect x="147.56" y="753.37" width="14.06" height="4.63" fill="#a2bada"/>
<rect x="161.32" y="753.37" width="14.06" height="4.63" fill="#e07575"/>
<rect x="175.08" y="753.37" width="14.06" height="4.63" fill="#e68e8e"/>
<rect x="188.84" y="753.37" width="14.06" height="4.63" fill="#d0dcec"/>
<rect x="202.60" y="753.37" width="14.06" height="4.63" fill="#ffffff"/>
<rect x="216.36" y="753.37" width="14.06" height="4.63" fill="#e07575"/>
<rect x="230.12" y="753.37" width="14.06" height="4.63" fill="#8ba9d0"/>
<rect x="243.88" y="753.37" width="14.06" height="4.63" fill="#d54444"/>
<rect x="257.64" y="753.37" width="14.06" height="4.63" fill="#8ba9d0"/>
<rect x="65.00" y="757.70" width="14.06" height="4.63" fill="#d0dcec"/>
<rect x="78.76" y="757.70" width="14.06" height="4.63" fill="#a2bada"/>
<rect x="92.52" y="757.70" width="14.06" height="4.63" fill="#ffffff"/>
<rect x="106.28" y="757.70" width="14.06" height="4.63" fill="#d0dcec"/>
<rect x="120.04" y="757.70" width="14.06" height="4.63" fill="#8ba9d0"/>
<rect x="133.80" y="757.70" width="14.06" height="4.63" fill="#e68e8e"/>
<rect x="147.56" y="757.70" width="14.06" height="4.63" fill="#8ba9d0"/>
<rect x="161.32" y="757.70" width="14.06" height="4.63" fill="#eca8a8"/>
<rect x="175.08" y="757.70" width="14.06" height="4.63" fill="#e07575"/>
<rect x="188.84" y="757.70" width="14.06" height="4.63" fill="#d0dcec"/>
<rect x="202.60" y="757.70" width="14.06" height="4.63" fill="#b9cbe3"/>
<rect x="216.36" y="757.70" width="14.06" height="4.63" fill="#d02c2c"/>
<rect x="230.12" y="757.70" width="14.06" height="4.63" fill="#a2bada"/>
<rect x="243.88" y="757.70" width="14.06" height="4.63" fill="#f2c2c2"/>
<rect x="257.64" y="757.70" width="14.06" height="4.63" fill="#a2bada"/>
<rect x="65.00" y="762.03" width="14.06" height="4.63" fill="#d0dcec"/>
<rect x="78.76" y="762.03" width="14.06" height="4.63" fill="#a2bada"/>
<rect x="92.52" y="762.03" width="14.06" height="4.63" fill="#f8dfdf"/>
<rect x="106.28" y="762.03" width="14.06" height="4.63" fill="#b9cbe3"/>
<rect x="120.04" y="762.03" width="14.06" height="4.63" fill="#a2bada"/>
<rect x="133.80" y="762.03" width="14.06" height="4.63" fill="#e07575"/>
<rect x="147.56" y="762.03" width="14.06" height="4.63" fill="#d0dcec"/>
<rect x="161.32" y="762.03" width="14.06" height="4.63" fill="#b9cbe3"/>
<rect x="175.08" y="762.03" width="14.06" height="4.63" fill="#d02c2c"/>
<rect x="188.84" y="762.03" width="14.06" height="4.63" fill="#b9cbe3"/>
<rect x="202.60" y="762.03" width="14.06" height="4.63" fill="#e8eef6"/>
<rect x="216.36" y="762.03" width="14.06" height="4.63" fill="#d0dcec"/>
<rect x="230.12" y="762.03" width="14.06" height="4.63" fill="#b9cbe3"/>
<rect x="243.88" y="762.03" width="14.06" height="4.63" fill="#ffffff"/>
<rect x="257.64" y="762.03" width="14.06" height="4.63" fill="#a2bada"/>
<rect x="65.00" y="766.36" width="14.06" height="4.63" fill="#b9cbe3"/>
<rect x="78.76" y="766.36" width="14.06" height="4.63" fill="#e8eef6"/>
<rect x="92.52" y="766.36" width="14.06" height="4.63" fill="#f2c2c2"/>
<rect x="106.28" y="766.36" width="14.06" height="4.63" fill="#b9cbe3"/>
<rect x="120.04" y="766.36" width="14.06" height="4.63" fill="#7498c7"/>
<rect x="133.80" y="766.36" width="14.06" height="4.63" fill="#f8dfdf"/>
<rect x="147.56" y="766.36" width="14.06" height="4.63" fill="#e8eef6"/>
<rect x="161.32" y="766.36" width="14.06" height="4.63" fill="#db5c5c"/>
<rect x="175.08" y="766.36" width="14.06" height="4.63" fill="#d02c2c"/>
<rect x="188.84" y="766.36" width="14.06" height="4.63" fill="#a2bada"/>
<rect x="202.60" y="766.36" width="14.06" height="4.63" fill="#b9cbe3"/>
<rect x="216.36" y="766.36" width="14.06" height="4.63" fill="#f8dfdf"/>
<rect x="230.12" y="766.36" width="14.06" height="4.63" fill="#b9cbe3"/>
<rect x="243.88" y="766.36" width="14.06" height="4.63" fill="#ffffff"/>
<rect x="257.64" y="766.36" width="14.06" height="4.63" fill="#8ba9d0"/>
<rect x="65.00" y="770.69" width="14.06" height="4.63" fill="#a2bada"/>
<rect x="78.76" y="770.69" width="14.06" height="4.63" fill="#5c86bd"/>
<rect x="92.52" y="770.69" width="14.06" height="4.63" fill="#8ba9d0"/>
<rect x="106.28" y="770.69" width="14.06" height="4.63" fill="#8ba9d0"/>
<rect x="120.04" y="770.69" width="14.06" height="4.63" fill="#f8dfdf"/>
<rect x="133.80" y="770.69" width="14.06" height="4.63" fill="#d02c2c"/>
<rect x="147.56" y="770.69" width="14.06" height="4.63" fill="#d02c2c"/>
<rect x="161.32" y="770.69" width="14.06" height="4.63" fill="#b9cbe3"/>
<rect x="175.08" y="770.69" width="14.06" height="4.63" fill="#e8eef6"/>
<rect x="188.84" y="770.69" width="14.06" height="4.63" fill="#d0dcec"/>
<rect x="202.60" y="770.69" width="14.06" height="4.63" fill="#e8eef6"/>
<rect x="216.36" y="770.69" width="14.06" height="4.63" fill="#eca8a8"/>
<rect x="230.12" y="770.69" width="14.06" height="4.63" fill="#ffffff"/>
<rect x="243.88" y="770.69" width="14.06" height="4.63" fill="#e8eef6"/>
<rect x="257.64" y="770.69" width="14.06" height="4.63" fill="#e8eef6"/>
<rect x="65.00" y="775.02" width="14.06" height="4.63" fill="#a2bada"/>
<rect x="78.76" y="775.02" width="14.06" height="4.63" fill="#7498c7"/>
<rect x="92.52" y="775.02" width="14.06" height="4.63" fill="#8ba9d0"/>
<rect x="106.28" y="775.02" width="14.06" height="4.63" fill="#b9cbe3"/>
<rect x="120.04" y="775.02" width="14.06" height="4.63" fill="#eca8a8"/>
<rect x="133.80" y="775.02" width="14.06" height="4.63" fill="#b9cbe3"/>
<rect x="147.56" y="775.02" width="14.06" height="4.63" fill="#d02c2c"/>
<rect x="161.32" y="775.02" width="14.06" height="4.63" fill="#b9cbe3"/>
<rect x="175.08" y="775.02" width="14.06" height="4.63" fill="#d0dcec"/>
<rect x="188.84" y="775.02" width="14.06" height="4.63" fill="#d0dcec"/>
<rect x="202.60" y="775.02" width="14.06" height="4.63" fill="#eca8a8"/>
<rect x="216.36" y="775.02" width="14.06" height="4.63" fill="#a2bada"/>
<rect x="230.12" y="775.02" width="14.06" height="4.63" fill="#e8eef6"/>
<rect x="243.88" y="775.02" width="14.06" height="4.63" fill="#f8dfdf"/>
<rect x="257.64" y="775.02" width="14.06" height="4.63" fill="#e07575"/>
<rect x="65.00" y="779.35" width="14.06" height="4.63" fill="#a2bada"/>
<rect x="78.76" y="779.35" width="14.06" height="4.63" fill="#ffffff"/>
<rect x="92.52" y="779.35" width="14.06" height="4.63" fill="#a2bada"/>
<rect x="106.28" y="779.35" width="14.06" height="4.63" fill="#a2bada"/>
<rect x="120.04" y="779.35" width="14.06" height="4.63" fill="#b9cbe3"/>
<rect x="133.80" y="779.35" width="14.06" height="4.63" fill="#b9cbe3"/>
<rect x="147.56" y="779.35" width="14.06" height="4.63" fill="#d02c2c"/>
<rect x="161.32" y="779.35" width="14.06" height="4.63" fill="#d0dcec"/>
<rect x="175.08" y="779.35" width="14.06" height="4.63" fill="#d0dcec"/>
<rect x="188.84" y="779.35" width="14.06" height="4.63" fill="#f8dfdf"/>
<rect x="202.60" y="779.35" width="14.06" height="4.63" fill="#a2bada"/>
<rect x="216.36" y="779.35" width="14.06" height="4.63" fill="#ffffff"/>
<rect x="230.12" y="779.35" width="14.06" height="4.63" fill="#e8eef6"/>
<rect x="243.88" y="779.35" width="14.06" height="4.63" fill="#f8dfdf"/>
<rect x="257.64" y="779.35" width="14.06" height="4.63" fill="#d0dcec"/>
<rect x="65.00" y="783.68" width="14.06" height="4.63" fill="#a2bada"/>
<rect x="78.76" y="783.68" width="14.06" height="4.63" fill="#a2bada"/>
<rect x="92.52" y="783.68" width="14.06" height="4.63" fill="#d0dcec"/>
<rect x="106.28" y="783.68" width="14.06" height="4.63" fill="#e07575"/>
<rect x="120.04" y="783.68" width="14.06" height="4.63" fill="#f2c2c2"/>
<rect x="133.80" y="783.68" width="14.06" height="4.63" fill="#db5c5c"/>
<rect x="147.56" y="783.68" width="14.06" height="4.63" fill="#d0dcec"/>
<rect x="161.32" y="783.68" width="14.06" height="4.63" fill="#a2bada"/>
<rect x="175.08" y="783.68" width="14.06" height="4.63" fill="#8ba9d0"/>
<rect x="188.84" y="783.68" width="14.06" height="4.63" fill="#a2bada"/>
<rect x="202.60" y="783.68" width="14.06" height="4.63" fill="#d0dcec"/>
<rect x="216.36" y="783.68" width="14.06" height="4.63" fill="#d0dcec"/>
<rect x="230.12" y="783.68" width="14.06" height="4.63" fill="#d02c2c"/>
<rect x="243.88" y="783.68" width="14.06" height="4.63" fill="#eca8a8"/>
<rect x="257.64" y="783.68" width="14.06" height="4.63" fill="#b9cbe3"/>
<rect x="65.00" y="788.01" width="14.06" height="4.63" fill="#d02c2c"/>
<rect x="78.76" y="788.01" width="14.06" height="4.63" fill="#8ba9d0"/>
<rect x="92.52" y="788.01" width="14.06" height="4.63" fill="#d0dcec"/>
<rect x="106.28" y="788.01" width="14.06" height="4.63" fill="#e8eef6"/>
<rect x="120.04" y="788.01" width="14.06" height="4.63" fill="#a2bada"/>
<rect x="133.80" y="788.01" width="14.06" height="4.63" fill="#ffffff"/>
<rect x="147.56" y="788.01" width="14.06" height="4.63" fill="#f8dfdf"/>
<rect x="161.32" y="788.01" width="14.06" height="4.63" fill="#a2bada"/>
<rect x="175.08" y="788.01" width="14.06" height="4.63" fill="#a2bada"/>
<rect x="188.84" y="788.01" width="14.06" height="4.63" fill="#d0dcec"/>
<rect x="202.60" y="788.01" width="14.06" height="4.63" fill="#d0dcec"/>
<rect x="216.36" y="788.01" width="14.06" height="4.63" fill="#f8dfdf"/>
<rect x="230.12" y="788.01" width="14.06" height="4.63" fill="#d02c2c"/>
<rect x="243.88" y="788.01" width="14.06" height="4.63" fill="#b9cbe3"/>
<rect x="257.64" y="788.01" width="14.06" height="4.63" fill="#b9cbe3"/>
<rect x="65.00" y="792.34" width="14.06" height="4.63" fill="#a2bada"/>
<rect x="78.76" y="792.34" width="14.06" height="4.63" fill="#eca8a8"/>
<rect x="92.52" y="792.34" width="14.06" height="4.63" fill="#d02c2c"/>
<rect x="106.28" y="792.34" width="14.06" height="4.63" fill="#f8dfdf"/>
<rect x="120.04" y="792.34" width="14.06" height="4.63" fill="#b9cbe3"/>
<rect x="133.80" y="792.34" width="14.06" height="4.63" fill="#db5c5c"/>
<rect x="147.56" y="792.34" width="14.06" height="4.63" fill="#a2bada"/>
<rect x="161.32" y="792.34" width="14.06" height="4.63" fill="#a2bada"/>
<rect x="175.08" y="792.34" width="14.06" height="4.63" fill="#eca8a8"/>
<rect x="188.84" y="792.34" width="14.06" height="4.63" fill="#8ba9d0"/>
<rect x="202.60" y="792.34" width="14.06" height="4.63" fill="#d0dcec"/>
<rect x="216.36" y="792.34" width="14.06" height="4.63" fill="#f8dfdf"/>
<rect x="230.12" y="792.34" width="14.06" height="4.63" fill="#b9cbe3"/>
<rect x="243.88" y="792.34" width="14.06" height="4.63" fill="#a2bada"/>
<rect x="257.64" y="792.34" width="14.06" height="4.63" fill="#a2bada"/>
<rect x="65.00" y="796.67" width="14.06" height="4.63" fill="#a2bada"/>
<rect x="78.76" y="796.67" width="14.06" height="4.63" fill="#f2c2c2"/>
<rect x="92.52" y="796.67" width="14.06" height="4.63" fill="#d02c2c"/>
<rect x="106.28" y="796.67" width="14.06" height="4.63" fill="#e07575"/>
<rect x="120.04" y="796.67" width="14.06" height="4.63" fill="#d0dcec"/>
<rect x="133.80" y="796.67" width="14.06" height="4.63" fill="#f2c2c2"/>
<rect x="147.56" y="796.67" width="14.06" height="4.63" fill="#a2bada"/>
<rect x="161.32" y="796.67" width="14.06" height="4.63" fill="#a2bada"/>
<rect x="175.08" y="796.67" width="14.06" height="4.63" fill="#d0dcec"/>
<rect x="188.84" y="796.67" width="14.06" height="4.63" fill="#d0dcec"/>
<rect x="202.60" y="796.67" width="14.06" height="4.63" fill="#a2bada"/>
<rect x="216.36" y="796.67" width="14.06" height="4.63" fill="#d0dcec"/>
<rect x="230.12" y="796.67" width="14.06" height="4.63" fill="#a2bada"/>
<rect x="243.88" y="796.67" width="14.06" height="4.63" fill="#d0dcec"/>
<rect x="257.64" y="796.67" width="14.06" height="4.63" fill="#a2bada"/>
<rect x="65.00" y="801.00" width="14.06" height="4.63" fill="#d0dcec"/>
<rect x="78.76" y="801.00" width="14.06" height="4.63" fill="#d02c2c"/>
<rect x="92.52" y="801.00" width="14.06" height="4.63" fill="#db5c5c"/>
<rect x="106.28" y="801.00" width="14.06" height="4.63" fill="#e07575"/>
<rect x="120.04" y="801.00" width="14.06" height="4.63" fill="#ffffff"/>
<rect x="133.80" y="801.00" width="14.06" height="4.63" fill="#b9cbe3"/>
<rect x="147.56" y="801.00" width="14.06" height="4.63" fill="#ffffff"/>
<rect x="161.32" y="801.00" width="14.06" height="4.63" fill="#d0dcec"/>
<rect x="175.08" y="801.00" width="14.06" height="4.63" fill="#8ba9d0"/>
<rect x="188.84" y="801.00" width="14.06" height="4.63" fill="#f8dfdf"/>
<rect x="202.60" y="801.00" width="14.06" height="4.63" fill="#a2bada"/>
<rect x="216.36" y="801.00" width="14.06" height="4.63" fill="#b9cbe3"/>
<rect x="230.12" y="801.00" width="14.06" height="4.63" fill="#7498c7"/>
<rect x="243.88" y="801.00" width="14.06" height="4.63" fill="#8ba9d0"/>
<rect x="257.64" y="801.00" width="14.06" height="4.63" fill="#ffffff"/>
<rect x="65.00" y="805.33" width="14.06" height="4.63" fill="#b9cbe3"/>
<rect x="78.76" y="805.33" width="14.06" height="4.63" fill="#f8dfdf"/>
<rect x="92.52" y="805.33" width="14.06" height="4.63" fill="#f2c2c2"/>
<rect x="106.28" y="805.33" width="14.06" height="4.63" fill="#d02c2c"/>
<rect x="120.04" y="805.33" width="14.06" height="4.63" fill="#f8dfdf"/>
<rect x="133.80" y="805.33" width="14.06" height="4.63" fill="#b9cbe3"/>
<rect x="147.56" y="805.33" width="14.06" height="4.63" fill="#a2bada"/>
<rect x="161.32" y="805.33" width="14.06" height="4.63" fill="#d0dcec"/>
<rect x="175.08" y="805.33" width="14.06" height="4.63" fill="#b9cbe3"/>
<rect x="188.84" y="805.33" width="14.06" height="4.63" fill="#b9cbe3"/>
<rect x="202.60" y="805.33" width="14.06" height="4.63" fill="#e8eef6"/>
<rect x="216.36" y="805.33" width="14.06" height="4.63" fill="#f8dfdf"/>
<rect x="230.12" y="805.33" width="14.06" height="4.63" fill="#a2bada"/>
<rect x="243.88" y="805.33" width="14.06" height="4.63" fill="#b9cbe3"/>
<rect x="257.64" y="805.33" width="14.06" height="4.63" fill="#b9cbe3"/>
<rect x="65.00" y="809.66" width="14.06" height="4.63" fill="#e8eef6"/>
<rect x="78.76" y="809.66" width="14.06" height="4.63" fill="#eca8a8"/>
<rect x="92.52" y="809.66" width="14.06" height="4.63" fill="#8ba9d0"/>
<rect x="106.28" y="809.66" width="14.06" height="4.63" fill="#e68e8e"/>
<rect x="120.04" y="809.66" width="14.06" height="4.63" fill="#f8dfdf"/>
<rect x="133.80" y="809.66" width="14.06" height="4.63" fill="#b9cbe3"/>
<rect x="147.56" y="809.66" width="14.06" height="4.63" fill="#d02c2c"/>
<rect x="161.32" y="809.66" width="14.06" height="4.63" fill="#eca8a8"/>
<rect x="175.08" y="809.66" width="14.06" height="4.63" fill="#e68e8e"/>
<rect x="188.84" y="809.66" width="14.06" height="4.63" fill="#b9cbe3"/>
<rect x="202.60" y="809.66" width="14.06" height="4.63" fill="#b9cbe3"/>
<rect x="216.36" y="809.66" width="14.06" height="4.63" fill="#8ba9d0"/>
<rect x="230.12" y="809.66" width="14.06" height="4.63" fill="#8ba9d0"/>
<rect x="243.88" y="809.66" width="14.06" height="4.63" fill="#b9cbe3"/>
<rect x="257.64" y="809.66" width="14.06" height="4.63" fill="#b9cbe3"/>
<rect x="65.00" y="813.99" width="14.06" height="4.63" fill="#d54444"/>
<rect x="78.76" y="813.99" width="14.06" height="4.63" fill="#eca8a8"/>
<rect x="92.52" y="813.99" width="14.06" height="4.63" fill="#d0dcec"/>
<rect x="106.28" y="813.99" width="14.06" height="4.63" fill="#d02c2c"/>
<rect x="120.04" y="813.99" width="14.06" height="4.63" fill="#e8eef6"/>
<rect x="133.80" y="813.99" width="14.06" height="4.63" fill="#d0dcec"/>
<rect x="147.56" y="813.99" width="14.06" height="4.63" fill="#d0dcec"/>
<rect x="161.32" y="813.99" width="14.06" height="4.63" fill="#a2bada"/>
<rect x="175.08" y="813.99" width="14.06" height="4.63" fill="#a2bada"/>
<rect x="188.84" y="813.99" width="14.06" height="4.63" fill="#b9cbe3"/>
<rect x="202.60" y="813.99" width="14.06" height="4.63" fill="#a2bada"/>
<rect x="216.36" y="813.99" width="14.06" height="4.63" fill="#e8eef6"/>
<rect x="230.12" y="813.99" width="14.06" height="4.63" fill="#b9cbe3"/>
<rect x="243.88" y="813.99" width="14.06" height="4.63" fill="#b9cbe3"/>
<rect x="257.64" y="813.99" width="14.06" height="4.63" fill="#b9cbe3"/>
<rect x="65.00" y="818.32" width="14.06" height="4.63" fill="#d02c2c"/>
<rect x="78.76" y="818.32" width="14.06" height="4.63" fill="#f2c2c2"/>
<rect x="92.52" y="818.32" width="14.06" height="4.63" fill="#a2bada"/>
<rect x="106.28" y="818.32" width="14.06" height="4.63" fill="#f2c2c2"/>
<rect x="120.04" y="818.32" width="14.06" height="4.63" fill="#a2bada"/>
<rect x="133.80" y="818.32" width="14.06" height="4.63" fill="#a2bada"/>
<rect x="147.56" y="818.32" width="14.06" height="4.63" fill="#e68e8e"/>
<rect x="161.32" y="818.32" width="14.06" height="4.63" fill="#e68e8e"/>
<rect x="175.08" y="818.32" width="14.06" height="4.63" fill="#7498c7"/>
<rect x="188.84" y="818.32" width="14.06" height="4.63" fill="#d0dcec"/>
<rect x="202.60" y="818.32" width="14.06" height="4.63" fill="#a2bada"/>
<rect x="216.36" y="818.32" width="14.06" height="4.63" fill="#d0dcec"/>
<rect x="230.12" y="818.32" width="14.06" height="4.63" fill="#8ba9d0"/>
<rect x="243.88" y="818.32" width="14.06" height="4.63" fill="#f2c2c2"/>
<rect x="257.64" y="818.32" width="14.06" height="4.63" fill="#ffffff"/>
<rect x="65.00" y="621.00" width="151.36" height="4.6" fill="#D98E6E"/>
<rect x="216.36" y="621.00" width="55.04" height="4.6" fill="#4CA852"/>
<path d="M78.76 621.00v4.6" stroke="#fff" stroke-width="0.25" stroke-opacity="0.6"/>
<path d="M92.52 621.00v4.6" stroke="#fff" stroke-width="0.25" stroke-opacity="0.6"/>
<path d="M106.28 621.00v4.6" stroke="#fff" stroke-width="0.25" stroke-opacity="0.6"/>
<path d="M120.04 621.00v4.6" stroke="#fff" stroke-width="0.25" stroke-opacity="0.6"/>
<path d="M133.80 621.00v4.6" stroke="#fff" stroke-width="0.25" stroke-opacity="0.6"/>
<path d="M147.56 621.00v4.6" stroke="#fff" stroke-width="0.25" stroke-opacity="0.6"/>
<path d="M161.32 621.00v4.6" stroke="#fff" stroke-width="0.25" stroke-opacity="0.6"/>
<path d="M175.08 621.00v4.6" stroke="#fff" stroke-width="0.25" stroke-opacity="0.6"/>
<path d="M188.84 621.00v4.6" stroke="#fff" stroke-width="0.25" stroke-opacity="0.6"/>
<path d="M202.60 621.00v4.6" stroke="#fff" stroke-width="0.25" stroke-opacity="0.6"/>
<path d="M216.36 621.00v4.6" stroke="#fff" stroke-width="0.25" stroke-opacity="0.6"/>
<path d="M230.12 621.00v4.6" stroke="#fff" stroke-width="0.25" stroke-opacity="0.6"/>
<path d="M243.88 621.00v4.6" stroke="#fff" stroke-width="0.25" stroke-opacity="0.6"/>
<path d="M257.64 621.00v4.6" stroke="#fff" stroke-width="0.25" stroke-opacity="0.6"/>
<text x="273.80" y="625.30" font-size="5.2" fill="#222" transform="rotate(0.04 273.80 625.30)" stroke="#222" stroke-width="0.250">Age</text>
<text x="273.80" y="631.89" font-size="4.78" fill="#222" transform="rotate(0.04 273.80 631.89)" stroke="#222" stroke-width="0.239">HPGDS</text>
<text x="273.80" y="636.22" font-size="4.78" fill="#222" transform="rotate(0.04 273.80 636.22)" stroke="#222" stroke-width="0.239">MNDA</text>
<text x="273.80" y="640.55" font-size="4.78" fill="#222" transform="rotate(0.04 273.80 640.55)" stroke="#222" stroke-width="0.239">P2RY13</text>
<text x="273.80" y="644.88" font-size="4.78" fill="#222" transform="rotate(0.04 273.80 644.88)" stroke="#222" stroke-width="0.239">PLD4</text>
<text x="273.80" y="649.21" font-size="4.78" fill="#222" transform="rotate(0.04 273.80 649.21)" stroke="#222" stroke-width="0.239">FCER1A</text>
<text x="273.80" y="653.54" font-size="4.78" fill="#222" transform="rotate(0.04 273.80 653.54)" stroke="#222" stroke-width="0.239">HLA−DQB2</text>
<text x="273.80" y="657.87" font-size="4.78" fill="#222" transform="rotate(0.04 273.80 657.87)" stroke="#222" stroke-width="0.239">FPR3</text>
<text x="273.80" y="662.20" font-size="4.78" fill="#222" transform="rotate(0.04 273.80 662.20)" stroke="#222" stroke-width="0.239">S100A9</text>
<text x="273.80" y="666.53" font-size="4.78" fill="#222" transform="rotate(0.04 273.80 666.53)" stroke="#222" stroke-width="0.239">OLR1</text>
<text x="273.80" y="670.86" font-size="4.78" fill="#222" transform="rotate(0.04 273.80 670.86)" stroke="#222" stroke-width="0.239">ALOX5</text>
<text x="273.80" y="675.19" font-size="4.78" fill="#222" transform="rotate(0.04 273.80 675.19)" stroke="#222" stroke-width="0.239">S100A8</text>
<text x="273.80" y="679.52" font-size="4.78" fill="#222" transform="rotate(0.04 273.80 679.52)" stroke="#222" stroke-width="0.239">RNASE1</text>
<text x="273.80" y="683.85" font-size="4.78" fill="#222" transform="rotate(0.04 273.80 683.85)" stroke="#222" stroke-width="0.239">FOLR2</text>
<text x="273.80" y="688.18" font-size="4.78" fill="#222" transform="rotate(0.04 273.80 688.18)" stroke="#222" stroke-width="0.239">SIGLEC1</text>
<text x="273.80" y="692.51" font-size="4.78" fill="#222" transform="rotate(0.04 273.80 692.51)" stroke="#222" stroke-width="0.239">STAB1</text>
<text x="273.80" y="696.84" font-size="4.78" fill="#222" transform="rotate(0.04 273.80 696.84)" stroke="#222" stroke-width="0.239">MPEG1</text>
<text x="273.80" y="701.17" font-size="4.78" fill="#222" transform="rotate(0.04 273.80 701.17)" stroke="#222" stroke-width="0.239">MS4A4A</text>
<text x="273.80" y="705.50" font-size="4.78" fill="#222" transform="rotate(0.04 273.80 705.50)" stroke="#222" stroke-width="0.239">GAPT</text>
<text x="273.80" y="709.83" font-size="4.78" fill="#222" transform="rotate(0.04 273.80 709.83)" stroke="#222" stroke-width="0.239">IL1B</text>
<text x="273.80" y="714.16" font-size="4.78" fill="#222" transform="rotate(0.04 273.80 714.16)" stroke="#222" stroke-width="0.239">LILRB2</text>
<text x="273.80" y="718.49" font-size="4.78" fill="#222" transform="rotate(0.04 273.80 718.49)" stroke="#222" stroke-width="0.239">CX3CR1</text>
<text x="273.80" y="722.82" font-size="4.78" fill="#222" transform="rotate(0.04 273.80 722.82)" stroke="#222" stroke-width="0.239">SLAMF8</text>
<text x="273.80" y="727.15" font-size="4.78" fill="#222" transform="rotate(0.04 273.80 727.15)" stroke="#222" stroke-width="0.239">KCNMA1</text>
<text x="273.80" y="731.48" font-size="4.78" fill="#222" transform="rotate(0.04 273.80 731.48)" stroke="#222" stroke-width="0.239">AOAH</text>
<text x="273.80" y="735.81" font-size="4.78" fill="#222" transform="rotate(0.04 273.80 735.81)" stroke="#222" stroke-width="0.239">C2</text>
<text x="273.80" y="740.14" font-size="4.78" fill="#222" transform="rotate(0.04 273.80 740.14)" stroke="#222" stroke-width="0.239">LAT2</text>
<text x="273.80" y="744.47" font-size="4.78" fill="#222" transform="rotate(0.04 273.80 744.47)" stroke="#222" stroke-width="0.239">CLEC5A</text>
<text x="273.80" y="748.80" font-size="4.78" fill="#222" transform="rotate(0.04 273.80 748.80)" stroke="#222" stroke-width="0.239">TRPM4</text>
<text x="273.80" y="753.13" font-size="4.78" fill="#222" transform="rotate(0.04 273.80 753.13)" stroke="#222" stroke-width="0.239">SPP1</text>
<text x="273.80" y="757.46" font-size="4.78" fill="#222" transform="rotate(0.04 273.80 757.46)" stroke="#222" stroke-width="0.239">CIITA</text>
<text x="273.80" y="761.79" font-size="4.78" fill="#222" transform="rotate(0.04 273.80 761.79)" stroke="#222" stroke-width="0.239">IL4I1</text>
<text x="273.80" y="766.12" font-size="4.78" fill="#222" transform="rotate(0.04 273.80 766.12)" stroke="#222" stroke-width="0.239">C15orf48</text>
<text x="273.80" y="770.45" font-size="4.78" fill="#222" transform="rotate(0.04 273.80 770.45)" stroke="#222" stroke-width="0.239">GM2A</text>
<text x="273.80" y="774.78" font-size="4.78" fill="#222" transform="rotate(0.04 273.80 774.78)" stroke="#222" stroke-width="0.239">DMXL2</text>
<text x="273.80" y="779.11" font-size="4.78" fill="#222" transform="rotate(0.04 273.80 779.11)" stroke="#222" stroke-width="0.239">MERTK</text>
<text x="273.80" y="783.44" font-size="4.78" fill="#222" transform="rotate(0.04 273.80 783.44)" stroke="#222" stroke-width="0.239">OLFML3</text>
<text x="273.80" y="787.77" font-size="4.78" fill="#222" transform="rotate(0.04 273.80 787.77)" stroke="#222" stroke-width="0.239">B3GNT5</text>
<text x="273.80" y="792.10" font-size="4.78" fill="#222" transform="rotate(0.04 273.80 792.10)" stroke="#222" stroke-width="0.239">PLA2G7</text>
<text x="273.80" y="796.43" font-size="4.78" fill="#222" transform="rotate(0.04 273.80 796.43)" stroke="#222" stroke-width="0.239">NPL</text>
<text x="273.80" y="800.76" font-size="4.78" fill="#222" transform="rotate(0.04 273.80 800.76)" stroke="#222" stroke-width="0.239">PHACTR1</text>
<text x="273.80" y="805.09" font-size="4.78" fill="#222" transform="rotate(0.04 273.80 805.09)" stroke="#222" stroke-width="0.239">ARHGAP24</text>
<text x="273.80" y="809.42" font-size="4.78" fill="#222" transform="rotate(0.04 273.80 809.42)" stroke="#222" stroke-width="0.239">CEBPA</text>
<text x="273.80" y="813.75" font-size="4.78" fill="#222" transform="rotate(0.04 273.80 813.75)" stroke="#222" stroke-width="0.239">TMEM51</text>
<text x="273.80" y="818.08" font-size="4.78" fill="#222" transform="rotate(0.04 273.80 818.08)" stroke="#222" stroke-width="0.239">FCGBP</text>
<text x="273.80" y="822.41" font-size="4.78" fill="#222" transform="rotate(0.04 273.80 822.41)" stroke="#222" stroke-width="0.239">NDRG2</text>
<path d="M64.50 629.96H62.17V634.29H64.50 M62.17 632.13H61.25V638.62H64.50 M64.50 642.95H62.81V647.28H64.50 M62.81 645.12H61.53V651.61H64.50 M61.25 635.38H59.10V648.37H61.53 M64.50 655.94H60.18V660.27H64.50 M64.50 664.60H60.95V668.93H64.50 M60.18 658.11H58.50V666.77H60.95 M59.10 641.87H54.80V662.44H58.50 M64.50 673.26H61.73V677.59H64.50 M61.73 675.43H60.32V681.92H64.50 M64.50 686.25H61.35V690.58H64.50 M61.35 688.42H59.27V694.91H64.50 M60.32 678.68H56.00V691.67H59.27 M64.50 699.24H61.31V703.57H64.50 M61.31 701.41H58.89V707.90H64.50 M64.50 712.23H59.87V716.56H64.50 M58.89 704.66H55.40V714.40H59.87 M56.00 685.17H52.30V709.53H55.40 M54.80 652.16H51.70V697.35H52.30 M64.50 742.54H63.56V746.87H64.50 M64.50 738.21H63.03V744.71H63.56 M64.50 733.88H62.52V741.46H63.03 M64.50 729.55H61.82V737.67H62.52 M64.50 725.22H60.66V733.61H61.82 M64.50 720.89H57.40V729.42H60.66 M64.50 764.19H61.85V768.52H64.50 M64.50 759.86H60.40V766.36H61.85 M64.50 755.53H57.50V763.11H60.40 M64.50 751.20H55.10V759.32H57.50 M57.40 725.16H49.20V755.26H55.10 M64.50 772.85H58.28V777.18H64.50 M58.28 775.02H55.32V781.51H64.50 M64.50 785.84H57.13V790.17H64.50 M55.32 778.27H52.40V788.01H57.13 M64.50 794.50H58.84V798.83H64.50 M64.50 803.16H59.48V807.49H64.50 M58.84 796.67H55.95V805.33H59.48 M64.50 811.82H60.08V816.15H64.50 M60.08 813.99H56.80V820.48H64.50 M55.95 801.00H49.20V817.24H56.80 M52.40 783.14H43.00V809.12H49.20 M49.20 740.21H34.50V796.13H43.00 M51.70 674.75H14.30V768.17H34.50" stroke="#111" stroke-width="0.85" fill="none"/>
<text x="302.20" y="627.60" font-size="5.6" fill="#111" transform="rotate(0.04 302.20 627.60)" stroke="#111" stroke-width="0.250">Age</text>
<rect x="302.2" y="629.10" width="8.3" height="6.80" fill="#4CA852"/>
<text x="312.20" y="634.40" font-size="5.6" fill="#111" transform="rotate(0.04 312.20 634.40)" stroke="#111" stroke-width="0.250">Young</text>
<rect x="302.2" y="635.80" width="8.3" height="6.70" fill="#D98E6E"/>
<text x="312.20" y="640.70" font-size="5.6" fill="#111" transform="rotate(0.04 312.20 640.70)" stroke="#111" stroke-width="0.250">Old</text>
<text x="298.80" y="659.00" font-size="5.45" fill="#111" transform="rotate(0.04 298.80 659.00)" stroke="#111" stroke-width="0.250">Expression Z-score</text>
<rect x="302.2" y="663.50" width="8.3" height="2.76" fill="#d33838"/>
<rect x="302.2" y="666.06" width="8.3" height="2.76" fill="#d85050"/>
<rect x="302.2" y="668.63" width="8.3" height="2.76" fill="#dd6868"/>
<rect x="302.2" y="671.19" width="8.3" height="2.76" fill="#e38181"/>
<rect x="302.2" y="673.76" width="8.3" height="2.76" fill="#e99b9b"/>
<rect x="302.2" y="676.32" width="8.3" height="2.76" fill="#efb5b5"/>
<rect x="302.2" y="678.89" width="8.3" height="2.76" fill="#f5d0d0"/>
<rect x="302.2" y="681.45" width="8.3" height="2.76" fill="#fbeeee"/>
<rect x="302.2" y="684.01" width="8.3" height="2.76" fill="#f3f6fa"/>
<rect x="302.2" y="686.58" width="8.3" height="2.76" fill="#dce5f1"/>
<rect x="302.2" y="689.14" width="8.3" height="2.76" fill="#c5d4e8"/>
<rect x="302.2" y="691.71" width="8.3" height="2.76" fill="#aec3de"/>
<rect x="302.2" y="694.27" width="8.3" height="2.76" fill="#96b1d5"/>
<rect x="302.2" y="696.84" width="8.3" height="2.76" fill="#7fa0cb"/>
<text x="313.00" y="666.00" font-size="4.4" fill="#333" transform="rotate(0.04 313.00 666.00)" stroke="#333" stroke-width="0.220">2</text>
<text x="313.00" y="670.60" font-size="4.4" fill="#333" transform="rotate(0.04 313.00 670.60)" stroke="#333" stroke-width="0.220">1.5</text>
<text x="313.00" y="676.10" font-size="4.4" fill="#333" transform="rotate(0.04 313.00 676.10)" stroke="#333" stroke-width="0.220">1</text>
<text x="313.00" y="680.60" font-size="4.4" fill="#333" transform="rotate(0.04 313.00 680.60)" stroke="#333" stroke-width="0.220">0.5</text>
<text x="313.00" y="685.60" font-size="4.4" fill="#333" transform="rotate(0.04 313.00 685.60)" stroke="#333" stroke-width="0.220">0</text>
<text x="313.00" y="691.20" font-size="4.4" fill="#333" transform="rotate(0.04 313.00 691.20)" stroke="#333" stroke-width="0.220">−0.5</text>
<text x="313.00" y="695.90" font-size="4.4" fill="#333" transform="rotate(0.04 313.00 695.90)" stroke="#333" stroke-width="0.220">−1</text>
<text x="313.00" y="700.80" font-size="4.4" fill="#333" transform="rotate(0.04 313.00 700.80)" stroke="#333" stroke-width="0.220">−1.5</text>
<path d="M376.00 415.50V473.50H436.00" stroke="#333" stroke-width="0.7" fill="none"/>
<path d="M375.00 430.50H376.00" stroke="#444" stroke-width="0.45"/>
<text x="373.00" y="431.70" font-size="3.5" fill="#666" text-anchor="end" transform="rotate(0.04 373.00 431.70)" stroke="#666" stroke-width="0.175">1.5</text>
<path d="M375.00 447.10H376.00" stroke="#444" stroke-width="0.45"/>
<text x="373.00" y="448.30" font-size="3.5" fill="#666" text-anchor="end" transform="rotate(0.04 373.00 448.30)" stroke="#666" stroke-width="0.175">1.0</text>
<path d="M375.00 464.50H376.00" stroke="#444" stroke-width="0.45"/>
<text x="373.00" y="465.70" font-size="3.5" fill="#666" text-anchor="end" transform="rotate(0.04 373.00 465.70)" stroke="#666" stroke-width="0.175">0.5</text>
<text x="407.60" y="409.00" font-size="7.0" fill="#C8253A" text-anchor="middle" font-weight="bold" transform="rotate(0.04 407.60 409.00)">OLR1</text>
<path d="M392.40 461.60V470.40" stroke="#333" stroke-width="0.7"/><path d="M387.00 470.40h10.80" stroke="#777" stroke-width="0.85"/><rect x="387.00" y="447.60" width="10.80" height="14.00" fill="#3E5558" stroke="#222" stroke-width="0.65"/><path d="M387.00 452.10h10.80" stroke="#222" stroke-width="0.9"/>
<path d="M419.40 428.40V433.40M414.00 428.40h10.80" stroke="#333" stroke-width="0.7"/><path d="M419.40 444.80V450.80" stroke="#333" stroke-width="0.7"/><path d="M414.00 450.80h10.80" stroke="#777" stroke-width="0.85"/><rect x="414.00" y="433.40" width="10.80" height="11.40" fill="#D98E45" stroke="#222" stroke-width="0.65"/><path d="M414.00 440.40h10.80" stroke="#222" stroke-width="0.9"/>
<path d="M392.40 473.50v1M419.40 473.50v1" stroke="#333" stroke-width="0.4"/>
<text x="392.40" y="479.60" font-size="5.1" fill="#333" text-anchor="middle" transform="rotate(0.04 392.40 479.60)" stroke="#333" stroke-width="0.250">Old</text>
<text x="419.40" y="479.60" font-size="5.1" fill="#333" text-anchor="middle" transform="rotate(0.04 419.40 479.60)" stroke="#333" stroke-width="0.250">Young</text>
<path d="M392.40 419.10V417.60H419.40V419.10" stroke="#333" stroke-width="0.6" fill="none"/>
<text x="405.90" y="418.40" font-size="5.8" fill="#222" text-anchor="middle" font-weight="bold" transform="rotate(0.04 405.90 418.40)">*</text>
<path d="M447.60 415.50V473.50H510.00" stroke="#333" stroke-width="0.7" fill="none"/>
<path d="M446.60 425.10H447.60" stroke="#444" stroke-width="0.45"/>
<text x="444.60" y="426.30" font-size="3.5" fill="#666" text-anchor="end" transform="rotate(0.04 444.60 426.30)" stroke="#666" stroke-width="0.175">6</text>
<path d="M446.60 441.10H447.60" stroke="#444" stroke-width="0.45"/>
<text x="444.60" y="442.30" font-size="3.5" fill="#666" text-anchor="end" transform="rotate(0.04 444.60 442.30)" stroke="#666" stroke-width="0.175">4</text>
<path d="M446.60 457.20H447.60" stroke="#444" stroke-width="0.45"/>
<text x="444.60" y="458.40" font-size="3.5" fill="#666" text-anchor="end" transform="rotate(0.04 444.60 458.40)" stroke="#666" stroke-width="0.175">2</text>
<text x="481.80" y="409.00" font-size="7.0" fill="#C8253A" text-anchor="middle" font-weight="bold" transform="rotate(0.04 481.80 409.00)">SIGLEC1</text>
<path d="M464.50 459.80V464.80M459.10 459.80h10.80" stroke="#333" stroke-width="0.7"/><rect x="459.10" y="464.80" width="10.80" height="5.60" fill="#3E5558" stroke="#222" stroke-width="0.65"/><path d="M459.10 466.80h10.80" stroke="#222" stroke-width="0.9"/>
<path d="M493.10 463.60V469.50" stroke="#333" stroke-width="0.7"/><path d="M487.70 469.50h10.80" stroke="#777" stroke-width="0.85"/><rect x="487.70" y="447.30" width="10.80" height="16.30" fill="#D98E45" stroke="#222" stroke-width="0.65"/><path d="M487.70 453.40h10.80" stroke="#222" stroke-width="0.9"/>
<path d="M464.50 473.50v1M493.10 473.50v1" stroke="#333" stroke-width="0.4"/>
<text x="464.50" y="479.60" font-size="5.1" fill="#333" text-anchor="middle" transform="rotate(0.04 464.50 479.60)" stroke="#333" stroke-width="0.250">Old</text>
<text x="493.10" y="479.60" font-size="5.1" fill="#333" text-anchor="middle" transform="rotate(0.04 493.10 479.60)" stroke="#333" stroke-width="0.250">Young</text>
<path d="M464.50 418.80V417.30H493.10V418.80" stroke="#333" stroke-width="0.6" fill="none"/>
<text x="478.80" y="418.10" font-size="5.8" fill="#222" text-anchor="middle" font-weight="bold" transform="rotate(0.04 478.80 418.10)">*</text>
<path d="M524.40 415.50V473.50H584.00" stroke="#333" stroke-width="0.7" fill="none"/>
<path d="M523.40 416.80H524.40" stroke="#444" stroke-width="0.45"/>
<text x="521.40" y="418.00" font-size="3.5" fill="#666" text-anchor="end" transform="rotate(0.04 521.40 418.00)" stroke="#666" stroke-width="0.175">10</text>
<path d="M523.40 431.00H524.40" stroke="#444" stroke-width="0.45"/>
<text x="521.40" y="432.20" font-size="3.5" fill="#666" text-anchor="end" transform="rotate(0.04 521.40 432.20)" stroke="#666" stroke-width="0.175">8</text>
<path d="M523.40 444.10H524.40" stroke="#444" stroke-width="0.45"/>
<text x="521.40" y="445.30" font-size="3.5" fill="#666" text-anchor="end" transform="rotate(0.04 521.40 445.30)" stroke="#666" stroke-width="0.175">6</text>
<path d="M523.40 457.50H524.40" stroke="#444" stroke-width="0.45"/>
<text x="521.40" y="458.70" font-size="3.5" fill="#666" text-anchor="end" transform="rotate(0.04 521.40 458.70)" stroke="#666" stroke-width="0.175">4</text>
<path d="M523.40 471.40H524.40" stroke="#444" stroke-width="0.45"/>
<text x="521.40" y="472.60" font-size="3.5" fill="#666" text-anchor="end" transform="rotate(0.04 521.40 472.60)" stroke="#666" stroke-width="0.175">2</text>
<text x="553.50" y="409.00" font-size="7.0" fill="#111" text-anchor="middle" transform="rotate(0.04 553.50 409.00)" stroke="#111" stroke-width="0.250">STAB1</text>
<path d="M541.00 432.20V447.90M535.60 432.20h10.80" stroke="#333" stroke-width="0.7"/><path d="M541.00 462.80V470.20" stroke="#333" stroke-width="0.7"/><path d="M535.60 470.20h10.80" stroke="#777" stroke-width="0.85"/><rect x="535.60" y="447.90" width="10.80" height="14.90" fill="#3E5558" stroke="#222" stroke-width="0.65"/><path d="M535.60 460.30h10.80" stroke="#222" stroke-width="0.9"/>
<path d="M568.30 419.30V425.30M562.90 419.30h10.80" stroke="#333" stroke-width="0.7"/><path d="M568.30 441.40V457.50" stroke="#333" stroke-width="0.7"/><path d="M562.90 457.50h10.80" stroke="#777" stroke-width="0.85"/><rect x="562.90" y="425.30" width="10.80" height="16.10" fill="#D98E45" stroke="#222" stroke-width="0.65"/><path d="M562.90 425.80h10.80" stroke="#222" stroke-width="0.9"/>
<path d="M541.00 473.50v1M568.30 473.50v1" stroke="#333" stroke-width="0.4"/>
<text x="541.00" y="479.60" font-size="5.1" fill="#333" text-anchor="middle" transform="rotate(0.04 541.00 479.60)" stroke="#333" stroke-width="0.250">Old</text>
<text x="568.30" y="479.60" font-size="5.1" fill="#333" text-anchor="middle" transform="rotate(0.04 568.30 479.60)" stroke="#333" stroke-width="0.250">Young</text>
<path d="M541.00 418.80V417.30H568.30V418.80" stroke="#333" stroke-width="0.6" fill="none"/>
<text x="554.65" y="418.10" font-size="5.8" fill="#222" text-anchor="middle" font-weight="bold" transform="rotate(0.04 554.65 418.10)">*</text>
<path d="M597.40 415.50V473.50H659.50" stroke="#333" stroke-width="0.7" fill="none"/>
<path d="M596.40 417.30H597.40" stroke="#444" stroke-width="0.45"/>
<text x="594.40" y="418.50" font-size="3.5" fill="#666" text-anchor="end" transform="rotate(0.04 594.40 418.50)" stroke="#666" stroke-width="0.175">8</text>
<path d="M596.40 431.00H597.40" stroke="#444" stroke-width="0.45"/>
<text x="594.40" y="432.20" font-size="3.5" fill="#666" text-anchor="end" transform="rotate(0.04 594.40 432.20)" stroke="#666" stroke-width="0.175">6</text>
<path d="M596.40 444.10H597.40" stroke="#444" stroke-width="0.45"/>
<text x="594.40" y="445.30" font-size="3.5" fill="#666" text-anchor="end" transform="rotate(0.04 594.40 445.30)" stroke="#666" stroke-width="0.175">4</text>
<path d="M596.40 457.00H597.40" stroke="#444" stroke-width="0.45"/>
<text x="594.40" y="458.20" font-size="3.5" fill="#666" text-anchor="end" transform="rotate(0.04 594.40 458.20)" stroke="#666" stroke-width="0.175">2</text>
<path d="M596.40 470.00H597.40" stroke="#444" stroke-width="0.45"/>
<text x="594.40" y="471.20" font-size="3.5" fill="#666" text-anchor="end" transform="rotate(0.04 594.40 471.20)" stroke="#666" stroke-width="0.175">0</text>
<text x="629.70" y="409.00" font-size="7.0" fill="#111" text-anchor="middle" transform="rotate(0.04 629.70 409.00)" stroke="#111" stroke-width="0.250">P2RY13</text>
<path d="M614.30 454.60V457.80M608.90 454.60h10.80" stroke="#333" stroke-width="0.7"/><rect x="608.90" y="457.80" width="10.80" height="3.50" fill="#3E5558" stroke="#222" stroke-width="0.65"/><path d="M608.90 459.50h10.80" stroke="#222" stroke-width="0.9"/>
<path d="M642.30 455.30V460.00" stroke="#333" stroke-width="0.7"/><path d="M636.90 460.00h10.80" stroke="#777" stroke-width="0.85"/><rect x="636.90" y="443.90" width="10.80" height="11.40" fill="#D98E45" stroke="#222" stroke-width="0.65"/><path d="M636.90 447.90h10.80" stroke="#222" stroke-width="0.9"/>
<path d="M614.30 473.50v1M642.30 473.50v1" stroke="#333" stroke-width="0.4"/>
<text x="614.30" y="479.60" font-size="5.1" fill="#333" text-anchor="middle" transform="rotate(0.04 614.30 479.60)" stroke="#333" stroke-width="0.250">Old</text>
<text x="642.30" y="479.60" font-size="5.1" fill="#333" text-anchor="middle" transform="rotate(0.04 642.30 479.60)" stroke="#333" stroke-width="0.250">Young</text>
<path d="M614.30 419.00V417.50H642.30V419.00" stroke="#333" stroke-width="0.6" fill="none"/>
<text x="628.30" y="418.30" font-size="5.8" fill="#222" text-anchor="middle" font-weight="bold" transform="rotate(0.04 628.30 418.30)">*</text>
<path d="M374.80 496.90V554.00H435.60" stroke="#333" stroke-width="0.7" fill="none"/>
<path d="M373.80 516.70H374.80" stroke="#444" stroke-width="0.45"/>
<text x="371.80" y="517.90" font-size="3.5" fill="#666" text-anchor="end" transform="rotate(0.04 371.80 517.90)" stroke="#666" stroke-width="0.175">10</text>
<path d="M373.80 539.00H374.80" stroke="#444" stroke-width="0.45"/>
<text x="371.80" y="540.20" font-size="3.5" fill="#666" text-anchor="end" transform="rotate(0.04 371.80 540.20)" stroke="#666" stroke-width="0.175">5</text>
<text x="407.60" y="493.50" font-size="7.05" fill="#111" text-anchor="middle" transform="rotate(0.04 407.60 493.50)" stroke="#111" stroke-width="0.250">FCER1A</text>
<path d="M392.20 533.40V536.60M386.80 533.40h10.80" stroke="#333" stroke-width="0.7"/><path d="M392.20 547.50V552.00" stroke="#333" stroke-width="0.7"/><path d="M386.80 552.00h10.80" stroke="#777" stroke-width="0.85"/><rect x="386.80" y="536.60" width="10.80" height="10.90" fill="#3E5558" stroke="#222" stroke-width="0.65"/><path d="M386.80 543.30h10.80" stroke="#222" stroke-width="0.9"/>
<path d="M419.20 501.00V511.80M413.80 501.00h10.80" stroke="#333" stroke-width="0.7"/><path d="M419.20 532.10V538.80" stroke="#333" stroke-width="0.7"/><path d="M413.80 538.80h10.80" stroke="#777" stroke-width="0.85"/><rect x="413.80" y="511.80" width="10.80" height="20.30" fill="#D98E45" stroke="#222" stroke-width="0.65"/><path d="M413.80 524.00h10.80" stroke="#222" stroke-width="0.9"/>
<path d="M392.20 554.00v1M419.20 554.00v1" stroke="#333" stroke-width="0.4"/>
<text x="392.20" y="560.10" font-size="5.1" fill="#333" text-anchor="middle" transform="rotate(0.04 392.20 560.10)" stroke="#333" stroke-width="0.250">Old</text>
<text x="419.20" y="560.10" font-size="5.1" fill="#333" text-anchor="middle" transform="rotate(0.04 419.20 560.10)" stroke="#333" stroke-width="0.250">Young</text>
<path d="M392.20 500.00V498.50H419.20V500.00" stroke="#333" stroke-width="0.6" fill="none"/>
<text x="405.70" y="499.30" font-size="5.8" fill="#222" text-anchor="middle" font-weight="bold" transform="rotate(0.04 405.70 499.30)">**</text>
<path d="M459.20 496.90V554.00H505.10" stroke="#333" stroke-width="0.7" fill="none"/>
<path d="M458.20 512.30H459.20" stroke="#444" stroke-width="0.45"/>
<text x="456.20" y="513.50" font-size="3.5" fill="#666" text-anchor="end" transform="rotate(0.04 456.20 513.50)" stroke="#666" stroke-width="0.175">0.9</text>
<path d="M458.20 529.10H459.20" stroke="#444" stroke-width="0.45"/>
<text x="456.20" y="530.30" font-size="3.5" fill="#666" text-anchor="end" transform="rotate(0.04 456.20 530.30)" stroke="#666" stroke-width="0.175">0.6</text>
<path d="M458.20 545.80H459.20" stroke="#444" stroke-width="0.45"/>
<text x="456.20" y="547.00" font-size="3.5" fill="#666" text-anchor="end" transform="rotate(0.04 456.20 547.00)" stroke="#666" stroke-width="0.175">0.3</text>
<text x="481.50" y="493.50" font-size="7.05" fill="#111" text-anchor="middle" transform="rotate(0.04 481.50 493.50)" stroke="#111" stroke-width="0.250">PHACTR1</text>
<path d="M468.50 525.20V537.60M463.10 525.20h10.80" stroke="#333" stroke-width="0.7"/><path d="M468.50 547.50V551.50" stroke="#333" stroke-width="0.7"/><path d="M463.10 551.50h10.80" stroke="#777" stroke-width="0.85"/><rect x="463.10" y="537.60" width="10.80" height="9.90" fill="#3E5558" stroke="#222" stroke-width="0.65"/><path d="M463.10 540.00h10.80" stroke="#222" stroke-width="0.9"/>
<path d="M496.00 501.10V513.00M490.60 501.10h10.80" stroke="#333" stroke-width="0.7"/><path d="M496.00 535.30V537.00" stroke="#333" stroke-width="0.7"/><path d="M490.60 537.00h10.80" stroke="#777" stroke-width="0.85"/><rect x="490.60" y="513.00" width="10.80" height="22.30" fill="#D98E45" stroke="#222" stroke-width="0.65"/><path d="M490.60 531.40h10.80" stroke="#222" stroke-width="0.9"/>
<path d="M468.50 554.00v1M496.00 554.00v1" stroke="#333" stroke-width="0.4"/>
<text x="468.50" y="560.10" font-size="5.1" fill="#333" text-anchor="middle" transform="rotate(0.04 468.50 560.10)" stroke="#333" stroke-width="0.250">Old</text>
<text x="496.00" y="560.10" font-size="5.1" fill="#333" text-anchor="middle" transform="rotate(0.04 496.00 560.10)" stroke="#333" stroke-width="0.250">Young</text>
<path d="M468.50 500.00V498.50H496.00V500.00" stroke="#333" stroke-width="0.6" fill="none"/>
<text x="482.25" y="499.30" font-size="5.8" fill="#222" text-anchor="middle" font-weight="bold" transform="rotate(0.04 482.25 499.30)">*</text>
<path d="M527.40 496.90V554.00H587.00" stroke="#333" stroke-width="0.7" fill="none"/>
<path d="M526.40 508.00H527.40" stroke="#444" stroke-width="0.45"/>
<text x="524.40" y="509.20" font-size="3.5" fill="#666" text-anchor="end" transform="rotate(0.04 524.40 509.20)" stroke="#666" stroke-width="0.175">2.0</text>
<path d="M526.40 520.20H527.40" stroke="#444" stroke-width="0.45"/>
<text x="524.40" y="521.40" font-size="3.5" fill="#666" text-anchor="end" transform="rotate(0.04 524.40 521.40)" stroke="#666" stroke-width="0.175">1.5</text>
<path d="M526.40 532.60H527.40" stroke="#444" stroke-width="0.45"/>
<text x="524.40" y="533.80" font-size="3.5" fill="#666" text-anchor="end" transform="rotate(0.04 524.40 533.80)" stroke="#666" stroke-width="0.175">1.0</text>
<path d="M526.40 545.30H527.40" stroke="#444" stroke-width="0.45"/>
<text x="524.40" y="546.50" font-size="3.5" fill="#666" text-anchor="end" transform="rotate(0.04 524.40 546.50)" stroke="#666" stroke-width="0.175">0.5</text>
<text x="556.00" y="493.50" font-size="7.05" fill="#111" text-anchor="middle" transform="rotate(0.04 556.00 493.50)" stroke="#111" stroke-width="0.250">LILRB2</text>
<path d="M543.60 549.50V551.20" stroke="#333" stroke-width="0.7"/><path d="M538.20 551.20h10.80" stroke="#777" stroke-width="0.85"/><rect x="538.20" y="540.30" width="10.80" height="9.20" fill="#3E5558" stroke="#222" stroke-width="0.65"/><path d="M538.20 548.80h10.80" stroke="#222" stroke-width="0.9"/>
<path d="M570.80 501.10V508.00M565.40 501.10h10.80" stroke="#333" stroke-width="0.7"/><path d="M570.80 528.40V550.20" stroke="#333" stroke-width="0.7"/><path d="M565.40 550.20h10.80" stroke="#777" stroke-width="0.85"/><rect x="565.40" y="508.00" width="10.80" height="20.40" fill="#D98E45" stroke="#222" stroke-width="0.65"/><path d="M565.40 519.00h10.80" stroke="#222" stroke-width="0.9"/>
<path d="M543.60 554.00v1M570.80 554.00v1" stroke="#333" stroke-width="0.4"/>
<text x="543.60" y="560.10" font-size="5.1" fill="#333" text-anchor="middle" transform="rotate(0.04 543.60 560.10)" stroke="#333" stroke-width="0.250">Old</text>
<text x="570.80" y="560.10" font-size="5.1" fill="#333" text-anchor="middle" transform="rotate(0.04 570.80 560.10)" stroke="#333" stroke-width="0.250">Young</text>
<path d="M543.60 500.00V498.50H570.80V500.00" stroke="#333" stroke-width="0.6" fill="none"/>
<text x="557.20" y="499.30" font-size="5.8" fill="#222" text-anchor="middle" font-weight="bold" transform="rotate(0.04 557.20 499.30)">*</text>
<path d="M600.60 496.90V554.00H659.00" stroke="#333" stroke-width="0.7" fill="none"/>
<path d="M599.60 499.10H600.60" stroke="#444" stroke-width="0.45"/>
<text x="597.60" y="500.30" font-size="3.5" fill="#666" text-anchor="end" transform="rotate(0.04 597.60 500.30)" stroke="#666" stroke-width="0.175">20</text>
<path d="M599.60 512.80H600.60" stroke="#444" stroke-width="0.45"/>
<text x="597.60" y="514.00" font-size="3.5" fill="#666" text-anchor="end" transform="rotate(0.04 597.60 514.00)" stroke="#666" stroke-width="0.175">15</text>
<path d="M599.60 526.40H600.60" stroke="#444" stroke-width="0.45"/>
<text x="597.60" y="527.60" font-size="3.5" fill="#666" text-anchor="end" transform="rotate(0.04 597.60 527.60)" stroke="#666" stroke-width="0.175">10</text>
<path d="M599.60 540.00H600.60" stroke="#444" stroke-width="0.45"/>
<text x="597.60" y="541.20" font-size="3.5" fill="#666" text-anchor="end" transform="rotate(0.04 597.60 541.20)" stroke="#666" stroke-width="0.175">5</text>
<path d="M599.60 553.70H600.60" stroke="#444" stroke-width="0.45"/>
<text x="597.60" y="554.90" font-size="3.5" fill="#666" text-anchor="end" transform="rotate(0.04 597.60 554.90)" stroke="#666" stroke-width="0.175">0</text>
<text x="629.70" y="493.50" font-size="7.05" fill="#111" text-anchor="middle" transform="rotate(0.04 629.70 493.50)" stroke="#111" stroke-width="0.250">OLFML3</text>
<path d="M616.50 524.00V527.90M611.10 524.00h10.80" stroke="#333" stroke-width="0.7"/><path d="M616.50 548.50V551.70" stroke="#333" stroke-width="0.7"/><path d="M611.10 551.70h10.80" stroke="#777" stroke-width="0.85"/><rect x="611.10" y="527.90" width="10.80" height="20.60" fill="#3E5558" stroke="#222" stroke-width="0.65"/><path d="M611.10 545.30h10.80" stroke="#222" stroke-width="0.9"/>
<path d="M644.60 501.60V518.50M639.20 501.60h10.80" stroke="#333" stroke-width="0.7"/><path d="M644.60 537.60V545.00" stroke="#333" stroke-width="0.7"/><path d="M639.20 545.00h10.80" stroke="#777" stroke-width="0.85"/><rect x="639.20" y="518.50" width="10.80" height="19.10" fill="#D98E45" stroke="#222" stroke-width="0.65"/><path d="M639.20 528.40h10.80" stroke="#222" stroke-width="0.9"/>
<path d="M616.50 554.00v1M644.60 554.00v1" stroke="#333" stroke-width="0.4"/>
<text x="616.50" y="560.10" font-size="5.1" fill="#333" text-anchor="middle" transform="rotate(0.04 616.50 560.10)" stroke="#333" stroke-width="0.250">Old</text>
<text x="644.60" y="560.10" font-size="5.1" fill="#333" text-anchor="middle" transform="rotate(0.04 644.60 560.10)" stroke="#333" stroke-width="0.250">Young</text>
<path d="M616.50 500.00V498.50H644.60V500.00" stroke="#333" stroke-width="0.6" fill="none"/>
<text x="630.55" y="499.30" font-size="5.8" fill="#222" text-anchor="middle" font-weight="bold" transform="rotate(0.04 630.55 499.30)">*</text>
<text x="359.50" y="481.50" font-size="7.0" fill="#111" text-anchor="middle" transform="rotate(-89.96 359.50 481.50)" stroke="#111" stroke-width="0.250">Gene expression (FPKM)</text>
<path d="M373.10 614.90V674.50H429.40" stroke="#333" stroke-width="0.7" fill="none"/>
<path d="M372.10 619.40H373.10" stroke="#444" stroke-width="0.45"/>
<text x="370.10" y="620.60" font-size="3.5" fill="#666" text-anchor="end" transform="rotate(0.04 370.10 620.60)" stroke="#666" stroke-width="0.175">80</text>
<path d="M372.10 633.80H373.10" stroke="#444" stroke-width="0.45"/>
<text x="370.10" y="635.00" font-size="3.5" fill="#666" text-anchor="end" transform="rotate(0.04 370.10 635.00)" stroke="#666" stroke-width="0.175">60</text>
<path d="M372.10 648.20H373.10" stroke="#444" stroke-width="0.45"/>
<text x="370.10" y="649.40" font-size="3.5" fill="#666" text-anchor="end" transform="rotate(0.04 370.10 649.40)" stroke="#666" stroke-width="0.175">40</text>
<path d="M372.10 662.50H373.10" stroke="#444" stroke-width="0.45"/>
<text x="370.10" y="663.70" font-size="3.5" fill="#666" text-anchor="end" transform="rotate(0.04 370.10 663.70)" stroke="#666" stroke-width="0.175">20</text>
<text x="400.90" y="609.50" font-size="7.0" fill="#C8253A" text-anchor="middle" font-weight="bold" transform="rotate(0.04 400.90 609.50)">OLR1</text>
<path d="M389.30 649.60V662.50M383.90 649.60h10.80" stroke="#333" stroke-width="0.7"/><rect x="383.90" y="662.50" width="10.80" height="9.50" fill="#3E5558" stroke="#222" stroke-width="0.65"/><path d="M383.90 666.30h10.80" stroke="#222" stroke-width="0.9"/>
<path d="M417.00 620.40V627.80M411.60 620.40h10.80" stroke="#333" stroke-width="0.7"/><path d="M417.00 646.00V651.40" stroke="#333" stroke-width="0.7"/><path d="M411.60 651.40h10.80" stroke="#777" stroke-width="0.85"/><rect x="411.60" y="627.80" width="10.80" height="18.20" fill="#D98E45" stroke="#222" stroke-width="0.65"/><path d="M411.60 637.20h10.80" stroke="#222" stroke-width="0.9"/>
<path d="M389.30 674.50v1M417.00 674.50v1" stroke="#333" stroke-width="0.4"/>
<text x="389.30" y="680.60" font-size="5.1" fill="#333" text-anchor="middle" transform="rotate(0.04 389.30 680.60)" stroke="#333" stroke-width="0.250">Old</text>
<text x="417.00" y="680.60" font-size="5.1" fill="#333" text-anchor="middle" transform="rotate(0.04 417.00 680.60)" stroke="#333" stroke-width="0.250">Young</text>
<path d="M389.30 619.70V618.20H417.00V619.70" stroke="#333" stroke-width="0.6" fill="none"/>
<text x="403.15" y="619.00" font-size="5.8" fill="#222" text-anchor="middle" font-weight="bold" transform="rotate(0.04 403.15 619.00)">*</text>
<path d="M450.00 614.90V674.50H500.20" stroke="#333" stroke-width="0.7" fill="none"/>
<path d="M449.00 624.10H450.00" stroke="#444" stroke-width="0.45"/>
<text x="447.00" y="625.30" font-size="3.5" fill="#666" text-anchor="end" transform="rotate(0.04 447.00 625.30)" stroke="#666" stroke-width="0.175">240</text>
<path d="M449.00 633.80H450.00" stroke="#444" stroke-width="0.45"/>
<text x="447.00" y="635.00" font-size="3.5" fill="#666" text-anchor="end" transform="rotate(0.04 447.00 635.00)" stroke="#666" stroke-width="0.175">220</text>
<path d="M449.00 643.70H450.00" stroke="#444" stroke-width="0.45"/>
<text x="447.00" y="644.90" font-size="3.5" fill="#666" text-anchor="end" transform="rotate(0.04 447.00 644.90)" stroke="#666" stroke-width="0.175">200</text>
<path d="M449.00 653.40H450.00" stroke="#444" stroke-width="0.45"/>
<text x="447.00" y="654.60" font-size="3.5" fill="#666" text-anchor="end" transform="rotate(0.04 447.00 654.60)" stroke="#666" stroke-width="0.175">180</text>
<path d="M449.00 663.50H450.00" stroke="#444" stroke-width="0.45"/>
<text x="447.00" y="664.70" font-size="3.5" fill="#666" text-anchor="end" transform="rotate(0.04 447.00 664.70)" stroke="#666" stroke-width="0.175">160</text>
<path d="M449.00 673.50H450.00" stroke="#444" stroke-width="0.45"/>
<text x="447.00" y="674.70" font-size="3.5" fill="#666" text-anchor="end" transform="rotate(0.04 447.00 674.70)" stroke="#666" stroke-width="0.175">140</text>
<text x="480.30" y="609.50" font-size="7.0" fill="#C8253A" text-anchor="middle" font-weight="bold" transform="rotate(0.04 480.30 609.50)">SIGLEC1</text>
<path d="M466.60 650.40V657.60M461.20 650.40h10.80" stroke="#333" stroke-width="0.7"/><path d="M466.60 665.80V672.50" stroke="#333" stroke-width="0.7"/><path d="M461.20 672.50h10.80" stroke="#777" stroke-width="0.85"/><rect x="461.20" y="657.60" width="10.80" height="8.20" fill="#3E5558" stroke="#222" stroke-width="0.65"/><path d="M461.20 663.30h10.80" stroke="#222" stroke-width="0.9"/>
<path d="M493.30 620.40V632.30M487.90 620.40h10.80" stroke="#333" stroke-width="0.7"/><path d="M493.30 652.60V656.60" stroke="#333" stroke-width="0.7"/><path d="M487.90 656.60h10.80" stroke="#777" stroke-width="0.85"/><rect x="487.90" y="632.30" width="10.80" height="20.30" fill="#D98E45" stroke="#222" stroke-width="0.65"/><path d="M487.90 644.20h10.80" stroke="#222" stroke-width="0.9"/>
<path d="M466.60 674.50v1M493.30 674.50v1" stroke="#333" stroke-width="0.4"/>
<text x="466.60" y="680.60" font-size="5.1" fill="#333" text-anchor="middle" transform="rotate(0.04 466.60 680.60)" stroke="#333" stroke-width="0.250">Old</text>
<text x="493.30" y="680.60" font-size="5.1" fill="#333" text-anchor="middle" transform="rotate(0.04 493.30 680.60)" stroke="#333" stroke-width="0.250">Young</text>
<path d="M466.60 619.70V618.20H493.30V619.70" stroke="#333" stroke-width="0.6" fill="none"/>
<text x="479.95" y="619.00" font-size="5.8" fill="#222" text-anchor="middle" font-weight="bold" transform="rotate(0.04 479.95 619.00)">*</text>
<path d="M527.40 614.90V674.50H587.00" stroke="#333" stroke-width="0.7" fill="none"/>
<path d="M526.40 637.20H527.40" stroke="#444" stroke-width="0.45"/>
<text x="524.40" y="638.40" font-size="3.5" fill="#666" text-anchor="end" transform="rotate(0.04 524.40 638.40)" stroke="#666" stroke-width="0.175">100</text>
<path d="M526.40 660.80H527.40" stroke="#444" stroke-width="0.45"/>
<text x="524.40" y="662.00" font-size="3.5" fill="#666" text-anchor="end" transform="rotate(0.04 524.40 662.00)" stroke="#666" stroke-width="0.175">50</text>
<text x="556.00" y="609.50" font-size="7.05" fill="#111" text-anchor="middle" transform="rotate(0.04 556.00 609.50)" stroke="#111" stroke-width="0.250">P2RY13</text>
<path d="M543.70 643.40V658.30M538.30 643.40h10.80" stroke="#333" stroke-width="0.7"/><path d="M543.70 669.00V672.50" stroke="#333" stroke-width="0.7"/><path d="M538.30 672.50h10.80" stroke="#777" stroke-width="0.85"/><rect x="538.30" y="658.30" width="10.80" height="10.70" fill="#3E5558" stroke="#222" stroke-width="0.65"/><path d="M538.30 665.00h10.80" stroke="#222" stroke-width="0.9"/>
<path d="M570.00 620.40V627.80M564.60 620.40h10.80" stroke="#333" stroke-width="0.7"/><path d="M570.00 653.40V656.60" stroke="#333" stroke-width="0.7"/><path d="M564.60 656.60h10.80" stroke="#777" stroke-width="0.85"/><rect x="564.60" y="627.80" width="10.80" height="25.60" fill="#D98E45" stroke="#222" stroke-width="0.65"/><path d="M564.60 641.00h10.80" stroke="#222" stroke-width="0.9"/>
<path d="M543.70 674.50v1M570.00 674.50v1" stroke="#333" stroke-width="0.4"/>
<text x="543.70" y="680.60" font-size="5.1" fill="#333" text-anchor="middle" transform="rotate(0.04 543.70 680.60)" stroke="#333" stroke-width="0.250">Old</text>
<text x="570.00" y="680.60" font-size="5.1" fill="#333" text-anchor="middle" transform="rotate(0.04 570.00 680.60)" stroke="#333" stroke-width="0.250">Young</text>
<path d="M543.70 619.70V618.20H570.00V619.70" stroke="#333" stroke-width="0.6" fill="none"/>
<text x="556.85" y="619.00" font-size="5.8" fill="#222" text-anchor="middle" font-weight="bold" transform="rotate(0.04 556.85 619.00)">*</text>
<path d="M600.60 614.90V674.50H659.70" stroke="#333" stroke-width="0.7" fill="none"/>
<path d="M599.60 626.00H600.60" stroke="#444" stroke-width="0.45"/>
<text x="597.60" y="627.20" font-size="3.5" fill="#666" text-anchor="end" transform="rotate(0.04 597.60 627.20)" stroke="#666" stroke-width="0.175">600</text>
<path d="M599.60 643.00H600.60" stroke="#444" stroke-width="0.45"/>
<text x="597.60" y="644.20" font-size="3.5" fill="#666" text-anchor="end" transform="rotate(0.04 597.60 644.20)" stroke="#666" stroke-width="0.175">400</text>
<path d="M599.60 659.60H600.60" stroke="#444" stroke-width="0.45"/>
<text x="597.60" y="660.80" font-size="3.5" fill="#666" text-anchor="end" transform="rotate(0.04 597.60 660.80)" stroke="#666" stroke-width="0.175">200</text>
<text x="629.70" y="609.50" font-size="7.05" fill="#111" text-anchor="middle" transform="rotate(0.04 629.70 609.50)" stroke="#111" stroke-width="0.250">ALOX5</text>
<path d="M617.40 660.00V666.30M612.00 660.00h10.80" stroke="#333" stroke-width="0.7"/><rect x="612.00" y="666.30" width="10.80" height="5.70" fill="#3E5558" stroke="#222" stroke-width="0.65"/><path d="M612.00 670.70h10.80" stroke="#222" stroke-width="0.9"/>
<path d="M644.20 620.40V636.50M638.80 620.40h10.80" stroke="#333" stroke-width="0.7"/><path d="M644.20 654.10V667.00" stroke="#333" stroke-width="0.7"/><path d="M638.80 667.00h10.80" stroke="#777" stroke-width="0.85"/><rect x="638.80" y="636.50" width="10.80" height="17.60" fill="#D98E45" stroke="#222" stroke-width="0.65"/><path d="M638.80 645.40h10.80" stroke="#222" stroke-width="0.9"/>
<path d="M617.40 674.50v1M644.20 674.50v1" stroke="#333" stroke-width="0.4"/>
<text x="617.40" y="680.60" font-size="5.1" fill="#333" text-anchor="middle" transform="rotate(0.04 617.40 680.60)" stroke="#333" stroke-width="0.250">Old</text>
<text x="644.20" y="680.60" font-size="5.1" fill="#333" text-anchor="middle" transform="rotate(0.04 644.20 680.60)" stroke="#333" stroke-width="0.250">Young</text>
<path d="M617.40 619.70V618.20H644.20V619.70" stroke="#333" stroke-width="0.6" fill="none"/>
<text x="630.80" y="619.00" font-size="5.8" fill="#222" text-anchor="middle" font-weight="bold" transform="rotate(0.04 630.80 619.00)">*</text>
<path d="M373.60 691.20V752.00H429.40" stroke="#333" stroke-width="0.7" fill="none"/>
<path d="M372.60 702.80H373.60" stroke="#444" stroke-width="0.45"/>
<text x="370.60" y="704.00" font-size="3.5" fill="#666" text-anchor="end" transform="rotate(0.04 370.60 704.00)" stroke="#666" stroke-width="0.175">100</text>
<path d="M372.60 714.00H373.60" stroke="#444" stroke-width="0.45"/>
<text x="370.60" y="715.20" font-size="3.5" fill="#666" text-anchor="end" transform="rotate(0.04 370.60 715.20)" stroke="#666" stroke-width="0.175">90</text>
<path d="M372.60 725.20H373.60" stroke="#444" stroke-width="0.45"/>
<text x="370.60" y="726.40" font-size="3.5" fill="#666" text-anchor="end" transform="rotate(0.04 370.60 726.40)" stroke="#666" stroke-width="0.175">80</text>
<path d="M372.60 736.30H373.60" stroke="#444" stroke-width="0.45"/>
<text x="370.60" y="737.50" font-size="3.5" fill="#666" text-anchor="end" transform="rotate(0.04 370.60 737.50)" stroke="#666" stroke-width="0.175">70</text>
<path d="M372.60 747.50H373.60" stroke="#444" stroke-width="0.45"/>
<text x="370.60" y="748.70" font-size="3.5" fill="#666" text-anchor="end" transform="rotate(0.04 370.60 748.70)" stroke="#666" stroke-width="0.175">60</text>
<text x="402.10" y="690.60" font-size="7.05" fill="#111" text-anchor="middle" transform="rotate(0.04 402.10 690.60)" stroke="#111" stroke-width="0.250">PLD4</text>
<path d="M389.50 729.10V736.60M384.10 729.10h10.80" stroke="#333" stroke-width="0.7"/><path d="M389.50 747.50V749.50" stroke="#333" stroke-width="0.7"/><path d="M384.10 749.50h10.80" stroke="#777" stroke-width="0.85"/><rect x="384.10" y="736.60" width="10.80" height="10.90" fill="#3E5558" stroke="#222" stroke-width="0.65"/><path d="M384.10 744.50h10.80" stroke="#222" stroke-width="0.9"/>
<path d="M416.00 727.70V732.10" stroke="#333" stroke-width="0.7"/><path d="M410.60 732.10h10.80" stroke="#777" stroke-width="0.85"/><rect x="410.60" y="718.50" width="10.80" height="9.20" fill="#D98E45" stroke="#222" stroke-width="0.65"/><path d="M410.60 725.40h10.80" stroke="#222" stroke-width="0.9"/>
<path d="M389.50 752.00v1M416.00 752.00v1" stroke="#333" stroke-width="0.4"/>
<text x="389.50" y="758.10" font-size="5.1" fill="#333" text-anchor="middle" transform="rotate(0.04 389.50 758.10)" stroke="#333" stroke-width="0.250">Old</text>
<text x="416.00" y="758.10" font-size="5.1" fill="#333" text-anchor="middle" transform="rotate(0.04 416.00 758.10)" stroke="#333" stroke-width="0.250">Young</text>
<path d="M389.50 697.50V696.00H416.00V697.50" stroke="#333" stroke-width="0.6" fill="none"/>
<text x="402.75" y="696.80" font-size="5.8" fill="#222" text-anchor="middle" font-weight="bold" transform="rotate(0.04 402.75 696.80)">*</text>
<path d="M450.50 691.20V752.00H500.20" stroke="#333" stroke-width="0.7" fill="none"/>
<path d="M449.50 703.00H450.50" stroke="#444" stroke-width="0.45"/>
<text x="447.50" y="704.20" font-size="3.5" fill="#666" text-anchor="end" transform="rotate(0.04 447.50 704.20)" stroke="#666" stroke-width="0.175">600</text>
<path d="M449.50 721.40H450.50" stroke="#444" stroke-width="0.45"/>
<text x="447.50" y="722.60" font-size="3.5" fill="#666" text-anchor="end" transform="rotate(0.04 447.50 722.60)" stroke="#666" stroke-width="0.175">400</text>
<path d="M449.50 740.00H450.50" stroke="#444" stroke-width="0.45"/>
<text x="447.50" y="741.20" font-size="3.5" fill="#666" text-anchor="end" transform="rotate(0.04 447.50 741.20)" stroke="#666" stroke-width="0.175">200</text>
<text x="480.30" y="690.60" font-size="7.05" fill="#111" text-anchor="middle" transform="rotate(0.04 480.30 690.60)" stroke="#111" stroke-width="0.250">S100A9</text>
<path d="M466.70 739.60V740.80M461.30 739.60h10.80" stroke="#333" stroke-width="0.7"/><path d="M466.70 746.50V749.00" stroke="#333" stroke-width="0.7"/><path d="M461.30 749.00h10.80" stroke="#777" stroke-width="0.85"/><rect x="461.30" y="740.80" width="10.80" height="5.70" fill="#3E5558" stroke="#222" stroke-width="0.65"/><path d="M461.30 743.30h10.80" stroke="#222" stroke-width="0.9"/>
<path d="M493.00 727.70V734.10" stroke="#333" stroke-width="0.7"/><path d="M487.60 734.10h10.80" stroke="#777" stroke-width="0.85"/><rect x="487.60" y="717.20" width="10.80" height="10.50" fill="#D98E45" stroke="#222" stroke-width="0.65"/><path d="M487.60 724.20h10.80" stroke="#222" stroke-width="0.9"/>
<path d="M466.70 752.00v1M493.00 752.00v1" stroke="#333" stroke-width="0.4"/>
<text x="466.70" y="758.10" font-size="5.1" fill="#333" text-anchor="middle" transform="rotate(0.04 466.70 758.10)" stroke="#333" stroke-width="0.250">Old</text>
<text x="493.00" y="758.10" font-size="5.1" fill="#333" text-anchor="middle" transform="rotate(0.04 493.00 758.10)" stroke="#333" stroke-width="0.250">Young</text>
<path d="M466.70 697.50V696.00H493.00V697.50" stroke="#333" stroke-width="0.6" fill="none"/>
<text x="479.85" y="696.80" font-size="5.8" fill="#222" text-anchor="middle" font-weight="bold" transform="rotate(0.04 479.85 696.80)">*</text>
<path d="M530.40 691.20V752.00H587.00" stroke="#333" stroke-width="0.7" fill="none"/>
<path d="M529.40 693.70H530.40" stroke="#444" stroke-width="0.45"/>
<text x="527.40" y="694.90" font-size="3.5" fill="#666" text-anchor="end" transform="rotate(0.04 527.40 694.90)" stroke="#666" stroke-width="0.175">1000</text>
<path d="M529.40 708.00H530.40" stroke="#444" stroke-width="0.45"/>
<text x="527.40" y="709.20" font-size="3.5" fill="#666" text-anchor="end" transform="rotate(0.04 527.40 709.20)" stroke="#666" stroke-width="0.175">750</text>
<path d="M529.40 722.70H530.40" stroke="#444" stroke-width="0.45"/>
<text x="527.40" y="723.90" font-size="3.5" fill="#666" text-anchor="end" transform="rotate(0.04 527.40 723.90)" stroke="#666" stroke-width="0.175">500</text>
<path d="M529.40 737.10H530.40" stroke="#444" stroke-width="0.45"/>
<text x="527.40" y="738.30" font-size="3.5" fill="#666" text-anchor="end" transform="rotate(0.04 527.40 738.30)" stroke="#666" stroke-width="0.175">250</text>
<path d="M529.40 751.50H530.40" stroke="#444" stroke-width="0.45"/>
<text x="527.40" y="752.70" font-size="3.5" fill="#666" text-anchor="end" transform="rotate(0.04 527.40 752.70)" stroke="#666" stroke-width="0.175">0</text>
<text x="556.70" y="690.60" font-size="7.05" fill="#111" text-anchor="middle" transform="rotate(0.04 556.70 690.60)" stroke="#111" stroke-width="0.250">S100A8</text>
<path d="M546.30 743.30V745.80M540.90 743.30h10.80" stroke="#333" stroke-width="0.7"/><path d="M546.30 749.50V750.50" stroke="#333" stroke-width="0.7"/><path d="M540.90 750.50h10.80" stroke="#777" stroke-width="0.85"/><rect x="540.90" y="745.80" width="10.80" height="3.70" fill="#3E5558" stroke="#222" stroke-width="0.65"/><path d="M540.90 747.50h10.80" stroke="#222" stroke-width="0.9"/>
<path d="M571.20 697.40V719.20M565.80 697.40h10.80" stroke="#333" stroke-width="0.7"/><path d="M571.20 740.00V742.00" stroke="#333" stroke-width="0.7"/><path d="M565.80 742.00h10.80" stroke="#777" stroke-width="0.85"/><rect x="565.80" y="719.20" width="10.80" height="20.80" fill="#D98E45" stroke="#222" stroke-width="0.65"/><path d="M565.80 732.90h10.80" stroke="#222" stroke-width="0.9"/>
<path d="M546.30 752.00v1M571.20 752.00v1" stroke="#333" stroke-width="0.4"/>
<text x="546.30" y="758.10" font-size="5.1" fill="#333" text-anchor="middle" transform="rotate(0.04 546.30 758.10)" stroke="#333" stroke-width="0.250">Old</text>
<text x="571.20" y="758.10" font-size="5.1" fill="#333" text-anchor="middle" transform="rotate(0.04 571.20 758.10)" stroke="#333" stroke-width="0.250">Young</text>
<path d="M546.30 697.00V695.50H571.20V697.00" stroke="#333" stroke-width="0.6" fill="none"/>
<text x="558.75" y="696.30" font-size="5.8" fill="#222" text-anchor="middle" font-weight="bold" transform="rotate(0.04 558.75 696.30)">**</text>
<path d="M600.60 691.20V752.00H659.00" stroke="#333" stroke-width="0.7" fill="none"/>
<path d="M599.60 696.10H600.60" stroke="#444" stroke-width="0.45"/>
<text x="597.60" y="697.30" font-size="3.5" fill="#666" text-anchor="end" transform="rotate(0.04 597.60 697.30)" stroke="#666" stroke-width="0.175">600</text>
<path d="M599.60 714.70H600.60" stroke="#444" stroke-width="0.45"/>
<text x="597.60" y="715.90" font-size="3.5" fill="#666" text-anchor="end" transform="rotate(0.04 597.60 715.90)" stroke="#666" stroke-width="0.175">400</text>
<path d="M599.60 733.40H600.60" stroke="#444" stroke-width="0.45"/>
<text x="597.60" y="734.60" font-size="3.5" fill="#666" text-anchor="end" transform="rotate(0.04 597.60 734.60)" stroke="#666" stroke-width="0.175">200</text>
<path d="M599.60 752.00H600.60" stroke="#444" stroke-width="0.45"/>
<text x="597.60" y="753.20" font-size="3.5" fill="#666" text-anchor="end" transform="rotate(0.04 597.60 753.20)" stroke="#666" stroke-width="0.175">0</text>
<text x="629.70" y="690.60" font-size="7.05" fill="#111" text-anchor="middle" transform="rotate(0.04 629.70 690.60)" stroke="#111" stroke-width="0.250">MNDA</text>
<path d="M617.00 742.00V743.80M611.60 742.00h10.80" stroke="#333" stroke-width="0.7"/><path d="M617.00 748.30V749.50" stroke="#333" stroke-width="0.7"/><path d="M611.60 749.50h10.80" stroke="#777" stroke-width="0.85"/><rect x="611.60" y="743.80" width="10.80" height="4.50" fill="#3E5558" stroke="#222" stroke-width="0.65"/><path d="M611.60 745.80h10.80" stroke="#222" stroke-width="0.9"/>
<path d="M643.80 734.10V735.10" stroke="#333" stroke-width="0.7"/><path d="M638.40 735.10h10.80" stroke="#777" stroke-width="0.85"/><rect x="638.40" y="719.70" width="10.80" height="14.40" fill="#D98E45" stroke="#222" stroke-width="0.65"/><path d="M638.40 730.40h10.80" stroke="#222" stroke-width="0.9"/>
<path d="M617.00 752.00v1M643.80 752.00v1" stroke="#333" stroke-width="0.4"/>
<text x="617.00" y="758.10" font-size="5.1" fill="#333" text-anchor="middle" transform="rotate(0.04 617.00 758.10)" stroke="#333" stroke-width="0.250">Old</text>
<text x="643.80" y="758.10" font-size="5.1" fill="#333" text-anchor="middle" transform="rotate(0.04 643.80 758.10)" stroke="#333" stroke-width="0.250">Young</text>
<path d="M617.00 697.00V695.50H643.80V697.00" stroke="#333" stroke-width="0.6" fill="none"/>
<text x="630.40" y="696.30" font-size="5.8" fill="#222" text-anchor="middle" font-weight="bold" transform="rotate(0.04 630.40 696.30)">**</text>
<path d="M372.80 769.40V831.40H429.40" stroke="#333" stroke-width="0.7" fill="none"/>
<path d="M371.80 784.30H372.80" stroke="#444" stroke-width="0.45"/>
<text x="369.80" y="785.50" font-size="3.5" fill="#666" text-anchor="end" transform="rotate(0.04 369.80 785.50)" stroke="#666" stroke-width="0.175">300</text>
<path d="M371.80 804.10H372.80" stroke="#444" stroke-width="0.45"/>
<text x="369.80" y="805.30" font-size="3.5" fill="#666" text-anchor="end" transform="rotate(0.04 369.80 805.30)" stroke="#666" stroke-width="0.175">200</text>
<path d="M371.80 824.00H372.80" stroke="#444" stroke-width="0.45"/>
<text x="369.80" y="825.20" font-size="3.5" fill="#666" text-anchor="end" transform="rotate(0.04 369.80 825.20)" stroke="#666" stroke-width="0.175">100</text>
<text x="402.60" y="768.00" font-size="7.05" fill="#111" text-anchor="middle" transform="rotate(0.04 402.60 768.00)" stroke="#111" stroke-width="0.250">SLAMF8</text>
<path d="M389.30 817.50V820.00M383.90 817.50h10.80" stroke="#333" stroke-width="0.7"/><path d="M389.30 826.50V828.20" stroke="#333" stroke-width="0.7"/><path d="M383.90 828.20h10.80" stroke="#777" stroke-width="0.85"/><rect x="383.90" y="820.00" width="10.80" height="6.50" fill="#3E5558" stroke="#222" stroke-width="0.65"/><path d="M383.90 822.00h10.80" stroke="#222" stroke-width="0.9"/>
<path d="M417.00 819.00V821.50" stroke="#333" stroke-width="0.7"/><path d="M411.60 821.50h10.80" stroke="#777" stroke-width="0.85"/><rect x="411.60" y="803.90" width="10.80" height="15.10" fill="#D98E45" stroke="#222" stroke-width="0.65"/><path d="M411.60 815.00h10.80" stroke="#222" stroke-width="0.9"/>
<path d="M389.30 831.40v1M417.00 831.40v1" stroke="#333" stroke-width="0.4"/>
<text x="389.30" y="837.50" font-size="5.1" fill="#333" text-anchor="middle" transform="rotate(0.04 389.30 837.50)" stroke="#333" stroke-width="0.250">Old</text>
<text x="417.00" y="837.50" font-size="5.1" fill="#333" text-anchor="middle" transform="rotate(0.04 417.00 837.50)" stroke="#333" stroke-width="0.250">Young</text>
<path d="M389.30 775.10V773.60H417.00V775.10" stroke="#333" stroke-width="0.6" fill="none"/>
<text x="403.15" y="774.40" font-size="5.8" fill="#222" text-anchor="middle" font-weight="bold" transform="rotate(0.04 403.15 774.40)">*</text>
<path d="M450.50 769.40V831.40H501.40" stroke="#333" stroke-width="0.7" fill="none"/>
<path d="M449.50 771.10H450.50" stroke="#444" stroke-width="0.45"/>
<text x="447.50" y="772.30" font-size="3.5" fill="#666" text-anchor="end" transform="rotate(0.04 447.50 772.30)" stroke="#666" stroke-width="0.175">250</text>
<path d="M449.50 786.00H450.50" stroke="#444" stroke-width="0.45"/>
<text x="447.50" y="787.20" font-size="3.5" fill="#666" text-anchor="end" transform="rotate(0.04 447.50 787.20)" stroke="#666" stroke-width="0.175">200</text>
<path d="M449.50 800.90H450.50" stroke="#444" stroke-width="0.45"/>
<text x="447.50" y="802.10" font-size="3.5" fill="#666" text-anchor="end" transform="rotate(0.04 447.50 802.10)" stroke="#666" stroke-width="0.175">150</text>
<path d="M449.50 815.80H450.50" stroke="#444" stroke-width="0.45"/>
<text x="447.50" y="817.00" font-size="3.5" fill="#666" text-anchor="end" transform="rotate(0.04 447.50 817.00)" stroke="#666" stroke-width="0.175">100</text>
<path d="M449.50 830.70H450.50" stroke="#444" stroke-width="0.45"/>
<text x="447.50" y="831.90" font-size="3.5" fill="#666" text-anchor="end" transform="rotate(0.04 447.50 831.90)" stroke="#666" stroke-width="0.175">50</text>
<text x="480.30" y="768.00" font-size="7.05" fill="#111" text-anchor="middle" transform="rotate(0.04 480.30 768.00)" stroke="#111" stroke-width="0.250">HPGDS</text>
<path d="M467.30 807.90V818.30M461.90 807.90h10.80" stroke="#333" stroke-width="0.7"/><path d="M467.30 825.70V829.00" stroke="#333" stroke-width="0.7"/><path d="M461.90 829.00h10.80" stroke="#777" stroke-width="0.85"/><rect x="461.90" y="818.30" width="10.80" height="7.40" fill="#3E5558" stroke="#222" stroke-width="0.65"/><path d="M461.90 821.50h10.80" stroke="#222" stroke-width="0.9"/>
<path d="M495.80 775.40V794.20M490.40 775.40h10.80" stroke="#333" stroke-width="0.7"/><path d="M495.80 810.30V824.00" stroke="#333" stroke-width="0.7"/><path d="M490.40 824.00h10.80" stroke="#777" stroke-width="0.85"/><rect x="490.40" y="794.20" width="10.80" height="16.10" fill="#D98E45" stroke="#222" stroke-width="0.65"/><path d="M490.40 802.20h10.80" stroke="#222" stroke-width="0.9"/>
<path d="M467.30 831.40v1M495.80 831.40v1" stroke="#333" stroke-width="0.4"/>
<text x="467.30" y="837.50" font-size="5.1" fill="#333" text-anchor="middle" transform="rotate(0.04 467.30 837.50)" stroke="#333" stroke-width="0.250">Old</text>
<text x="495.80" y="837.50" font-size="5.1" fill="#333" text-anchor="middle" transform="rotate(0.04 495.80 837.50)" stroke="#333" stroke-width="0.250">Young</text>
<path d="M467.30 775.10V773.60H495.80V775.10" stroke="#333" stroke-width="0.6" fill="none"/>
<text x="481.55" y="774.40" font-size="5.8" fill="#222" text-anchor="middle" font-weight="bold" transform="rotate(0.04 481.55 774.40)">*</text>
<text x="359.20" y="715.80" font-size="7.0" fill="#111" text-anchor="middle" transform="rotate(-89.96 359.20 715.80)" stroke="#111" stroke-width="0.250">Gene expression (signal intensity)</text></svg></body></html>
